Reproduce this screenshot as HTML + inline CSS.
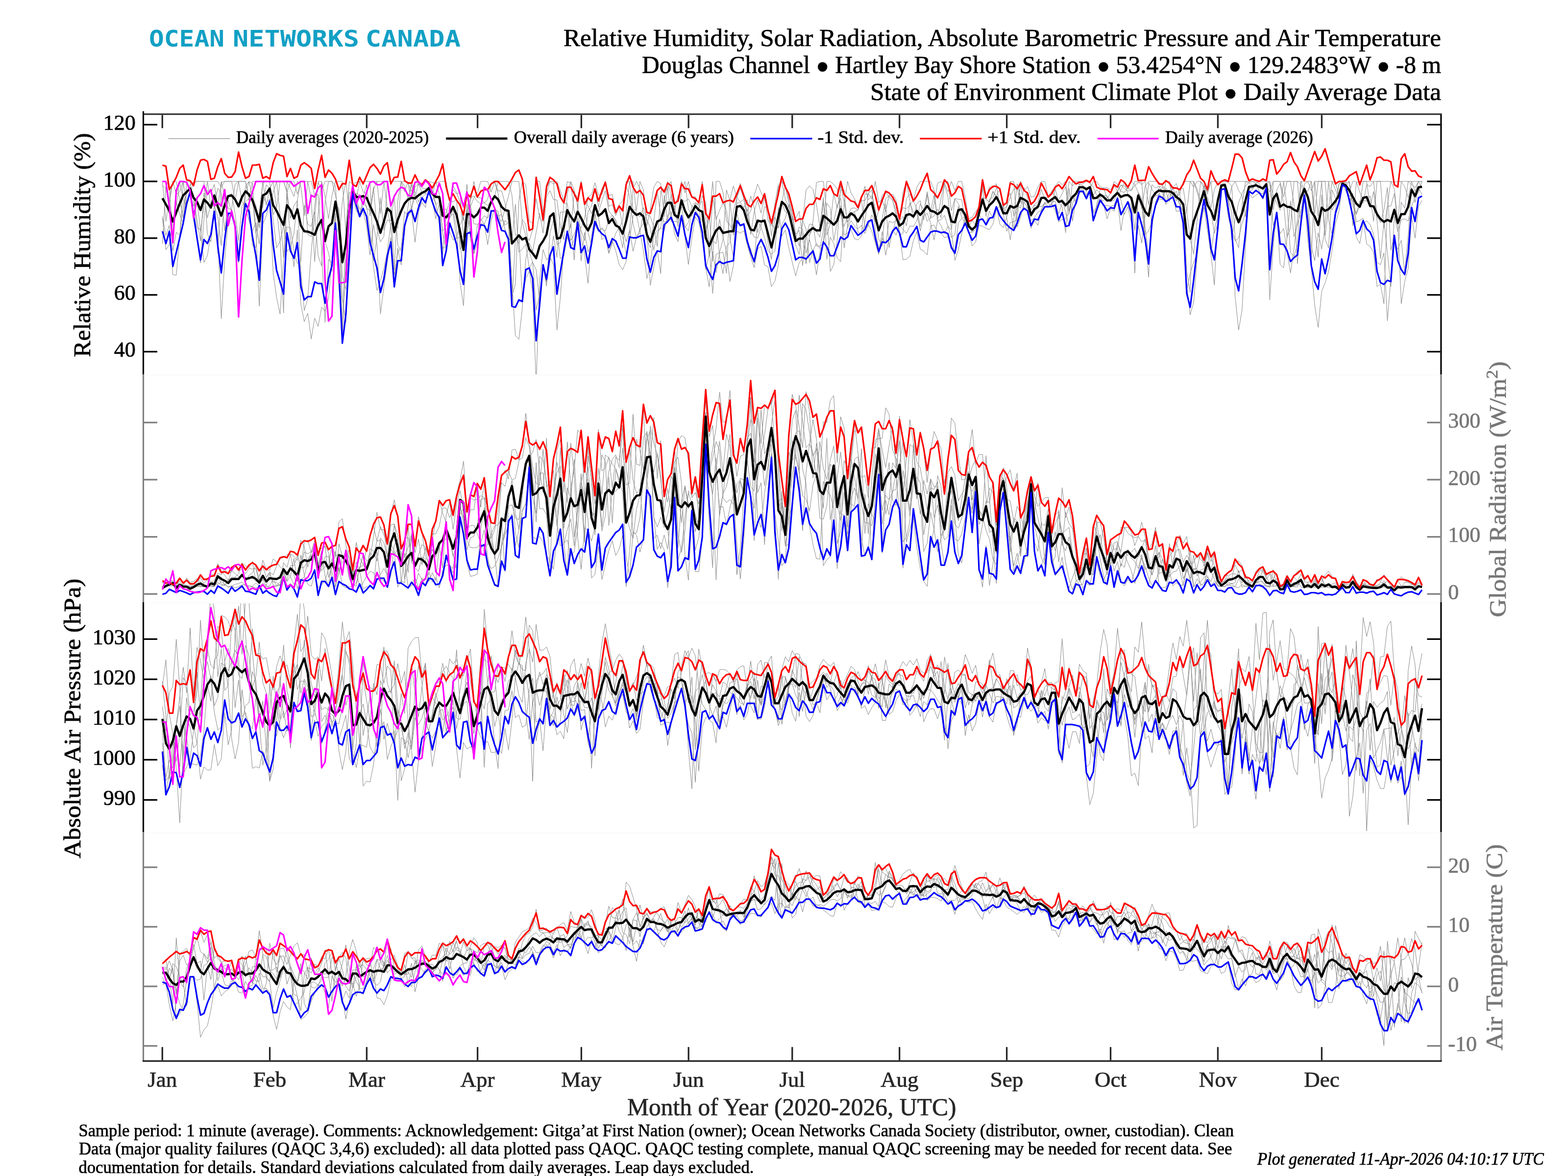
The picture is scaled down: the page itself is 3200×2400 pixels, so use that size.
<!DOCTYPE html><html><head><meta charset="utf-8"><title>Climate Plot</title><style>html,body{margin:0;padding:0;background:#fff;overflow:hidden}svg{display:block}text{font-family:"Liberation Serif", "DejaVu Serif", serif;}</style></head><body>
<svg xmlns="http://www.w3.org/2000/svg" width="3200" height="2400" viewBox="0 0 3200 2400">
<rect width="3200" height="2400" fill="#fff"/>
<defs>
<clipPath id="cp0"><rect x="292.5" y="233.0" width="2648.4" height="531.3"/></clipPath>
<clipPath id="cp1"><rect x="292.5" y="764.3" width="2648.4" height="464.60000000000014"/></clipPath>
<clipPath id="cp2"><rect x="292.5" y="1228.9" width="2648.4" height="469.29999999999995"/></clipPath>
<clipPath id="cp3"><rect x="292.5" y="1698.2" width="2648.4" height="467.10000000000014"/></clipPath>
</defs>
<polyline points="331.5,497.3 338.6,378.4 345.6,416.1 352.7,370.2 359.7,396.8 366.8,390.8 373.9,370.2 380.9,370.2 388.0,370.2 395.1,448.5 402.1,490.7 409.2,536.8 416.2,447.3 423.3,388.3 430.4,395.4 437.4,376.1 444.5,420.5 451.6,370.2 458.6,401.1 465.7,399.2 472.7,395.2 479.8,436.4 486.9,491.2 493.9,420.3 501.0,411.3 508.1,405.3 515.1,500.9 522.2,505.1 529.2,432.7 536.3,423.5 543.4,376.9 550.4,385.3 557.5,447.9 564.5,506.0 571.6,491.6 578.7,638.8 585.7,370.2 592.8,385.0 599.9,400.9 606.9,370.2 614.0,379.2 621.0,439.8 628.1,370.2 635.2,370.2 642.2,398.6 649.3,396.8 656.4,509.8 663.4,658.2 670.5,529.2 677.5,536.6 684.6,414.0 691.7,425.9 698.7,563.9 705.8,590.7 712.8,499.6 719.9,384.8 727.0,406.4 734.0,370.2 741.1,391.5 748.2,396.0 755.2,370.2 762.3,370.2 769.3,370.2 776.4,436.2 783.5,370.2 790.5,370.2 797.6,416.5 804.7,551.0 811.7,409.3 818.8,370.2 825.8,391.1 832.9,370.2 840.0,430.2 847.0,381.2 854.1,375.6 861.1,383.4 868.2,385.5 875.3,383.2 882.3,397.6 889.4,370.2 896.5,396.3 903.5,477.0 910.6,509.2 917.6,472.7 924.7,490.0 931.8,484.9 938.8,459.7 945.9,442.6 953.0,485.6 960.0,412.6 967.1,370.2 974.1,403.4 981.2,403.8 988.3,414.3 995.3,406.4 1002.4,374.9 1009.5,372.0 1016.5,394.2 1023.6,440.6 1030.6,459.6 1037.7,453.9 1044.8,622.7 1051.8,487.8 1058.9,496.6 1065.9,447.8 1073.0,458.4 1080.1,513.7 1087.1,535.6 1094.2,550.2 1101.3,615.4 1108.3,542.3 1115.4,584.1 1122.4,476.1 1129.5,448.7 1136.6,498.8 1143.6,494.8 1150.7,414.5 1157.8,415.6 1164.8,466.1 1171.9,394.5 1178.9,402.7 1186.0,370.2 1193.1,419.3 1200.1,474.9 1207.2,501.8 1214.2,436.9 1221.3,472.5 1228.4,464.3 1235.4,476.2 1242.5,515.1 1249.6,496.8 1256.6,476.5 1263.7,463.4 1270.7,482.6 1277.8,517.0 1284.9,489.5 1291.9,440.4 1299.0,435.8 1306.1,442.4 1313.1,423.7 1320.2,448.7 1327.2,465.1 1334.3,510.6 1341.4,475.9 1348.4,464.4 1355.5,411.0 1362.6,370.2 1369.6,396.8 1376.7,440.9 1383.7,449.0 1390.8,421.2 1397.9,464.1 1404.9,453.7 1412.0,421.0 1419.0,413.0 1426.1,417.8 1433.2,410.6 1440.2,474.6 1447.3,447.7 1454.4,370.2 1461.4,448.2 1468.5,429.2 1475.5,414.3 1482.6,428.5 1489.7,486.7 1496.7,524.7 1503.8,402.8 1510.9,412.1 1517.9,406.6 1525.0,435.2 1532.0,469.8 1539.1,483.7 1546.2,485.7 1553.2,464.3 1560.3,485.0 1567.4,512.1 1574.4,518.5 1581.5,512.9 1588.5,422.9 1595.6,482.0 1602.7,469.4 1609.7,505.3 1616.8,535.0 1623.8,562.9 1630.9,536.3 1638.0,526.9 1645.0,481.5 1652.1,457.3 1659.2,458.4 1666.2,502.1 1673.3,502.2 1680.3,497.1 1687.4,454.0 1694.5,457.0 1701.5,452.6 1708.6,419.0 1715.7,404.4 1722.7,479.6 1729.8,475.4 1736.8,468.1 1743.9,487.2 1751.0,489.6 1758.0,482.3 1765.1,454.0 1772.1,395.1 1779.2,406.3 1786.3,370.2 1793.3,413.2 1800.4,406.5 1807.5,431.6 1814.5,398.3 1821.6,396.2 1828.6,407.3 1835.7,442.8 1842.8,423.8 1849.8,426.1 1856.9,418.4 1864.0,409.2 1871.0,382.4 1878.1,370.2 1885.1,370.2 1892.2,370.2 1899.3,370.2 1906.3,388.0 1913.4,448.7 1920.5,404.2 1927.5,373.0 1934.6,391.2 1941.6,370.2 1948.7,388.5 1955.8,370.2 1962.8,370.2 1969.9,403.0 1976.9,446.7 1984.0,443.2 1991.1,431.7 1998.1,423.4 2005.2,403.2 2012.3,405.3 2019.3,381.3 2026.4,383.4 2033.4,374.8 2040.5,424.3 2047.6,438.5 2054.6,422.3 2061.7,370.2 2068.8,370.2 2075.8,463.6 2082.9,444.2 2089.9,411.6 2097.0,424.1 2104.1,450.9 2111.1,444.0 2118.2,432.6 2125.2,428.9 2132.3,415.4 2139.4,421.8 2146.4,415.5 2153.5,430.4 2160.6,453.0 2167.6,447.6 2174.7,445.7 2181.7,435.1 2188.8,402.0 2195.9,411.6 2202.9,390.3 2210.0,390.7 2217.1,400.7 2224.1,386.1 2231.2,435.5 2238.2,428.4 2245.3,410.2 2252.4,417.1 2259.4,446.7 2266.5,425.4 2273.6,431.0 2280.6,408.8 2287.7,470.6 2294.7,425.7 2301.8,410.5 2308.9,421.8 2315.9,557.4 2323.0,392.7 2330.0,404.4 2337.1,479.2 2344.2,470.8 2351.2,451.9 2358.3,420.5 2365.4,405.7 2372.4,407.5 2379.5,370.2 2386.5,370.2 2393.6,401.0 2400.7,389.8 2407.7,418.9 2414.8,416.2 2421.9,553.2 2428.9,596.6 2436.0,370.2 2443.0,385.7 2450.1,409.8 2457.2,378.6 2464.2,391.3 2471.3,370.2 2478.3,370.2 2485.4,370.2 2492.5,370.2 2499.5,370.2 2506.6,372.2 2513.7,379.3 2520.7,487.3 2527.8,505.8 2534.8,420.0 2541.9,370.2 2549.0,373.5 2556.0,378.2 2563.1,379.1 2570.2,384.0 2577.2,382.3 2584.3,378.2 2591.3,391.5 2598.4,370.2 2605.5,370.2 2612.5,370.2 2619.6,370.2 2626.7,370.2 2633.7,370.2 2640.8,370.7 2647.8,370.2 2654.9,453.3 2662.0,401.2 2669.0,399.7 2676.1,502.5 2683.1,531.8 2690.2,475.1 2697.3,508.3 2704.3,461.5 2711.4,370.2 2718.5,370.2 2725.5,371.7 2732.6,400.8 2739.6,373.4 2746.7,371.7 2753.8,416.8 2760.8,394.4 2767.9,483.6 2775.0,497.1 2782.0,456.8 2789.1,450.5 2796.1,458.2 2803.2,477.6 2810.3,535.8 2817.3,540.1 2824.4,516.2 2831.4,655.0 2838.5,566.8 2845.6,441.0 2852.6,472.5 2859.7,448.2 2866.8,446.7 2873.8,450.9 2880.9,420.7 2887.9,402.8 2895.0,392.0 2902.1,370.2" fill="none" stroke="#898989" stroke-width="1.0" stroke-linejoin="round" clip-path="url(#cp0)"/>
<polyline points="331.5,370.2 338.6,452.0 345.6,404.0 352.7,370.2 359.7,370.2 366.8,408.3 373.9,444.9 380.9,374.0 388.0,385.0 395.1,407.0 402.1,465.3 409.2,467.9 416.2,535.9 423.3,521.5 430.4,475.8 437.4,420.2 444.5,443.3 451.6,501.7 458.6,386.7 465.7,425.8 472.7,427.5 479.8,457.1 486.9,536.2 493.9,462.1 501.0,379.7 508.1,370.5 515.1,401.4 522.2,418.8 529.2,465.0 536.3,370.4 543.4,370.2 550.4,370.2 557.5,437.6 564.5,425.2 571.6,370.2 578.7,370.2 585.7,393.1 592.8,492.3 599.9,544.4 606.9,469.2 614.0,621.1 621.0,656.3 628.1,639.5 635.2,691.8 642.2,649.1 649.3,666.1 656.4,626.7 663.4,635.2 670.5,609.3 677.5,528.2 684.6,484.1 691.7,458.7 698.7,609.3 705.8,658.3 712.8,531.3 719.9,400.5 727.0,430.0 734.0,439.8 741.1,415.9 748.2,420.9 755.2,468.5 762.3,545.7 769.3,592.9 776.4,572.5 783.5,547.9 790.5,513.4 797.6,455.9 804.7,453.1 811.7,466.2 818.8,370.9 825.8,370.2 832.9,375.0 840.0,390.3 847.0,370.2 854.1,377.2 861.1,376.0 868.2,370.2 875.3,370.2 882.3,372.6 889.4,374.3 896.5,370.2 903.5,370.2 910.6,370.2 917.6,411.6 924.7,411.8 931.8,407.6 938.8,509.1 945.9,495.2 953.0,429.4 960.0,418.7 967.1,456.7 974.1,457.9 981.2,450.5 988.3,440.2 995.3,444.8 1002.4,432.7 1009.5,428.5 1016.5,430.6 1023.6,467.5 1030.6,449.9 1037.7,455.5 1044.8,574.0 1051.8,684.9 1058.9,692.5 1065.9,629.4 1073.0,528.4 1080.1,495.7 1087.1,512.9 1094.2,474.3 1101.3,435.2 1108.3,475.8 1115.4,401.4 1122.4,389.0 1129.5,407.1 1136.6,408.2 1143.6,460.7 1150.7,489.5 1157.8,395.5 1164.8,370.2 1171.9,388.1 1178.9,421.0 1186.0,370.2 1193.1,411.3 1200.1,420.2 1207.2,436.2 1214.2,415.9 1221.3,443.5 1228.4,489.0 1235.4,482.2 1242.5,517.7 1249.6,492.0 1256.6,511.8 1263.7,540.0 1270.7,550.5 1277.8,533.9 1284.9,468.9 1291.9,512.6 1299.0,484.2 1306.1,474.3 1313.1,511.1 1320.2,568.5 1327.2,539.7 1334.3,480.4 1341.4,470.7 1348.4,464.8 1355.5,470.9 1362.6,439.2 1369.6,432.3 1376.7,477.1 1383.7,493.2 1390.8,438.2 1397.9,461.9 1404.9,471.3 1412.0,431.2 1419.0,415.3 1426.1,418.4 1433.2,477.4 1440.2,549.8 1447.3,520.0 1454.4,405.3 1461.4,443.0 1468.5,524.8 1475.5,558.7 1482.6,502.6 1489.7,495.5 1496.7,431.8 1503.8,403.4 1510.9,374.3 1517.9,406.8 1525.0,431.5 1532.0,400.1 1539.1,423.5 1546.2,474.7 1553.2,453.8 1560.3,447.8 1567.4,495.6 1574.4,529.6 1581.5,442.4 1588.5,465.8 1595.6,414.0 1602.7,432.3 1609.7,437.4 1616.8,473.0 1623.8,499.7 1630.9,519.2 1638.0,451.7 1645.0,388.0 1652.1,379.2 1659.2,386.7 1666.2,417.7 1673.3,462.7 1680.3,403.1 1687.4,529.5 1694.5,484.0 1701.5,496.8 1708.6,526.3 1715.7,534.3 1722.7,414.6 1729.8,370.2 1736.8,393.8 1743.9,405.8 1751.0,423.2 1758.0,409.2 1765.1,409.8 1772.1,394.7 1779.2,388.1 1786.3,438.5 1793.3,463.9 1800.4,446.9 1807.5,405.5 1814.5,399.5 1821.6,407.4 1828.6,439.1 1835.7,480.8 1842.8,476.0 1849.8,405.4 1856.9,396.1 1864.0,410.3 1871.0,426.0 1878.1,462.1 1885.1,432.9 1892.2,391.3 1899.3,431.1 1906.3,398.2 1913.4,450.0 1920.5,448.3 1927.5,439.3 1934.6,462.3 1941.6,484.7 1948.7,478.6 1955.8,420.7 1962.8,444.1 1969.9,442.8 1976.9,461.2 1984.0,474.5 1991.1,460.3 1998.1,430.4 2005.2,378.5 2012.3,407.0 2019.3,412.5 2026.4,389.8 2033.4,403.9 2040.5,420.9 2047.6,423.8 2054.6,409.3 2061.7,393.6 2068.8,440.8 2075.8,375.0 2082.9,400.6 2089.9,426.5 2097.0,430.2 2104.1,465.7 2111.1,449.5 2118.2,459.9 2125.2,427.9 2132.3,412.5 2139.4,416.0 2146.4,418.3 2153.5,385.2 2160.6,412.2 2167.6,406.5 2174.7,433.6 2181.7,461.2 2188.8,416.0 2195.9,396.5 2202.9,375.7 2210.0,378.1 2217.1,391.3 2224.1,379.8 2231.2,432.0 2238.2,422.4 2245.3,399.8 2252.4,420.4 2259.4,419.0 2266.5,421.7 2273.6,418.6 2280.6,402.4 2287.7,387.2 2294.7,371.9 2301.8,396.6 2308.9,410.3 2315.9,469.9 2323.0,402.0 2330.0,425.8 2337.1,379.4 2344.2,370.2 2351.2,370.2 2358.3,370.2 2365.4,372.1 2372.4,378.0 2379.5,370.2 2386.5,374.0 2393.6,401.5 2400.7,431.5 2407.7,430.2 2414.8,437.7 2421.9,433.2 2428.9,370.2 2436.0,382.0 2443.0,370.2 2450.1,370.2 2457.2,384.8 2464.2,440.9 2471.3,518.8 2478.3,467.4 2485.4,441.7 2492.5,380.1 2499.5,377.7 2506.6,406.3 2513.7,432.3 2520.7,605.1 2527.8,673.4 2534.8,632.8 2541.9,501.4 2549.0,395.0 2556.0,403.9 2563.1,398.0 2570.2,393.6 2577.2,396.0 2584.3,374.6 2591.3,370.2 2598.4,399.0 2605.5,414.1 2612.5,429.4 2619.6,370.2 2626.7,422.0 2633.7,515.6 2640.8,523.2 2647.8,499.8 2654.9,370.2 2662.0,388.5 2669.0,390.2 2676.1,370.2 2683.1,436.3 2690.2,370.2 2697.3,370.2 2704.3,370.2 2711.4,449.0 2718.5,478.4 2725.5,426.9 2732.6,375.9 2739.6,372.2 2746.7,376.1 2753.8,392.2 2760.8,370.2 2767.9,370.2 2775.0,391.9 2782.0,408.7 2789.1,410.5 2796.1,399.6 2803.2,451.5 2810.3,370.2 2817.3,370.2 2824.4,465.3 2831.4,421.0 2838.5,420.6 2845.6,394.7 2852.6,459.1 2859.7,370.2 2866.8,381.2 2873.8,403.4 2880.9,370.2 2887.9,390.6 2895.0,370.2 2902.1,370.7" fill="none" stroke="#898989" stroke-width="1.0" stroke-linejoin="round" clip-path="url(#cp0)"/>
<polyline points="331.5,378.2 338.6,385.3 345.6,422.5 352.7,512.1 359.7,474.1 366.8,479.9 373.9,419.9 380.9,387.4 388.0,390.2 395.1,404.4 402.1,448.8 409.2,491.7 416.2,394.0 423.3,444.6 430.4,416.9 437.4,399.9 444.5,518.0 451.6,372.1 458.6,370.2 465.7,370.2 472.7,370.2 479.8,370.2 486.9,370.2 493.9,370.2 501.0,370.2 508.1,401.2 515.1,406.5 522.2,476.0 529.2,431.7 536.3,373.5 543.4,370.2 550.4,370.2 557.5,370.2 564.5,426.3 571.6,492.5 578.7,460.3 585.7,513.2 592.8,504.5 599.9,476.2 606.9,407.0 614.0,370.2 621.0,370.2 628.1,478.2 635.2,483.1 642.2,419.1 649.3,371.9 656.4,388.2 663.4,370.2 670.5,370.2 677.5,370.2 684.6,378.8 691.7,490.1 698.7,410.9 705.8,370.2 712.8,430.9 719.9,399.2 727.0,393.9 734.0,398.7 741.1,403.4 748.2,424.8 755.2,430.2 762.3,381.7 769.3,466.4 776.4,493.9 783.5,482.2 790.5,370.2 797.6,370.2 804.7,370.2 811.7,370.2 818.8,370.2 825.8,380.1 832.9,406.2 840.0,371.3 847.0,391.9 854.1,412.4 861.1,394.2 868.2,391.1 875.3,387.8 882.3,409.5 889.4,446.7 896.5,414.4 903.5,519.3 910.6,433.0 917.6,412.2 924.7,379.7 931.8,392.1 938.8,412.9 945.9,450.1 953.0,376.1 960.0,488.0 967.1,516.7 974.1,459.6 981.2,457.1 988.3,456.5 995.3,499.4 1002.4,451.5 1009.5,422.4 1016.5,443.7 1023.6,451.9 1030.6,426.4 1037.7,400.3 1044.8,370.2 1051.8,370.2 1058.9,370.2 1065.9,453.6 1073.0,481.2 1080.1,490.9 1087.1,468.4 1094.2,370.2 1101.3,370.2 1108.3,432.4 1115.4,396.0 1122.4,370.2 1129.5,370.2 1136.6,471.2 1143.6,527.9 1150.7,522.9 1157.8,483.6 1164.8,505.9 1171.9,489.1 1178.9,449.9 1186.0,470.2 1193.1,491.0 1200.1,432.2 1207.2,420.2 1214.2,386.5 1221.3,422.7 1228.4,384.9 1235.4,370.2 1242.5,421.2 1249.6,417.5 1256.6,440.0 1263.7,421.9 1270.7,462.4 1277.8,494.0 1284.9,470.4 1291.9,384.7 1299.0,370.2 1306.1,384.5 1313.1,438.5 1320.2,489.2 1327.2,505.6 1334.3,450.5 1341.4,391.0 1348.4,439.7 1355.5,453.2 1362.6,452.2 1369.6,395.9 1376.7,428.4 1383.7,398.9 1390.8,407.9 1397.9,411.1 1404.9,406.0 1412.0,420.6 1419.0,428.5 1426.1,439.7 1433.2,450.2 1440.2,475.3 1447.3,435.5 1454.4,533.7 1461.4,370.2 1468.5,370.2 1475.5,392.4 1482.6,451.5 1489.7,458.3 1496.7,473.4 1503.8,436.4 1510.9,461.8 1517.9,459.0 1525.0,496.1 1532.0,508.3 1539.1,536.9 1546.2,450.7 1553.2,463.7 1560.3,421.7 1567.4,428.6 1574.4,482.0 1581.5,414.8 1588.5,377.0 1595.6,370.2 1602.7,406.2 1609.7,422.9 1616.8,443.7 1623.8,480.4 1630.9,502.1 1638.0,449.2 1645.0,467.9 1652.1,536.1 1659.2,510.9 1666.2,497.0 1673.3,507.4 1680.3,469.7 1687.4,370.2 1694.5,370.2 1701.5,376.2 1708.6,385.7 1715.7,437.2 1722.7,462.2 1729.8,441.7 1736.8,425.4 1743.9,424.2 1751.0,429.0 1758.0,406.6 1765.1,380.1 1772.1,408.1 1779.2,398.8 1786.3,426.1 1793.3,488.1 1800.4,501.8 1807.5,415.0 1814.5,505.5 1821.6,468.8 1828.6,480.1 1835.7,460.6 1842.8,467.8 1849.8,476.2 1856.9,461.0 1864.0,462.0 1871.0,451.0 1878.1,415.8 1885.1,428.3 1892.2,451.5 1899.3,444.5 1906.3,440.9 1913.4,426.6 1920.5,444.2 1927.5,370.5 1934.6,370.2 1941.6,430.0 1948.7,405.0 1955.8,406.5 1962.8,407.3 1969.9,451.5 1976.9,474.2 1984.0,473.7 1991.1,468.7 1998.1,437.2 2005.2,450.3 2012.3,455.9 2019.3,430.6 2026.4,446.3 2033.4,421.9 2040.5,457.6 2047.6,464.4 2054.6,442.2 2061.7,421.5 2068.8,468.9 2075.8,430.2 2082.9,370.2 2089.9,426.5 2097.0,423.7 2104.1,442.6 2111.1,418.9 2118.2,420.9 2125.2,421.9 2132.3,413.9 2139.4,423.3 2146.4,414.9 2153.5,405.5 2160.6,413.5 2167.6,422.3 2174.7,474.9 2181.7,384.4 2188.8,451.2 2195.9,405.7 2202.9,386.4 2210.0,386.5 2217.1,397.2 2224.1,386.4 2231.2,370.2 2238.2,370.2 2245.3,381.4 2252.4,383.7 2259.4,382.8 2266.5,387.4 2273.6,376.6 2280.6,391.1 2287.7,377.6 2294.7,379.8 2301.8,385.8 2308.9,370.2 2315.9,376.8 2323.0,392.9 2330.0,418.5 2337.1,490.2 2344.2,565.5 2351.2,406.7 2358.3,400.3 2365.4,396.4 2372.4,380.2 2379.5,413.0 2386.5,392.1 2393.6,391.4 2400.7,410.2 2407.7,384.3 2414.8,384.5 2421.9,431.3 2428.9,487.4 2436.0,518.4 2443.0,450.2 2450.1,370.2 2457.2,377.2 2464.2,396.1 2471.3,370.2 2478.3,438.0 2485.4,404.5 2492.5,379.6 2499.5,382.1 2506.6,443.1 2513.7,468.3 2520.7,491.5 2527.8,485.8 2534.8,456.4 2541.9,434.5 2549.0,384.9 2556.0,384.0 2563.1,373.7 2570.2,370.2 2577.2,370.2 2584.3,370.2 2591.3,370.2 2598.4,427.8 2605.5,388.0 2612.5,374.4 2619.6,416.0 2626.7,485.8 2633.7,410.0 2640.8,482.9 2647.8,457.6 2654.9,432.1 2662.0,390.6 2669.0,430.9 2676.1,527.6 2683.1,370.2 2690.2,440.8 2697.3,370.2 2704.3,481.0 2711.4,425.1 2718.5,370.2 2725.5,387.1 2732.6,404.9 2739.6,377.8 2746.7,390.1 2753.8,405.9 2760.8,409.2 2767.9,437.6 2775.0,419.2 2782.0,370.2 2789.1,370.2 2796.1,423.5 2803.2,390.8 2810.3,450.4 2817.3,527.8 2824.4,451.5 2831.4,514.7 2838.5,584.8 2845.6,494.9 2852.6,508.5 2859.7,490.1 2866.8,556.8 2873.8,479.8 2880.9,382.4 2887.9,413.4 2895.0,383.7 2902.1,397.4" fill="none" stroke="#898989" stroke-width="1.0" stroke-linejoin="round" clip-path="url(#cp0)"/>
<polyline points="331.5,441.4 338.6,480.7 345.6,459.7 352.7,560.6 359.7,561.7 366.8,482.9 373.9,370.2 380.9,415.8 388.0,394.2 395.1,370.2 402.1,370.2 409.2,370.2 416.2,370.2 423.3,370.2 430.4,422.6 437.4,417.4 444.5,383.9 451.6,394.8 458.6,471.0 465.7,408.1 472.7,433.5 479.8,452.2 486.9,520.5 493.9,454.8 501.0,399.5 508.1,370.2 515.1,374.6 522.2,469.3 529.2,625.0 536.3,457.6 543.4,440.7 550.4,411.3 557.5,393.5 564.5,370.2 571.6,439.9 578.7,525.4 585.7,393.0 592.8,370.2 599.9,370.2 606.9,396.2 614.0,370.2 621.0,370.2 628.1,370.2 635.2,406.7 642.2,533.7 649.3,436.6 656.4,370.2 663.4,493.2 670.5,516.1 677.5,554.3 684.6,435.9 691.7,589.7 698.7,671.7 705.8,471.7 712.8,393.2 719.9,390.1 727.0,399.9 734.0,439.2 741.1,401.5 748.2,377.1 755.2,440.5 762.3,386.5 769.3,370.2 776.4,370.2 783.5,370.2 790.5,425.0 797.6,463.9 804.7,580.1 811.7,506.5 818.8,540.8 825.8,467.5 832.9,420.8 840.0,376.4 847.0,403.6 854.1,420.4 861.1,403.3 868.2,396.4 875.3,395.6 882.3,409.6 889.4,392.6 896.5,409.4 903.5,471.7 910.6,460.2 917.6,442.0 924.7,436.3 931.8,487.2 938.8,483.1 945.9,565.6 953.0,435.6 960.0,404.0 967.1,400.1 974.1,411.1 981.2,416.2 988.3,413.3 995.3,419.6 1002.4,410.3 1009.5,400.9 1016.5,370.2 1023.6,370.2 1030.6,370.2 1037.7,370.2 1044.8,398.2 1051.8,479.9 1058.9,478.6 1065.9,606.8 1073.0,569.2 1080.1,553.3 1087.1,595.4 1094.2,782.8 1101.3,572.3 1108.3,508.9 1115.4,530.5 1122.4,523.8 1129.5,540.0 1136.6,673.7 1143.6,607.0 1150.7,503.2 1157.8,478.2 1164.8,457.5 1171.9,530.7 1178.9,416.0 1186.0,485.3 1193.1,520.2 1200.1,578.2 1207.2,481.7 1214.2,440.9 1221.3,432.5 1228.4,410.0 1235.4,388.9 1242.5,430.7 1249.6,439.9 1256.6,451.2 1263.7,467.0 1270.7,450.0 1277.8,370.2 1284.9,370.2 1291.9,429.0 1299.0,427.4 1306.1,370.2 1313.1,387.5 1320.2,460.9 1327.2,427.4 1334.3,381.7 1341.4,370.2 1348.4,374.3 1355.5,441.8 1362.6,380.4 1369.6,452.3 1376.7,452.0 1383.7,453.1 1390.8,440.6 1397.9,484.7 1404.9,539.7 1412.0,485.4 1419.0,442.4 1426.1,453.3 1433.2,489.4 1440.2,545.3 1447.3,585.5 1454.4,513.2 1461.4,556.6 1468.5,516.8 1475.5,514.5 1482.6,557.7 1489.7,407.2 1496.7,379.6 1503.8,402.9 1510.9,384.7 1517.9,405.0 1525.0,441.6 1532.0,431.0 1539.1,399.8 1546.2,375.8 1553.2,392.6 1560.3,406.7 1567.4,431.4 1574.4,456.0 1581.5,467.4 1588.5,464.1 1595.6,412.7 1602.7,377.1 1609.7,405.7 1616.8,434.9 1623.8,486.2 1630.9,463.2 1638.0,467.7 1645.0,516.3 1652.1,489.2 1659.2,518.4 1666.2,560.7 1673.3,513.5 1680.3,494.4 1687.4,414.6 1694.5,424.4 1701.5,491.1 1708.6,453.5 1715.7,419.8 1722.7,506.1 1729.8,461.0 1736.8,437.7 1743.9,431.5 1751.0,473.7 1758.0,477.2 1765.1,396.4 1772.1,396.0 1779.2,378.6 1786.3,469.9 1793.3,507.7 1800.4,486.1 1807.5,496.2 1814.5,451.3 1821.6,454.8 1828.6,450.6 1835.7,450.4 1842.8,441.6 1849.8,461.1 1856.9,414.2 1864.0,432.7 1871.0,434.4 1878.1,471.6 1885.1,441.0 1892.2,435.1 1899.3,455.2 1906.3,490.0 1913.4,449.6 1920.5,460.6 1927.5,476.4 1934.6,461.5 1941.6,470.2 1948.7,531.4 1955.8,509.7 1962.8,476.8 1969.9,438.8 1976.9,453.7 1984.0,468.7 1991.1,458.5 1998.1,424.1 2005.2,370.2 2012.3,406.4 2019.3,412.8 2026.4,392.1 2033.4,398.9 2040.5,386.2 2047.6,421.5 2054.6,444.5 2061.7,489.5 2068.8,446.4 2075.8,420.3 2082.9,424.7 2089.9,383.1 2097.0,403.3 2104.1,442.4 2111.1,431.9 2118.2,425.6 2125.2,404.9 2132.3,402.7 2139.4,409.2 2146.4,412.4 2153.5,411.1 2160.6,436.4 2167.6,414.0 2174.7,423.0 2181.7,370.2 2188.8,378.9 2195.9,373.4 2202.9,376.4 2210.0,370.2 2217.1,370.2 2224.1,372.8 2231.2,398.9 2238.2,387.2 2245.3,395.0 2252.4,398.9 2259.4,399.8 2266.5,411.7 2273.6,398.6 2280.6,389.0 2287.7,377.1 2294.7,384.6 2301.8,389.5 2308.9,389.0 2315.9,378.2 2323.0,372.8 2330.0,370.7 2337.1,466.1 2344.2,520.4 2351.2,463.0 2358.3,412.7 2365.4,395.1 2372.4,405.2 2379.5,383.5 2386.5,394.2 2393.6,402.1 2400.7,403.5 2407.7,395.9 2414.8,471.5 2421.9,581.2 2428.9,642.5 2436.0,617.4 2443.0,527.1 2450.1,456.3 2457.2,400.8 2464.2,402.6 2471.3,423.8 2478.3,386.5 2485.4,372.6 2492.5,377.2 2499.5,370.2 2506.6,370.2 2513.7,370.2 2520.7,370.2 2527.8,370.2 2534.8,370.2 2541.9,370.2 2549.0,370.2 2556.0,370.2 2563.1,374.6 2570.2,382.5 2577.2,384.8 2584.3,374.4 2591.3,370.2 2598.4,460.6 2605.5,435.7 2612.5,477.4 2619.6,466.0 2626.7,514.6 2633.7,557.1 2640.8,507.7 2647.8,446.5 2654.9,370.2 2662.0,370.2 2669.0,370.2 2676.1,370.2 2683.1,464.4 2690.2,524.6 2697.3,397.7 2704.3,488.2 2711.4,505.9 2718.5,387.2 2725.5,404.6 2732.6,405.3 2739.6,378.2 2746.7,380.1 2753.8,370.2 2760.8,460.7 2767.9,372.8 2775.0,370.2 2782.0,370.2 2789.1,370.2 2796.1,370.2 2803.2,370.2 2810.3,441.8 2817.3,454.0 2824.4,428.0 2831.4,382.8 2838.5,510.9 2845.6,479.8 2852.6,527.2 2859.7,412.5 2866.8,424.9 2873.8,370.2 2880.9,376.8 2887.9,382.8 2895.0,370.2 2902.1,384.5" fill="none" stroke="#898989" stroke-width="1.0" stroke-linejoin="round" clip-path="url(#cp0)"/>
<polyline points="331.5,446.0 338.6,509.8 345.6,499.1 352.7,449.0 359.7,420.7 366.8,370.2 373.9,407.9 380.9,421.7 388.0,396.2 395.1,420.4 402.1,406.7 409.2,471.5 416.2,420.9 423.3,370.2 430.4,370.2 437.4,370.2 444.5,370.2 451.6,382.2 458.6,370.2 465.7,370.2 472.7,370.2 479.8,409.1 486.9,370.2 493.9,410.3 501.0,425.2 508.1,450.0 515.1,471.9 522.2,454.0 529.2,498.0 536.3,398.1 543.4,414.4 550.4,405.7 557.5,557.3 564.5,607.4 571.6,641.1 578.7,530.2 585.7,463.0 592.8,464.9 599.9,513.3 606.9,537.7 614.0,533.1 621.0,418.7 628.1,457.6 635.2,462.2 642.2,432.9 649.3,522.3 656.4,543.0 663.4,412.5 670.5,370.2 677.5,370.2 684.6,398.6 691.7,434.2 698.7,685.1 705.8,529.5 712.8,460.6 719.9,391.5 727.0,409.8 734.0,426.0 741.1,431.8 748.2,461.5 755.2,520.4 762.3,458.5 769.3,497.2 776.4,641.0 783.5,584.4 790.5,534.1 797.6,484.7 804.7,561.0 811.7,515.9 818.8,504.8 825.8,431.5 832.9,441.4 840.0,430.9 847.0,494.2 854.1,431.8 861.1,413.1 868.2,423.2 875.3,383.3 882.3,386.7 889.4,416.2 896.5,456.7 903.5,507.3 910.6,502.1 917.6,427.4 924.7,386.7 931.8,395.9 938.8,391.9 945.9,484.6 953.0,416.2 960.0,476.7 967.1,518.4 974.1,495.6 981.2,446.0 988.3,457.5 995.3,441.4 1002.4,410.7 1009.5,422.0 1016.5,441.2 1023.6,437.4 1030.6,469.0 1037.7,487.4 1044.8,489.2 1051.8,417.0 1058.9,514.9 1065.9,508.4 1073.0,498.5 1080.1,547.5 1087.1,534.0 1094.2,632.6 1101.3,601.1 1108.3,540.1 1115.4,576.2 1122.4,534.6 1129.5,481.0 1136.6,525.7 1143.6,432.6 1150.7,433.1 1157.8,428.5 1164.8,490.9 1171.9,478.0 1178.9,456.3 1186.0,465.2 1193.1,445.7 1200.1,402.0 1207.2,397.3 1214.2,373.0 1221.3,398.1 1228.4,396.9 1235.4,375.7 1242.5,398.7 1249.6,396.9 1256.6,433.5 1263.7,417.8 1270.7,410.2 1277.8,379.5 1284.9,399.8 1291.9,456.2 1299.0,486.0 1306.1,467.1 1313.1,455.9 1320.2,436.6 1327.2,442.0 1334.3,463.8 1341.4,503.2 1348.4,390.0 1355.5,385.9 1362.6,387.2 1369.6,370.2 1376.7,414.7 1383.7,405.1 1390.8,370.2 1397.9,393.6 1404.9,370.2 1412.0,402.9 1419.0,401.1 1426.1,415.5 1433.2,370.2 1440.2,454.2 1447.3,523.4 1454.4,491.6 1461.4,497.3 1468.5,447.1 1475.5,483.7 1482.6,514.4 1489.7,574.5 1496.7,542.7 1503.8,471.5 1510.9,476.1 1517.9,470.9 1525.0,500.0 1532.0,524.3 1539.1,546.2 1546.2,507.5 1553.2,503.0 1560.3,540.9 1567.4,544.4 1574.4,585.1 1581.5,573.4 1588.5,540.6 1595.6,458.6 1602.7,445.3 1609.7,417.1 1616.8,449.1 1623.8,445.0 1630.9,431.1 1638.0,484.5 1645.0,538.6 1652.1,479.9 1659.2,452.6 1666.2,372.5 1673.3,370.2 1680.3,370.2 1687.4,432.8 1694.5,554.1 1701.5,540.3 1708.6,492.3 1715.7,378.5 1722.7,411.6 1729.8,453.3 1736.8,436.8 1743.9,431.7 1751.0,429.0 1758.0,406.9 1765.1,465.2 1772.1,458.8 1779.2,471.5 1786.3,495.7 1793.3,519.2 1800.4,472.3 1807.5,521.0 1814.5,485.3 1821.6,475.7 1828.6,445.8 1835.7,455.0 1842.8,392.7 1849.8,370.2 1856.9,409.3 1864.0,446.4 1871.0,415.6 1878.1,409.5 1885.1,448.4 1892.2,396.2 1899.3,445.9 1906.3,415.6 1913.4,374.0 1920.5,370.2 1927.5,377.8 1934.6,401.1 1941.6,468.6 1948.7,406.0 1955.8,415.3 1962.8,435.0 1969.9,442.7 1976.9,473.5 1984.0,502.0 1991.1,493.8 1998.1,459.6 2005.2,461.6 2012.3,465.8 2019.3,468.6 2026.4,457.3 2033.4,428.4 2040.5,419.6 2047.6,437.2 2054.6,472.2 2061.7,454.4 2068.8,452.4 2075.8,448.6 2082.9,370.2 2089.9,388.9 2097.0,380.6 2104.1,402.2 2111.1,400.6 2118.2,381.1 2125.2,370.2 2132.3,370.2 2139.4,401.7 2146.4,390.1 2153.5,400.1 2160.6,409.1 2167.6,394.9 2174.7,380.6 2181.7,437.0 2188.8,370.2 2195.9,370.2 2202.9,370.2 2210.0,374.8 2217.1,370.2 2224.1,373.1 2231.2,381.6 2238.2,398.9 2245.3,409.0 2252.4,408.6 2259.4,403.0 2266.5,411.6 2273.6,408.7 2280.6,394.6 2287.7,408.5 2294.7,437.6 2301.8,421.5 2308.9,455.0 2315.9,518.2 2323.0,460.2 2330.0,496.1 2337.1,437.9 2344.2,372.7 2351.2,386.3 2358.3,399.0 2365.4,383.1 2372.4,377.2 2379.5,391.2 2386.5,411.4 2393.6,382.5 2400.7,374.6 2407.7,395.9 2414.8,370.2 2421.9,370.2 2428.9,370.2 2436.0,370.2 2443.0,392.2 2450.1,415.6 2457.2,377.6 2464.2,410.8 2471.3,431.2 2478.3,475.8 2485.4,456.9 2492.5,384.4 2499.5,386.2 2506.6,406.5 2513.7,488.6 2520.7,447.8 2527.8,413.2 2534.8,395.2 2541.9,379.1 2549.0,372.6 2556.0,370.2 2563.1,370.2 2570.2,375.2 2577.2,387.7 2584.3,377.0 2591.3,545.2 2598.4,370.2 2605.5,370.2 2612.5,371.0 2619.6,401.9 2626.7,370.2 2633.7,370.2 2640.8,416.8 2647.8,538.0 2654.9,453.7 2662.0,375.4 2669.0,370.2 2676.1,388.8 2683.1,370.2 2690.2,370.2 2697.3,370.2 2704.3,370.2 2711.4,370.2 2718.5,428.6 2725.5,415.3 2732.6,374.8 2739.6,370.2 2746.7,373.3 2753.8,370.2 2760.8,421.4 2767.9,435.6 2775.0,410.2 2782.0,414.8 2789.1,376.5 2796.1,380.7 2803.2,370.2 2810.3,370.2 2817.3,370.2 2824.4,370.2 2831.4,370.2 2838.5,370.2 2845.6,385.3 2852.6,450.9 2859.7,619.9 2866.8,574.3 2873.8,547.5 2880.9,440.6 2887.9,485.9 2895.0,420.7 2902.1,409.0" fill="none" stroke="#898989" stroke-width="1.0" stroke-linejoin="round" clip-path="url(#cp0)"/>
<polyline points="331.5,370.2 338.6,370.2 345.6,380.5 352.7,480.3 359.7,411.6 366.8,438.1 373.9,455.2 380.9,394.6 388.0,376.7 395.1,375.8 402.1,370.2 409.2,370.2 416.2,370.2 423.3,477.1 430.4,493.7 437.4,435.1 444.5,479.4 451.6,650.6 458.6,529.3 465.7,450.4 472.7,426.9 479.8,376.2 486.9,370.2 493.9,370.2 501.0,370.2 508.1,409.6 515.1,370.2 522.2,370.2 529.2,370.2 536.3,370.2 543.4,419.2 550.4,385.3 557.5,370.2 564.5,370.2 571.6,370.2 578.7,370.2 585.7,390.5 592.8,445.2 599.9,419.7 606.9,409.1 614.0,551.9 621.0,633.8 628.1,609.3 635.2,512.8 642.2,442.6 649.3,370.2 656.4,370.2 663.4,401.2 670.5,446.3 677.5,399.3 684.6,370.2 691.7,370.2 698.7,370.2 705.8,472.4 712.8,370.2 719.9,376.0 727.0,372.0 734.0,370.2 741.1,370.2 748.2,370.2 755.2,370.2 762.3,531.8 769.3,484.4 776.4,403.5 783.5,469.5 790.5,448.8 797.6,451.0 804.7,401.5 811.7,500.3 818.8,512.2 825.8,464.1 832.9,432.7 840.0,423.0 847.0,402.8 854.1,374.6 861.1,392.0 868.2,395.0 875.3,382.0 882.3,395.9 889.4,418.2 896.5,411.1 903.5,427.6 910.6,426.9 917.6,446.1 924.7,427.5 931.8,464.3 938.8,575.3 945.9,624.0 953.0,479.1 960.0,421.9 967.1,404.0 974.1,394.3 981.2,370.2 988.3,370.2 995.3,370.3 1002.4,391.8 1009.5,370.2 1016.5,389.5 1023.6,389.5 1030.6,414.5 1037.7,453.1 1044.8,604.4 1051.8,579.9 1058.9,409.7 1065.9,370.2 1073.0,376.4 1080.1,450.9 1087.1,455.6 1094.2,405.5 1101.3,444.8 1108.3,452.5 1115.4,383.7 1122.4,370.2 1129.5,375.6 1136.6,370.2 1143.6,388.9 1150.7,408.8 1157.8,370.5 1164.8,373.6 1171.9,431.6 1178.9,446.1 1186.0,532.4 1193.1,474.5 1200.1,514.4 1207.2,494.9 1214.2,458.8 1221.3,472.7 1228.4,467.0 1235.4,471.8 1242.5,448.5 1249.6,438.9 1256.6,449.0 1263.7,471.8 1270.7,506.2 1277.8,434.9 1284.9,370.2 1291.9,370.2 1299.0,437.8 1306.1,473.6 1313.1,435.2 1320.2,468.0 1327.2,582.3 1334.3,545.0 1341.4,510.5 1348.4,558.7 1355.5,399.2 1362.6,454.6 1369.6,438.2 1376.7,419.0 1383.7,462.6 1390.8,388.7 1397.9,370.2 1404.9,426.3 1412.0,441.0 1419.0,421.7 1426.1,427.3 1433.2,399.3 1440.2,412.7 1447.3,500.0 1454.4,599.3 1461.4,519.2 1468.5,515.4 1475.5,488.4 1482.6,387.4 1489.7,409.8 1496.7,479.8 1503.8,414.9 1510.9,413.1 1517.9,423.7 1525.0,407.6 1532.0,478.6 1539.1,431.9 1546.2,407.6 1553.2,434.6 1560.3,400.0 1567.4,449.9 1574.4,460.8 1581.5,441.1 1588.5,381.6 1595.6,370.2 1602.7,381.7 1609.7,413.6 1616.8,436.2 1623.8,477.8 1630.9,470.1 1638.0,542.0 1645.0,479.7 1652.1,480.2 1659.2,464.9 1666.2,472.0 1673.3,484.2 1680.3,410.8 1687.4,479.8 1694.5,456.4 1701.5,395.1 1708.6,425.2 1715.7,387.8 1722.7,387.9 1729.8,465.3 1736.8,450.2 1743.9,461.5 1751.0,467.5 1758.0,459.9 1765.1,476.5 1772.1,459.3 1779.2,438.7 1786.3,452.8 1793.3,429.9 1800.4,398.4 1807.5,392.6 1814.5,402.1 1821.6,409.1 1828.6,429.1 1835.7,472.6 1842.8,530.1 1849.8,528.9 1856.9,523.0 1864.0,491.3 1871.0,472.5 1878.1,508.4 1885.1,512.3 1892.2,520.1 1899.3,461.0 1906.3,459.3 1913.4,473.0 1920.5,475.6 1927.5,485.0 1934.6,482.7 1941.6,502.0 1948.7,512.5 1955.8,455.0 1962.8,445.6 1969.9,453.2 1976.9,462.7 1984.0,449.9 1991.1,459.1 1998.1,437.3 2005.2,383.5 2012.3,441.6 2019.3,406.3 2026.4,403.1 2033.4,384.0 2040.5,383.5 2047.6,426.7 2054.6,421.5 2061.7,401.9 2068.8,386.0 2075.8,384.2 2082.9,413.1 2089.9,405.5 2097.0,410.1 2104.1,428.2 2111.1,417.1 2118.2,412.0 2125.2,386.1 2132.3,408.4 2139.4,399.9 2146.4,390.7 2153.5,379.7 2160.6,370.2 2167.6,376.8 2174.7,370.2 2181.7,430.7 2188.8,398.4 2195.9,416.1 2202.9,393.0 2210.0,392.9 2217.1,402.0 2224.1,393.9 2231.2,451.0 2238.2,417.3 2245.3,386.6 2252.4,383.2 2259.4,404.6 2266.5,394.3 2273.6,370.2 2280.6,376.1 2287.7,391.1 2294.7,392.5 2301.8,384.1 2308.9,388.0 2315.9,370.2 2323.0,371.4 2330.0,376.4 2337.1,370.2 2344.2,417.5 2351.2,376.7 2358.3,383.9 2365.4,379.5 2372.4,393.9 2379.5,417.6 2386.5,402.5 2393.6,383.5 2400.7,402.3 2407.7,416.7 2414.8,432.6 2421.9,593.2 2428.9,558.2 2436.0,534.9 2443.0,518.2 2450.1,461.8 2457.2,423.0 2464.2,470.4 2471.3,518.0 2478.3,581.7 2485.4,433.8 2492.5,387.4 2499.5,384.3 2506.6,411.5 2513.7,381.0 2520.7,370.2 2527.8,388.6 2534.8,399.1 2541.9,442.5 2549.0,392.1 2556.0,386.8 2563.1,373.6 2570.2,391.1 2577.2,407.0 2584.3,387.6 2591.3,611.9 2598.4,502.4 2605.5,433.0 2612.5,539.6 2619.6,546.7 2626.7,483.5 2633.7,465.2 2640.8,370.2 2647.8,370.2 2654.9,377.7 2662.0,395.3 2669.0,490.0 2676.1,545.5 2683.1,623.1 2690.2,668.1 2697.3,594.5 2704.3,577.3 2711.4,553.9 2718.5,510.8 2725.5,456.5 2732.6,430.2 2739.6,376.5 2746.7,380.7 2753.8,400.3 2760.8,399.2 2767.9,453.1 2775.0,450.0 2782.0,445.5 2789.1,498.0 2796.1,502.8 2803.2,515.3 2810.3,584.7 2817.3,580.2 2824.4,620.1 2831.4,418.4 2838.5,370.2 2845.6,372.3 2852.6,370.2 2859.7,370.2 2866.8,370.2 2873.8,370.2 2880.9,370.2 2887.9,370.2 2895.0,370.2 2902.1,370.2" fill="none" stroke="#898989" stroke-width="1.0" stroke-linejoin="round" clip-path="url(#cp0)"/>
<polyline points="331.5,404.7 338.6,417.0 345.6,430.3 352.7,452.0 359.7,433.7 366.8,415.3 373.9,398.7 380.9,392.0 388.0,384.7 395.1,403.7 402.1,412.0 409.2,428.7 416.2,407.0 423.3,413.7 430.4,423.7 437.4,398.7 444.5,422.0 451.6,440.3 458.6,418.7 465.7,400.3 472.7,398.7 479.8,407.0 486.9,421.3 493.9,402.0 501.0,390.3 508.1,397.0 515.1,408.7 522.2,428.7 529.2,452.0 536.3,398.7 543.4,395.3 550.4,384.7 557.5,418.7 564.5,430.3 571.6,445.3 578.7,459.3 585.7,418.7 592.8,428.7 599.9,446.0 606.9,427.0 614.0,460.3 621.0,472.0 628.1,472.7 635.2,475.3 642.2,479.3 649.3,460.3 656.4,448.7 663.4,492.0 670.5,462.0 677.5,455.3 684.6,411.3 691.7,455.3 698.7,535.3 705.8,498.7 712.8,428.7 719.9,390.3 727.0,402.0 734.0,402.0 741.1,400.3 748.2,403.7 755.2,420.3 762.3,435.3 769.3,452.0 776.4,475.3 783.5,452.0 790.5,425.3 797.6,432.0 804.7,473.7 811.7,448.7 818.8,430.3 825.8,415.3 832.9,407.0 840.0,403.7 847.0,404.7 854.1,398.7 861.1,393.7 868.2,390.3 875.3,383.7 882.3,395.3 889.4,402.0 896.5,402.0 903.5,440.3 910.6,443.7 917.6,435.3 924.7,422.0 931.8,438.7 938.8,472.0 945.9,510.3 953.0,437.0 960.0,437.0 967.1,443.7 974.1,437.0 981.2,423.7 988.3,423.7 995.3,430.3 1002.4,412.0 1009.5,400.3 1016.5,407.0 1023.6,422.0 1030.6,428.7 1037.7,430.3 1044.8,497.0 1051.8,488.7 1058.9,480.3 1065.9,488.7 1073.0,485.3 1080.1,508.7 1087.1,517.0 1094.2,527.0 1101.3,502.0 1108.3,492.0 1115.4,478.7 1122.4,442.0 1129.5,435.3 1136.6,487.0 1143.6,485.3 1150.7,462.0 1157.8,428.7 1164.8,442.0 1171.9,452.0 1178.9,432.0 1186.0,445.3 1193.1,460.3 1200.1,470.3 1207.2,455.3 1214.2,418.7 1221.3,440.3 1228.4,435.3 1235.4,427.0 1242.5,455.3 1249.6,447.0 1256.6,460.3 1263.7,463.7 1270.7,477.0 1277.8,452.0 1284.9,422.0 1291.9,432.0 1299.0,438.7 1306.1,435.3 1313.1,442.0 1320.2,478.7 1327.2,493.7 1334.3,472.0 1341.4,452.0 1348.4,448.7 1355.5,427.0 1362.6,413.7 1369.6,413.7 1376.7,438.7 1383.7,443.7 1390.8,408.7 1397.9,430.3 1404.9,443.7 1412.0,433.7 1419.0,420.3 1426.1,428.7 1433.2,432.0 1440.2,485.3 1447.3,502.0 1454.4,485.3 1461.4,470.3 1468.5,463.7 1475.5,475.3 1482.6,473.7 1489.7,472.0 1496.7,472.0 1503.8,422.0 1510.9,420.3 1517.9,428.7 1525.0,452.0 1532.0,468.7 1539.1,470.3 1546.2,450.3 1553.2,452.0 1560.3,450.3 1567.4,477.0 1574.4,505.3 1581.5,475.3 1588.5,442.0 1595.6,412.0 1602.7,418.7 1609.7,433.7 1616.8,462.0 1623.8,492.0 1630.9,487.0 1638.0,487.0 1645.0,478.7 1652.1,470.3 1659.2,465.3 1666.2,470.3 1673.3,470.3 1680.3,440.3 1687.4,445.3 1694.5,452.0 1701.5,458.7 1708.6,450.3 1715.7,427.0 1722.7,443.7 1729.8,443.7 1736.8,435.3 1743.9,440.3 1751.0,452.0 1758.0,440.3 1765.1,430.3 1772.1,418.7 1779.2,413.7 1786.3,442.0 1793.3,470.3 1800.4,452.0 1807.5,443.7 1814.5,440.3 1821.6,435.3 1828.6,442.0 1835.7,460.3 1842.8,455.3 1849.8,438.7 1856.9,437.0 1864.0,442.0 1871.0,430.3 1878.1,438.7 1885.1,430.3 1892.2,420.3 1899.3,430.3 1906.3,432.0 1913.4,437.0 1920.5,432.0 1927.5,420.3 1934.6,425.3 1941.6,452.0 1948.7,453.7 1955.8,428.7 1962.8,427.0 1969.9,438.7 1976.9,462.0 1984.0,468.7 1991.1,462.0 1998.1,435.3 2005.2,407.0 2012.3,430.3 2019.3,418.7 2026.4,412.0 2033.4,402.0 2040.5,415.3 2047.6,435.3 2054.6,435.3 2061.7,420.3 2068.8,423.7 2075.8,420.3 2082.9,403.7 2089.9,407.0 2097.0,412.0 2104.1,438.7 2111.1,427.0 2118.2,422.0 2125.2,403.7 2132.3,403.7 2139.4,412.0 2146.4,407.0 2153.5,402.0 2160.6,412.0 2167.6,410.3 2174.7,418.7 2181.7,412.0 2188.8,402.0 2195.9,395.3 2202.9,382.0 2210.0,382.0 2217.1,386.0 2224.1,382.0 2231.2,404.7 2238.2,403.7 2245.3,397.0 2252.4,402.0 2259.4,409.3 2266.5,408.7 2273.6,400.3 2280.6,393.7 2287.7,402.0 2294.7,398.7 2301.8,398.0 2308.9,403.7 2315.9,433.7 2323.0,398.7 2330.0,415.3 2337.1,432.0 2344.2,440.3 2351.2,403.7 2358.3,393.7 2365.4,388.7 2372.4,390.3 2379.5,390.3 2386.5,390.3 2393.6,393.7 2400.7,402.0 2407.7,407.0 2414.8,417.0 2421.9,478.7 2428.9,487.0 2436.0,452.0 2443.0,432.0 2450.1,412.0 2457.2,390.3 2464.2,418.7 2471.3,430.3 2478.3,448.7 2485.4,408.7 2492.5,378.7 2499.5,377.0 2506.6,400.3 2513.7,412.0 2520.7,435.3 2527.8,453.7 2534.8,435.3 2541.9,408.7 2549.0,381.3 2556.0,380.3 2563.1,378.0 2570.2,381.3 2577.2,384.7 2584.3,376.0 2591.3,438.0 2598.4,405.3 2605.5,395.3 2612.5,422.0 2619.6,417.0 2626.7,422.0 2633.7,422.7 2640.8,428.0 2647.8,431.3 2654.9,403.7 2662.0,385.3 2669.0,402.0 2676.1,432.0 2683.1,442.0 2690.2,459.3 2697.3,423.7 2704.3,430.3 2711.4,427.0 2718.5,418.7 2725.5,410.3 2732.6,398.7 2739.6,374.7 2746.7,378.7 2753.8,388.7 2760.8,402.0 2767.9,415.3 2775.0,422.0 2782.0,403.7 2789.1,402.0 2796.1,420.3 2803.2,421.3 2810.3,437.0 2817.3,447.0 2824.4,452.7 2831.4,448.7 2838.5,452.0 2845.6,428.0 2852.6,455.3 2859.7,437.0 2866.8,437.0 2873.8,422.0 2880.9,387.0 2887.9,400.3 2895.0,382.0 2902.1,381.3" fill="none" stroke="#000000" stroke-width="4.5" stroke-linejoin="round" clip-path="url(#cp0)"/>
<polyline points="331.5,472.0 338.6,497.0 345.6,472.0 352.7,543.7 359.7,515.3 366.8,485.3 373.9,455.3 380.9,415.3 388.0,392.0 395.1,438.7 402.1,485.3 409.2,530.3 416.2,488.7 423.3,497.0 430.4,478.7 437.4,431.3 444.5,502.0 451.6,557.0 458.6,488.7 465.7,435.3 472.7,435.3 479.8,462.0 486.9,532.0 493.9,462.0 501.0,415.3 508.1,432.0 515.1,482.0 522.2,522.0 529.2,572.0 536.3,435.3 543.4,428.7 550.4,410.3 557.5,498.7 564.5,552.0 571.6,575.3 578.7,600.3 585.7,475.3 592.8,512.0 599.9,527.0 606.9,495.3 614.0,583.7 621.0,612.0 628.1,605.3 635.2,605.3 642.2,575.3 649.3,578.7 656.4,578.7 663.4,618.7 670.5,568.7 677.5,542.0 684.6,455.3 691.7,555.3 698.7,700.3 705.8,642.0 712.8,522.0 719.9,395.3 727.0,418.7 734.0,442.0 741.1,425.3 748.2,442.0 755.2,495.3 762.3,522.0 769.3,547.0 776.4,597.0 783.5,568.7 790.5,522.0 797.6,493.7 804.7,585.3 811.7,532.0 818.8,532.0 825.8,460.3 832.9,435.3 840.0,428.7 847.0,452.0 854.1,423.7 861.1,403.7 868.2,413.7 875.3,390.3 882.3,412.0 889.4,432.0 896.5,443.7 903.5,542.0 910.6,512.0 917.6,455.3 924.7,475.3 931.8,498.7 938.8,552.0 945.9,580.3 953.0,477.0 960.0,473.7 967.1,508.7 974.1,482.0 981.2,458.7 988.3,460.3 995.3,473.7 1002.4,430.3 1009.5,430.3 1016.5,448.7 1023.6,470.3 1030.6,472.0 1037.7,488.7 1044.8,625.3 1051.8,627.0 1058.9,612.0 1065.9,615.3 1073.0,550.3 1080.1,547.0 1087.1,568.7 1094.2,695.3 1101.3,622.0 1108.3,540.3 1115.4,570.3 1122.4,520.3 1129.5,503.7 1136.6,600.3 1143.6,555.3 1150.7,512.0 1157.8,472.0 1164.8,505.3 1171.9,508.7 1178.9,453.7 1186.0,515.3 1193.1,502.0 1200.1,537.0 1207.2,497.0 1214.2,452.0 1221.3,468.7 1228.4,477.0 1235.4,482.0 1242.5,505.3 1249.6,487.0 1256.6,492.0 1263.7,508.7 1270.7,527.0 1277.8,527.0 1284.9,483.7 1291.9,485.3 1299.0,485.3 1306.1,482.0 1313.1,480.3 1320.2,528.7 1327.2,555.3 1334.3,525.3 1341.4,512.0 1348.4,513.7 1355.5,458.7 1362.6,452.0 1369.6,443.7 1376.7,462.0 1383.7,482.0 1390.8,440.3 1397.9,478.7 1404.9,505.3 1412.0,458.7 1419.0,433.7 1426.1,443.7 1433.2,473.7 1440.2,542.0 1447.3,557.0 1454.4,570.3 1461.4,540.3 1468.5,533.7 1475.5,538.0 1482.6,535.3 1489.7,533.7 1496.7,532.0 1503.8,450.3 1510.9,460.3 1517.9,457.0 1525.0,492.0 1532.0,515.3 1539.1,533.7 1546.2,502.0 1553.2,488.7 1560.3,503.7 1567.4,525.3 1574.4,553.7 1581.5,542.0 1588.5,518.7 1595.6,467.0 1602.7,455.3 1609.7,468.7 1616.8,498.7 1623.8,530.3 1630.9,525.3 1638.0,525.3 1645.0,528.7 1652.1,520.3 1659.2,512.0 1666.2,537.0 1673.3,528.7 1680.3,493.7 1687.4,503.7 1694.5,522.0 1701.5,522.0 1708.6,503.7 1715.7,483.7 1722.7,488.7 1729.8,483.7 1736.8,460.3 1743.9,470.3 1751.0,480.3 1758.0,475.3 1765.1,468.7 1772.1,452.0 1779.2,448.7 1786.3,485.3 1793.3,513.7 1800.4,493.7 1807.5,495.3 1814.5,488.7 1821.6,472.0 1828.6,463.7 1835.7,475.3 1842.8,503.7 1849.8,503.7 1856.9,483.7 1864.0,473.7 1871.0,462.0 1878.1,490.3 1885.1,493.7 1892.2,483.7 1899.3,473.7 1906.3,471.3 1913.4,472.0 1920.5,474.7 1927.5,473.7 1934.6,477.0 1941.6,505.3 1948.7,517.0 1955.8,478.7 1962.8,470.3 1969.9,455.3 1976.9,473.7 1984.0,490.3 1991.1,482.0 1998.1,448.7 2005.2,447.0 2012.3,458.7 2019.3,445.3 2026.4,443.7 2033.4,422.0 2040.5,440.3 2047.6,450.3 2054.6,458.7 2061.7,465.3 2068.8,470.3 2075.8,455.3 2082.9,433.7 2089.9,425.3 2097.0,430.3 2104.1,460.3 2111.1,447.0 2118.2,448.7 2125.2,433.7 2132.3,422.0 2139.4,422.0 2146.4,421.3 2153.5,418.7 2160.6,448.7 2167.6,433.7 2174.7,462.0 2181.7,460.3 2188.8,428.7 2195.9,415.3 2202.9,390.3 2210.0,390.3 2217.1,405.3 2224.1,388.7 2231.2,450.3 2238.2,428.7 2245.3,408.7 2252.4,418.7 2259.4,430.3 2266.5,423.7 2273.6,425.3 2280.6,404.7 2287.7,438.0 2294.7,425.3 2301.8,412.0 2308.9,435.3 2315.9,532.0 2323.0,433.7 2330.0,458.7 2337.1,488.7 2344.2,538.7 2351.2,448.7 2358.3,418.7 2365.4,400.3 2372.4,403.7 2379.5,411.3 2386.5,407.0 2393.6,402.0 2400.7,422.0 2407.7,422.0 2414.8,455.3 2421.9,598.7 2428.9,627.0 2436.0,572.0 2443.0,508.7 2450.1,448.7 2457.2,407.0 2464.2,448.7 2471.3,507.0 2478.3,530.3 2485.4,465.3 2492.5,387.0 2499.5,385.3 2506.6,428.7 2513.7,468.7 2520.7,567.0 2527.8,593.7 2534.8,538.7 2541.9,475.3 2549.0,390.3 2556.0,395.3 2563.1,388.7 2570.2,393.7 2577.2,403.7 2584.3,383.7 2591.3,550.3 2598.4,475.3 2605.5,433.7 2612.5,498.0 2619.6,498.7 2626.7,512.0 2633.7,533.7 2640.8,526.0 2647.8,520.3 2654.9,455.3 2662.0,398.0 2669.0,455.3 2676.1,542.0 2683.1,575.3 2690.2,590.3 2697.3,528.7 2704.3,558.7 2711.4,525.3 2718.5,485.3 2725.5,435.3 2732.6,412.0 2739.6,377.0 2746.7,382.0 2753.8,408.7 2760.8,442.0 2767.9,477.0 2775.0,470.3 2782.0,450.3 2789.1,467.0 2796.1,473.7 2803.2,490.3 2810.3,553.7 2817.3,577.0 2824.4,580.3 2831.4,572.0 2838.5,574.7 2845.6,480.3 2852.6,532.0 2859.7,550.3 2866.8,560.3 2873.8,517.0 2880.9,423.7 2887.9,452.0 2895.0,403.7 2902.1,400.3" fill="none" stroke="#0000ff" stroke-width="3.2" stroke-linejoin="round" clip-path="url(#cp0)"/>
<polyline points="331.5,337.0 338.6,339.3 345.6,387.0 352.7,375.3 359.7,362.0 366.8,343.7 373.9,337.0 380.9,367.0 388.0,368.7 395.1,378.7 402.1,347.0 409.2,327.0 416.2,325.3 423.3,329.3 430.4,366.0 437.4,363.7 444.5,340.3 451.6,323.7 458.6,353.7 465.7,362.0 472.7,361.3 479.8,350.3 486.9,310.3 493.9,340.3 501.0,363.7 508.1,360.3 515.1,337.0 522.2,337.0 529.2,335.3 536.3,363.7 543.4,360.3 550.4,365.3 557.5,332.0 564.5,313.7 571.6,317.0 578.7,318.7 585.7,360.3 592.8,343.7 599.9,363.7 606.9,360.3 614.0,337.0 621.0,332.0 628.1,337.0 635.2,343.7 642.2,384.7 649.3,347.0 656.4,317.0 663.4,362.0 670.5,347.0 677.5,353.7 684.6,365.3 691.7,387.0 698.7,374.7 705.8,375.3 712.8,327.0 719.9,377.0 727.0,380.3 734.0,362.0 741.1,375.3 748.2,358.7 755.2,342.0 762.3,335.3 769.3,343.7 776.4,355.3 783.5,338.7 790.5,332.0 797.6,375.3 804.7,362.0 811.7,361.3 818.8,329.3 825.8,368.7 832.9,373.7 840.0,373.7 847.0,357.0 854.1,372.0 861.1,377.0 868.2,367.0 875.3,373.7 882.3,383.7 889.4,370.3 896.5,357.0 903.5,334.7 910.6,382.0 917.6,408.7 924.7,395.3 931.8,408.7 938.8,418.7 945.9,438.7 953.0,395.3 960.0,402.0 967.1,380.3 974.1,402.0 981.2,390.3 988.3,387.0 995.3,387.0 1002.4,375.3 1009.5,370.3 1016.5,370.3 1023.6,378.7 1030.6,387.0 1037.7,377.0 1044.8,365.3 1051.8,352.0 1058.9,347.0 1065.9,365.3 1073.0,418.7 1080.1,470.3 1087.1,467.0 1094.2,362.0 1101.3,402.0 1108.3,448.7 1115.4,380.3 1122.4,362.0 1129.5,367.0 1136.6,375.3 1143.6,402.0 1150.7,413.7 1157.8,382.0 1164.8,382.0 1171.9,395.3 1178.9,410.3 1186.0,373.7 1193.1,417.0 1200.1,403.7 1207.2,410.3 1214.2,385.3 1221.3,410.3 1228.4,390.3 1235.4,372.0 1242.5,405.3 1249.6,407.0 1256.6,433.7 1263.7,420.3 1270.7,430.3 1277.8,377.0 1284.9,358.7 1291.9,382.0 1299.0,393.7 1306.1,388.7 1313.1,398.7 1320.2,433.7 1327.2,435.3 1334.3,413.7 1341.4,388.7 1348.4,382.0 1355.5,392.0 1362.6,373.7 1369.6,378.7 1376.7,415.3 1383.7,410.3 1390.8,375.3 1397.9,385.3 1404.9,385.3 1412.0,402.0 1419.0,405.3 1426.1,413.7 1433.2,377.0 1440.2,435.3 1447.3,447.0 1454.4,400.3 1461.4,400.3 1468.5,395.3 1475.5,413.7 1482.6,410.3 1489.7,408.7 1496.7,412.0 1503.8,395.3 1510.9,378.7 1517.9,398.7 1525.0,417.0 1532.0,422.0 1539.1,410.3 1546.2,402.0 1553.2,415.3 1560.3,395.3 1567.4,430.3 1574.4,455.3 1581.5,425.3 1588.5,395.3 1595.6,360.3 1602.7,382.0 1609.7,395.3 1616.8,422.0 1623.8,452.0 1630.9,447.0 1638.0,447.0 1645.0,425.3 1652.1,417.0 1659.2,417.0 1666.2,403.7 1673.3,407.0 1680.3,385.3 1687.4,388.7 1694.5,378.7 1701.5,395.3 1708.6,400.3 1715.7,370.3 1722.7,397.0 1729.8,403.7 1736.8,410.3 1743.9,412.0 1751.0,423.7 1758.0,402.0 1765.1,388.7 1772.1,388.7 1779.2,378.7 1786.3,398.7 1793.3,428.7 1800.4,408.7 1807.5,390.3 1814.5,393.7 1821.6,402.0 1828.6,415.3 1835.7,447.0 1842.8,408.7 1849.8,370.3 1856.9,388.7 1864.0,410.3 1871.0,400.3 1878.1,387.0 1885.1,368.7 1892.2,353.7 1899.3,387.0 1906.3,393.7 1913.4,403.7 1920.5,388.7 1927.5,367.0 1934.6,375.3 1941.6,400.3 1948.7,393.7 1955.8,380.3 1962.8,385.3 1969.9,418.7 1976.9,452.0 1984.0,448.7 1991.1,442.0 1998.1,422.0 2005.2,367.0 2012.3,403.7 2019.3,387.0 2026.4,380.3 2033.4,380.3 2040.5,385.3 2047.6,418.7 2054.6,413.7 2061.7,373.7 2068.8,377.0 2075.8,385.3 2082.9,373.7 2089.9,388.7 2097.0,393.7 2104.1,417.0 2111.1,410.3 2118.2,397.0 2125.2,373.7 2132.3,387.0 2139.4,402.0 2146.4,395.3 2153.5,382.0 2160.6,377.0 2167.6,385.3 2174.7,373.7 2181.7,360.3 2188.8,368.7 2195.9,375.3 2202.9,372.0 2210.0,371.3 2217.1,368.0 2224.1,372.0 2231.2,360.3 2238.2,382.0 2245.3,385.3 2252.4,386.3 2259.4,387.0 2266.5,393.7 2273.6,377.0 2280.6,382.0 2287.7,367.0 2294.7,372.0 2301.8,382.0 2308.9,368.7 2315.9,337.0 2323.0,368.7 2330.0,368.0 2337.1,368.0 2344.2,340.3 2351.2,353.7 2358.3,365.3 2365.4,375.3 2372.4,376.0 2379.5,368.7 2386.5,373.7 2393.6,383.7 2400.7,383.7 2407.7,387.0 2414.8,375.3 2421.9,357.0 2428.9,347.0 2436.0,327.0 2443.0,345.3 2450.1,363.7 2457.2,370.3 2464.2,387.0 2471.3,348.7 2478.3,365.3 2485.4,377.0 2492.5,370.3 2499.5,367.0 2506.6,370.3 2513.7,343.7 2520.7,314.7 2527.8,314.7 2534.8,322.0 2541.9,350.3 2549.0,368.7 2556.0,365.3 2563.1,368.0 2570.2,370.3 2577.2,365.3 2584.3,368.7 2591.3,327.0 2598.4,326.0 2605.5,355.3 2612.5,347.0 2619.6,335.3 2626.7,330.3 2633.7,311.3 2640.8,330.3 2647.8,340.3 2654.9,358.7 2662.0,368.7 2669.0,348.7 2676.1,328.7 2683.1,309.3 2690.2,328.7 2697.3,318.7 2704.3,303.7 2711.4,328.7 2718.5,352.0 2725.5,375.3 2732.6,370.3 2739.6,370.3 2746.7,368.7 2753.8,358.7 2760.8,354.7 2767.9,350.3 2775.0,377.0 2782.0,357.0 2789.1,337.0 2796.1,367.0 2803.2,348.7 2810.3,322.0 2817.3,320.3 2824.4,327.0 2831.4,327.0 2838.5,330.3 2845.6,377.0 2852.6,381.3 2859.7,323.7 2866.8,313.7 2873.8,340.3 2880.9,349.3 2887.9,348.7 2895.0,359.3 2902.1,362.0" fill="none" stroke="#ff0000" stroke-width="3.2" stroke-linejoin="round" clip-path="url(#cp0)"/>
<polyline points="331.5,370.3 338.6,370.3 345.6,422.0 352.7,495.3 359.7,388.7 366.8,370.3 373.9,370.3 380.9,372.0 388.0,388.7 395.1,445.3 402.1,403.7 409.2,395.3 416.2,378.7 423.3,397.0 430.4,387.0 437.4,420.3 444.5,413.7 451.6,420.3 458.6,387.0 465.7,460.3 472.7,430.3 479.8,462.0 486.9,647.0 493.9,532.0 501.0,442.0 508.1,415.3 515.1,392.0 522.2,370.3 529.2,370.3 536.3,370.3 543.4,370.3 550.4,370.3 557.5,370.3 564.5,370.3 571.6,370.3 578.7,370.3 585.7,370.3 592.8,370.3 599.9,380.3 606.9,375.3 614.0,370.3 621.0,370.3 628.1,435.3 635.2,398.7 642.2,402.0 649.3,383.7 656.4,377.0 663.4,572.0 670.5,655.3 677.5,645.3 684.6,470.3 691.7,577.0 698.7,577.0 705.8,575.3 712.8,422.0 719.9,378.7 727.0,415.3 734.0,398.7 741.1,417.0 748.2,392.0 755.2,372.0 762.3,370.3 769.3,377.0 776.4,377.0 783.5,370.3 790.5,370.3 797.6,420.3 804.7,400.3 811.7,388.7 818.8,382.0 825.8,385.3 832.9,398.7 840.0,400.3 847.0,372.0 854.1,370.3 861.1,380.3 868.2,368.7 875.3,375.3 882.3,395.3 889.4,397.0 896.5,373.7 903.5,395.3 910.6,498.7 917.6,428.7 924.7,373.7 931.8,373.7 938.8,395.3 945.9,422.0 953.0,392.0 960.0,435.3 967.1,565.3 974.1,515.3 981.2,422.0 988.3,382.0 995.3,388.7 1002.4,407.0 1009.5,425.3 1016.5,475.3 1023.6,515.3 1030.6,493.7" fill="none" stroke="#ff00ff" stroke-width="3.2" stroke-linejoin="round" clip-path="url(#cp0)"/>
<polyline points="331.5,1196.6 338.6,1194.6 345.6,1195.9 352.7,1195.3 359.7,1195.1 366.8,1192.8 373.9,1193.1 380.9,1196.4 388.0,1195.5 395.1,1195.4 402.1,1195.4 409.2,1197.3 416.2,1197.4 423.3,1199.0 430.4,1192.2 437.4,1196.6 444.5,1173.0 451.6,1192.5 458.6,1194.8 465.7,1182.7 472.7,1183.4 479.8,1178.7 486.9,1181.1 493.9,1173.0 501.0,1188.7 508.1,1173.9 515.1,1169.4 522.2,1154.0 529.2,1184.9 536.3,1142.9 543.4,1162.5 550.4,1164.2 557.5,1140.5 564.5,1146.9 571.6,1156.7 578.7,1164.5 585.7,1185.2 592.8,1154.1 599.9,1154.6 606.9,1133.4 614.0,1158.8 621.0,1157.6 628.1,1144.2 635.2,1128.1 642.2,1109.9 649.3,1124.9 656.4,1118.8 663.4,1114.2 670.5,1178.9 677.5,1151.0 684.6,1125.3 691.7,1166.1 698.7,1135.7 705.8,1132.4 712.8,1150.2 719.9,1187.1 727.0,1164.2 734.0,1198.4 741.1,1189.1 748.2,1175.3 755.2,1166.1 762.3,1168.7 769.3,1185.1 776.4,1171.9 783.5,1160.3 790.5,1172.8 797.6,1120.1 804.7,1132.8 811.7,1119.8 818.8,1125.6 825.8,1181.8 832.9,1151.0 840.0,1093.3 847.0,1195.6 854.1,1169.6 861.1,1183.2 868.2,1179.6 875.3,1169.8 882.3,1102.1 889.4,1061.4 896.5,1021.0 903.5,1046.8 910.6,1067.6 917.6,1152.5 924.7,1169.2 931.8,1151.8 938.8,1023.5 945.9,1020.9 953.0,1081.7 960.0,1039.8 967.1,1040.7 974.1,990.8 981.2,1035.2 988.3,984.7 995.3,1087.5 1002.4,1103.4 1009.5,1130.7 1016.5,1195.2 1023.6,1105.8 1030.6,1081.9 1037.7,1018.6 1044.8,992.0 1051.8,1088.4 1058.9,1116.8 1065.9,1041.1 1073.0,1028.9 1080.1,948.5 1087.1,1101.2 1094.2,943.9 1101.3,1038.0 1108.3,1038.1 1115.4,1050.3 1122.4,1156.0 1129.5,1005.6 1136.6,943.6 1143.6,979.3 1150.7,1078.0 1157.8,995.7 1164.8,1016.4 1171.9,937.7 1178.9,1045.6 1186.0,984.8 1193.1,1012.6 1200.1,1062.0 1207.2,1179.8 1214.2,1172.0 1221.3,1115.4 1228.4,1183.0 1235.4,1151.7 1242.5,1123.7 1249.6,1103.3 1256.6,1133.6 1263.7,1120.0 1270.7,1092.4 1277.8,1197.1 1284.9,1125.1 1291.9,1032.6 1299.0,896.5 1306.1,919.8 1313.1,959.5 1320.2,880.2 1327.2,928.8 1334.3,1056.3 1341.4,1075.6 1348.4,1055.4 1355.5,1076.6 1362.6,1048.9 1369.6,1012.5 1376.7,915.2 1383.7,992.9 1390.8,1066.2 1397.9,993.4 1404.9,1038.1 1412.0,1022.8 1419.0,1050.4 1426.1,1074.9 1433.2,949.3 1440.2,841.8 1447.3,962.9 1454.4,934.1 1461.4,900.9 1468.5,919.3 1475.5,1015.3 1482.6,1025.9 1489.7,1019.2 1496.7,1029.5 1503.8,987.4 1510.9,980.4 1517.9,1013.9 1525.0,906.5 1532.0,856.3 1539.1,870.3 1546.2,1005.8 1553.2,985.0 1560.3,1111.5 1567.4,997.0 1574.4,926.3 1581.5,1047.5 1588.5,1103.7 1595.6,1154.7 1602.7,1144.5 1609.7,1036.7 1616.8,968.9 1623.8,931.2 1630.9,806.3 1638.0,860.6 1645.0,913.7 1652.1,905.7 1659.2,926.1 1666.2,975.1 1673.3,900.9 1680.3,955.9 1687.4,978.4 1694.5,938.9 1701.5,909.8 1708.6,992.9 1715.7,1048.3 1722.7,1051.3 1729.8,1090.6 1736.8,1016.7 1743.9,995.6 1751.0,1018.0 1758.0,1129.2 1765.1,1008.8 1772.1,1089.5 1779.2,976.1 1786.3,897.5 1793.3,895.2 1800.4,894.4 1807.5,832.2 1814.5,845.2 1821.6,918.3 1828.6,934.9 1835.7,967.9 1842.8,985.0 1849.8,1106.5 1856.9,1078.9 1864.0,1056.4 1871.0,1116.0 1878.1,1160.2 1885.1,1186.0 1892.2,1196.6 1899.3,1113.8 1906.3,1079.9 1913.4,970.5 1920.5,992.6 1927.5,1074.5 1934.6,1021.4 1941.6,1001.4 1948.7,1033.2 1955.8,1062.6 1962.8,1018.5 1969.9,974.3 1976.9,962.4 1984.0,1020.6 1991.1,985.7 1998.1,1110.0 2005.2,1069.3 2012.3,1035.3 2019.3,996.2 2026.4,1004.9 2033.4,1072.2 2040.5,1012.7 2047.6,1003.5 2054.6,1045.3 2061.7,1111.8 2068.8,1155.0 2075.8,1128.9 2082.9,1166.7 2089.9,1148.4 2097.0,1114.0 2104.1,1000.6 2111.1,1131.1 2118.2,1166.6 2125.2,1152.8 2132.3,1135.3 2139.4,1071.9 2146.4,1126.3 2153.5,1174.8 2160.6,1166.0 2167.6,1136.9 2174.7,1183.8 2181.7,1199.4 2188.8,1178.7 2195.9,1160.3 2202.9,1179.4 2210.0,1200.8 2217.1,1190.4 2224.1,1195.2 2231.2,1160.1 2238.2,1091.8 2245.3,1141.2 2252.4,1176.7 2259.4,1194.9 2266.5,1146.9 2273.6,1199.8 2280.6,1176.1 2287.7,1150.0 2294.7,1158.2 2301.8,1121.1 2308.9,1139.3 2315.9,1145.5 2323.0,1160.1 2330.0,1131.7 2337.1,1174.8 2344.2,1195.4 2351.2,1159.6 2358.3,1136.2 2365.4,1128.0 2372.4,1140.6 2379.5,1187.9 2386.5,1166.1 2393.6,1195.8 2400.7,1189.1 2407.7,1195.1 2414.8,1193.9 2421.9,1161.0 2428.9,1180.6 2436.0,1132.6 2443.0,1175.6 2450.1,1163.2 2457.2,1160.7 2464.2,1128.9 2471.3,1166.3 2478.3,1182.1 2485.4,1195.7 2492.5,1196.7 2499.5,1197.0 2506.6,1189.3 2513.7,1191.3 2520.7,1188.8 2527.8,1164.2 2534.8,1190.2 2541.9,1172.8 2549.0,1189.6 2556.0,1188.3 2563.1,1165.9 2570.2,1158.7 2577.2,1168.4 2584.3,1175.5 2591.3,1168.2 2598.4,1180.6 2605.5,1170.0 2612.5,1194.8 2619.6,1197.2 2626.7,1183.1 2633.7,1196.6 2640.8,1189.3 2647.8,1194.4 2654.9,1186.6 2662.0,1193.0 2669.0,1198.0 2676.1,1195.6 2683.1,1190.8 2690.2,1192.4 2697.3,1179.5 2704.3,1194.9 2711.4,1194.8 2718.5,1196.9 2725.5,1192.7 2732.6,1196.4 2739.6,1191.7 2746.7,1188.9 2753.8,1188.6 2760.8,1190.0 2767.9,1196.4 2775.0,1197.7 2782.0,1199.1 2789.1,1199.7 2796.1,1197.4 2803.2,1196.9 2810.3,1198.5 2817.3,1195.4 2824.4,1196.6 2831.4,1198.1 2838.5,1196.0 2845.6,1197.7 2852.6,1185.1 2859.7,1195.6 2866.8,1195.5 2873.8,1195.8 2880.9,1196.9 2887.9,1196.8 2895.0,1187.6 2902.1,1193.4" fill="none" stroke="#898989" stroke-width="1.0" stroke-linejoin="round" clip-path="url(#cp1)"/>
<polyline points="331.5,1195.1 338.6,1196.9 345.6,1194.9 352.7,1189.3 359.7,1197.0 366.8,1181.2 373.9,1188.9 380.9,1195.4 388.0,1195.6 395.1,1195.7 402.1,1187.6 409.2,1178.6 416.2,1191.0 423.3,1181.9 430.4,1172.2 437.4,1172.1 444.5,1150.2 451.6,1165.1 458.6,1173.7 465.7,1184.2 472.7,1178.0 479.8,1178.1 486.9,1171.0 493.9,1148.4 501.0,1154.6 508.1,1158.6 515.1,1146.0 522.2,1187.1 529.2,1174.3 536.3,1155.5 543.4,1177.8 550.4,1167.3 557.5,1173.3 564.5,1154.7 571.6,1140.8 578.7,1137.4 585.7,1132.2 592.8,1130.8 599.9,1173.2 606.9,1201.6 614.0,1156.2 621.0,1107.6 628.1,1101.8 635.2,1128.5 642.2,1118.4 649.3,1151.2 656.4,1164.8 663.4,1155.2 670.5,1153.4 677.5,1112.7 684.6,1135.0 691.7,1129.8 698.7,1140.0 705.8,1143.8 712.8,1181.9 719.9,1192.2 727.0,1196.7 734.0,1157.1 741.1,1154.3 748.2,1118.6 755.2,1093.4 762.3,1074.1 769.3,1104.5 776.4,1102.1 783.5,1132.8 790.5,1181.7 797.6,1108.8 804.7,1125.4 811.7,1198.1 818.8,1185.0 825.8,1189.9 832.9,1072.5 840.0,1149.0 847.0,1150.8 854.1,1133.5 861.1,1111.7 868.2,1115.7 875.3,1136.9 882.3,1089.8 889.4,1089.4 896.5,1074.2 903.5,1036.8 910.6,1036.8 917.6,1056.2 924.7,1041.6 931.8,1008.2 938.8,980.5 945.9,941.2 953.0,1043.3 960.0,1015.9 967.1,1020.4 974.1,1018.8 981.2,1011.5 988.3,1015.4 995.3,1034.7 1002.4,1080.9 1009.5,1140.6 1016.5,1071.6 1023.6,1056.3 1030.6,1167.2 1037.7,1033.2 1044.8,1030.3 1051.8,1056.9 1058.9,1060.6 1065.9,998.9 1073.0,947.9 1080.1,940.3 1087.1,1096.1 1094.2,1100.1 1101.3,1095.0 1108.3,1106.4 1115.4,1133.8 1122.4,1143.7 1129.5,1161.7 1136.6,1093.8 1143.6,914.2 1150.7,1004.8 1157.8,901.8 1164.8,990.3 1171.9,1095.6 1178.9,1040.5 1186.0,1015.7 1193.1,1107.1 1200.1,911.7 1207.2,983.3 1214.2,1028.9 1221.3,955.7 1228.4,1008.7 1235.4,928.6 1242.5,935.1 1249.6,947.0 1256.6,955.8 1263.7,978.7 1270.7,971.4 1277.8,1066.6 1284.9,911.0 1291.9,979.2 1299.0,1007.1 1306.1,997.4 1313.1,1077.5 1320.2,978.5 1327.2,1042.8 1334.3,1098.7 1341.4,1092.3 1348.4,1120.3 1355.5,1091.6 1362.6,1120.9 1369.6,1040.5 1376.7,942.0 1383.7,932.9 1390.8,985.3 1397.9,1133.7 1404.9,1184.1 1412.0,1048.7 1419.0,1166.4 1426.1,1166.8 1433.2,1099.6 1440.2,863.4 1447.3,972.0 1454.4,1008.9 1461.4,934.1 1468.5,1052.3 1475.5,1007.7 1482.6,992.5 1489.7,959.7 1496.7,965.9 1503.8,1006.4 1510.9,976.0 1517.9,980.0 1525.0,894.3 1532.0,883.8 1539.1,943.3 1546.2,832.5 1553.2,905.1 1560.3,827.1 1567.4,832.0 1574.4,823.5 1581.5,804.8 1588.5,967.7 1595.6,1083.9 1602.7,1021.5 1609.7,963.5 1616.8,857.5 1623.8,837.3 1630.9,966.8 1638.0,823.7 1645.0,836.7 1652.1,883.7 1659.2,931.0 1666.2,915.5 1673.3,985.2 1680.3,1037.3 1687.4,894.1 1694.5,1061.0 1701.5,1022.5 1708.6,974.7 1715.7,922.4 1722.7,990.6 1729.8,1105.8 1736.8,1041.5 1743.9,937.2 1751.0,931.9 1758.0,1029.3 1765.1,1066.3 1772.1,1067.5 1779.2,1072.6 1786.3,1041.2 1793.3,920.4 1800.4,1070.0 1807.5,1021.0 1814.5,1051.0 1821.6,1001.8 1828.6,999.0 1835.7,849.2 1842.8,1105.9 1849.8,1096.1 1856.9,1063.5 1864.0,905.9 1871.0,990.3 1878.1,1019.6 1885.1,1125.5 1892.2,1108.5 1899.3,1045.5 1906.3,1080.3 1913.4,1126.4 1920.5,1098.7 1927.5,1081.9 1934.6,963.8 1941.6,952.4 1948.7,969.3 1955.8,1022.1 1962.8,1007.9 1969.9,998.1 1976.9,934.1 1984.0,1039.8 1991.1,991.0 1998.1,1160.7 2005.2,1198.2 2012.3,1113.2 2019.3,1194.9 2026.4,1151.0 2033.4,1089.6 2040.5,994.3 2047.6,975.5 2054.6,1019.2 2061.7,1022.4 2068.8,1063.4 2075.8,1065.6 2082.9,1135.3 2089.9,1061.7 2097.0,1025.9 2104.1,972.9 2111.1,1052.3 2118.2,985.7 2125.2,1069.3 2132.3,1072.5 2139.4,1038.2 2146.4,1123.2 2153.5,1084.6 2160.6,1146.9 2167.6,1096.7 2174.7,1147.6 2181.7,1181.5 2188.8,1203.2 2195.9,1185.4 2202.9,1181.8 2210.0,1151.5 2217.1,1099.4 2224.1,1152.4 2231.2,1080.1 2238.2,1147.8 2245.3,1175.1 2252.4,1182.3 2259.4,1169.2 2266.5,1127.0 2273.6,1135.6 2280.6,1116.1 2287.7,1075.7 2294.7,1077.1 2301.8,1075.9 2308.9,1085.8 2315.9,1113.4 2323.0,1093.9 2330.0,1065.7 2337.1,1095.8 2344.2,1160.2 2351.2,1173.5 2358.3,1149.5 2365.4,1136.4 2372.4,1109.2 2379.5,1172.6 2386.5,1176.6 2393.6,1167.1 2400.7,1165.4 2407.7,1155.2 2414.8,1160.4 2421.9,1165.7 2428.9,1123.3 2436.0,1197.7 2443.0,1181.4 2450.1,1191.2 2457.2,1195.7 2464.2,1160.0 2471.3,1166.0 2478.3,1131.8 2485.4,1175.5 2492.5,1189.4 2499.5,1184.3 2506.6,1177.9 2513.7,1182.1 2520.7,1149.2 2527.8,1144.7 2534.8,1154.1 2541.9,1179.2 2549.0,1185.2 2556.0,1186.1 2563.1,1186.5 2570.2,1191.6 2577.2,1194.9 2584.3,1196.2 2591.3,1198.8 2598.4,1180.1 2605.5,1195.0 2612.5,1196.6 2619.6,1195.5 2626.7,1184.3 2633.7,1195.2 2640.8,1196.5 2647.8,1185.2 2654.9,1198.0 2662.0,1199.8 2669.0,1188.9 2676.1,1196.1 2683.1,1185.3 2690.2,1194.5 2697.3,1187.0 2704.3,1173.1 2711.4,1165.5 2718.5,1176.4 2725.5,1182.7 2732.6,1196.3 2739.6,1189.0 2746.7,1194.9 2753.8,1199.0 2760.8,1193.2 2767.9,1196.4 2775.0,1198.0 2782.0,1196.3 2789.1,1196.0 2796.1,1196.5 2803.2,1197.4 2810.3,1195.1 2817.3,1193.1 2824.4,1195.0 2831.4,1196.9 2838.5,1197.2 2845.6,1195.4 2852.6,1185.1 2859.7,1176.8 2866.8,1184.3 2873.8,1188.9 2880.9,1190.9 2887.9,1197.0 2895.0,1194.7 2902.1,1195.9" fill="none" stroke="#898989" stroke-width="1.0" stroke-linejoin="round" clip-path="url(#cp1)"/>
<polyline points="331.5,1199.7 338.6,1196.7 345.6,1187.4 352.7,1194.3 359.7,1197.0 366.8,1196.4 373.9,1196.7 380.9,1195.8 388.0,1197.8 395.1,1195.8 402.1,1192.2 409.2,1195.0 416.2,1193.1 423.3,1196.8 430.4,1197.0 437.4,1197.6 444.5,1181.9 451.6,1177.2 458.6,1194.7 465.7,1185.4 472.7,1164.9 479.8,1170.3 486.9,1176.9 493.9,1175.9 501.0,1183.6 508.1,1180.1 515.1,1180.8 522.2,1182.8 529.2,1182.5 536.3,1182.5 543.4,1195.3 550.4,1170.6 557.5,1187.9 564.5,1188.1 571.6,1195.7 578.7,1148.2 585.7,1157.9 592.8,1130.5 599.9,1135.5 606.9,1143.9 614.0,1102.3 621.0,1115.7 628.1,1157.6 635.2,1133.8 642.2,1138.5 649.3,1177.0 656.4,1159.9 663.4,1136.2 670.5,1135.1 677.5,1182.2 684.6,1199.1 691.7,1158.6 698.7,1194.6 705.8,1199.5 712.8,1197.8 719.9,1196.9 727.0,1190.0 734.0,1161.6 741.1,1130.4 748.2,1144.8 755.2,1140.4 762.3,1095.9 769.3,1045.2 776.4,1080.7 783.5,1081.2 790.5,1137.1 797.6,1071.3 804.7,1069.2 811.7,1131.8 818.8,1137.8 825.8,1136.0 832.9,1117.1 840.0,1088.9 847.0,1127.9 854.1,1100.6 861.1,1152.6 868.2,1117.7 875.3,1159.6 882.3,1140.8 889.4,1119.2 896.5,1109.9 903.5,1102.6 910.6,1071.3 917.6,1102.3 924.7,1132.4 931.8,1161.2 938.8,1049.5 945.9,1037.9 953.0,1080.6 960.0,1072.4 967.1,1072.1 974.1,1089.6 981.2,1108.1 988.3,1125.4 995.3,1145.9 1002.4,1160.4 1009.5,1155.7 1016.5,1138.8 1023.6,1115.9 1030.6,1085.7 1037.7,1018.7 1044.8,980.7 1051.8,1047.3 1058.9,1080.1 1065.9,1011.4 1073.0,939.3 1080.1,932.4 1087.1,923.1 1094.2,896.9 1101.3,960.7 1108.3,1004.6 1115.4,894.1 1122.4,1088.3 1129.5,1012.8 1136.6,1066.5 1143.6,1113.8 1150.7,1110.5 1157.8,1080.5 1164.8,1059.0 1171.9,1113.8 1178.9,1040.0 1186.0,966.7 1193.1,1105.2 1200.1,930.2 1207.2,975.8 1214.2,1091.3 1221.3,983.1 1228.4,1075.4 1235.4,1011.2 1242.5,962.7 1249.6,937.5 1256.6,928.0 1263.7,954.6 1270.7,867.6 1277.8,1047.3 1284.9,1078.8 1291.9,1099.0 1299.0,1039.1 1306.1,1009.7 1313.1,891.9 1320.2,882.8 1327.2,937.2 1334.3,851.9 1341.4,977.1 1348.4,899.4 1355.5,996.0 1362.6,1024.6 1369.6,972.0 1376.7,984.7 1383.7,902.3 1390.8,888.8 1397.9,893.4 1404.9,941.2 1412.0,1015.8 1419.0,1005.0 1426.1,1029.0 1433.2,957.1 1440.2,845.9 1447.3,954.7 1454.4,916.0 1461.4,873.9 1468.5,800.0 1475.5,860.7 1482.6,862.1 1489.7,796.5 1496.7,906.4 1503.8,972.2 1510.9,931.2 1517.9,927.6 1525.0,861.3 1532.0,810.4 1539.1,914.0 1546.2,1057.1 1553.2,1076.7 1560.3,1005.7 1567.4,965.8 1574.4,865.8 1581.5,815.0 1588.5,940.3 1595.6,1035.9 1602.7,1086.8 1609.7,923.3 1616.8,939.4 1623.8,928.2 1630.9,964.9 1638.0,1082.7 1645.0,964.9 1652.1,904.8 1659.2,856.2 1666.2,896.1 1673.3,959.9 1680.3,1154.5 1687.4,1142.1 1694.5,1136.2 1701.5,966.6 1708.6,1109.6 1715.7,1083.7 1722.7,940.3 1729.8,954.0 1736.8,935.9 1743.9,973.7 1751.0,1017.9 1758.0,916.1 1765.1,1088.6 1772.1,1027.9 1779.2,1049.6 1786.3,1064.3 1793.3,967.2 1800.4,1041.9 1807.5,1010.8 1814.5,1020.1 1821.6,1004.3 1828.6,963.4 1835.7,1049.4 1842.8,959.9 1849.8,1006.8 1856.9,907.1 1864.0,912.8 1871.0,999.6 1878.1,1049.4 1885.1,980.5 1892.2,1008.0 1899.3,977.1 1906.3,993.8 1913.4,992.7 1920.5,1093.4 1927.5,1079.9 1934.6,1006.1 1941.6,993.1 1948.7,1054.9 1955.8,1132.0 1962.8,1148.9 1969.9,1061.8 1976.9,978.4 1984.0,952.8 1991.1,938.3 1998.1,1041.5 2005.2,1057.4 2012.3,929.9 2019.3,1015.8 2026.4,1106.6 2033.4,1191.1 2040.5,1049.7 2047.6,997.7 2054.6,973.1 2061.7,958.6 2068.8,998.8 2075.8,965.6 2082.9,1079.2 2089.9,1096.5 2097.0,1136.8 2104.1,1000.0 2111.1,1106.1 2118.2,1125.0 2125.2,1065.6 2132.3,1149.2 2139.4,1080.2 2146.4,1150.1 2153.5,1135.9 2160.6,1040.6 2167.6,1112.8 2174.7,1045.4 2181.7,1068.9 2188.8,1079.0 2195.9,1132.8 2202.9,1187.0 2210.0,1177.1 2217.1,1118.5 2224.1,1171.2 2231.2,1069.7 2238.2,1087.6 2245.3,1116.2 2252.4,1074.1 2259.4,1154.4 2266.5,1103.3 2273.6,1122.0 2280.6,1118.5 2287.7,1155.7 2294.7,1131.4 2301.8,1148.4 2308.9,1165.3 2315.9,1190.6 2323.0,1167.1 2330.0,1138.8 2337.1,1162.8 2344.2,1153.8 2351.2,1147.7 2358.3,1113.7 2365.4,1196.6 2372.4,1199.6 2379.5,1198.0 2386.5,1173.9 2393.6,1148.8 2400.7,1111.6 2407.7,1092.1 2414.8,1108.8 2421.9,1094.9 2428.9,1150.4 2436.0,1148.3 2443.0,1131.0 2450.1,1141.6 2457.2,1148.2 2464.2,1126.8 2471.3,1146.3 2478.3,1129.9 2485.4,1164.6 2492.5,1186.9 2499.5,1172.8 2506.6,1175.7 2513.7,1171.1 2520.7,1171.3 2527.8,1176.2 2534.8,1198.2 2541.9,1196.5 2549.0,1197.1 2556.0,1197.3 2563.1,1185.5 2570.2,1165.9 2577.2,1160.7 2584.3,1182.1 2591.3,1171.3 2598.4,1196.8 2605.5,1195.7 2612.5,1198.7 2619.6,1198.2 2626.7,1177.6 2633.7,1197.5 2640.8,1197.5 2647.8,1197.9 2654.9,1184.8 2662.0,1198.3 2669.0,1192.1 2676.1,1196.6 2683.1,1181.2 2690.2,1197.8 2697.3,1199.0 2704.3,1198.3 2711.4,1195.0 2718.5,1197.5 2725.5,1197.0 2732.6,1197.1 2739.6,1195.3 2746.7,1197.7 2753.8,1196.3 2760.8,1171.6 2767.9,1186.9 2775.0,1196.0 2782.0,1192.6 2789.1,1194.9 2796.1,1196.3 2803.2,1196.5 2810.3,1198.5 2817.3,1200.4 2824.4,1198.1 2831.4,1198.2 2838.5,1196.3 2845.6,1196.6 2852.6,1198.7 2859.7,1198.3 2866.8,1188.5 2873.8,1187.7 2880.9,1191.7 2887.9,1196.7 2895.0,1190.7 2902.1,1194.8" fill="none" stroke="#898989" stroke-width="1.0" stroke-linejoin="round" clip-path="url(#cp1)"/>
<polyline points="331.5,1189.2 338.6,1191.7 345.6,1195.3 352.7,1188.2 359.7,1190.4 366.8,1192.3 373.9,1194.8 380.9,1179.6 388.0,1188.8 395.1,1186.3 402.1,1180.6 409.2,1188.0 416.2,1195.9 423.3,1196.9 430.4,1195.5 437.4,1196.6 444.5,1188.2 451.6,1194.8 458.6,1193.6 465.7,1197.2 472.7,1195.9 479.8,1192.5 486.9,1191.0 493.9,1187.5 501.0,1195.7 508.1,1195.4 515.1,1196.5 522.2,1189.8 529.2,1195.9 536.3,1190.3 543.4,1195.2 550.4,1199.1 557.5,1198.2 564.5,1195.1 571.6,1193.5 578.7,1168.4 585.7,1186.9 592.8,1176.2 599.9,1140.0 606.9,1186.9 614.0,1132.9 621.0,1174.7 628.1,1192.4 635.2,1196.4 642.2,1172.4 649.3,1199.9 656.4,1193.7 663.4,1184.2 670.5,1161.4 677.5,1147.7 684.6,1135.4 691.7,1065.2 698.7,1058.4 705.8,1111.5 712.8,1140.3 719.9,1165.1 727.0,1168.6 734.0,1158.5 741.1,1131.0 748.2,1159.5 755.2,1127.9 762.3,1136.4 769.3,1103.6 776.4,1074.8 783.5,1091.8 790.5,1112.8 797.6,1047.7 804.7,1020.0 811.7,1056.0 818.8,1147.1 825.8,1145.3 832.9,1197.1 840.0,1195.9 847.0,1178.0 854.1,1199.9 861.1,1179.6 868.2,1196.1 875.3,1167.7 882.3,1187.6 889.4,1178.6 896.5,1199.8 903.5,1163.9 910.6,1153.6 917.6,1153.2 924.7,1160.5 931.8,1110.6 938.8,1030.1 945.9,1067.8 953.0,1121.8 960.0,1097.9 967.1,1094.3 974.1,1072.1 981.2,1019.1 988.3,1016.9 995.3,1113.0 1002.4,1089.8 1009.5,1073.3 1016.5,1070.8 1023.6,984.5 1030.6,992.9 1037.7,961.1 1044.8,979.8 1051.8,976.1 1058.9,941.9 1065.9,910.2 1073.0,843.5 1080.1,902.2 1087.1,953.2 1094.2,986.4 1101.3,989.9 1108.3,916.7 1115.4,993.5 1122.4,984.3 1129.5,959.8 1136.6,1073.3 1143.6,1004.4 1150.7,1107.8 1157.8,1174.4 1164.8,995.3 1171.9,958.2 1178.9,877.8 1186.0,885.2 1193.1,1013.9 1200.1,952.2 1207.2,1043.5 1214.2,1056.0 1221.3,876.3 1228.4,961.2 1235.4,954.7 1242.5,932.2 1249.6,996.2 1256.6,932.4 1263.7,939.5 1270.7,871.3 1277.8,956.3 1284.9,1000.6 1291.9,1088.8 1299.0,1087.7 1306.1,1056.0 1313.1,972.3 1320.2,897.6 1327.2,878.0 1334.3,1054.9 1341.4,1121.2 1348.4,1107.0 1355.5,1122.6 1362.6,1199.5 1369.6,1131.7 1376.7,986.3 1383.7,1117.6 1390.8,1023.7 1397.9,991.2 1404.9,1029.1 1412.0,1025.9 1419.0,1122.7 1426.1,1096.9 1433.2,1032.1 1440.2,924.9 1447.3,1062.3 1454.4,1158.8 1461.4,958.3 1468.5,900.2 1475.5,962.8 1482.6,886.2 1489.7,912.6 1496.7,1018.6 1503.8,1173.0 1510.9,1118.0 1517.9,1014.5 1525.0,899.8 1532.0,818.4 1539.1,1103.3 1546.2,963.7 1553.2,836.4 1560.3,926.2 1567.4,910.6 1574.4,907.6 1581.5,1057.3 1588.5,1182.8 1595.6,1002.3 1602.7,1114.5 1609.7,1058.4 1616.8,1030.3 1623.8,883.9 1630.9,878.8 1638.0,957.2 1645.0,986.9 1652.1,1072.9 1659.2,1111.4 1666.2,1140.2 1673.3,1141.1 1680.3,982.2 1687.4,1001.6 1694.5,1010.2 1701.5,1036.9 1708.6,1160.7 1715.7,1012.8 1722.7,968.9 1729.8,1044.4 1736.8,932.5 1743.9,860.5 1751.0,925.0 1758.0,974.7 1765.1,970.3 1772.1,1015.4 1779.2,914.0 1786.3,913.9 1793.3,875.1 1800.4,918.0 1807.5,954.3 1814.5,908.9 1821.6,869.6 1828.6,954.8 1835.7,977.1 1842.8,1159.3 1849.8,1003.2 1856.9,1052.7 1864.0,990.6 1871.0,973.7 1878.1,985.2 1885.1,1091.6 1892.2,1046.5 1899.3,978.4 1906.3,1056.8 1913.4,1030.0 1920.5,1071.5 1927.5,1102.1 1934.6,1094.7 1941.6,1018.5 1948.7,1069.2 1955.8,1078.4 1962.8,1056.5 1969.9,1040.6 1976.9,988.5 1984.0,1002.8 1991.1,986.5 1998.1,1070.3 2005.2,1055.2 2012.3,1022.6 2019.3,1026.4 2026.4,983.1 2033.4,1105.1 2040.5,1002.7 2047.6,954.3 2054.6,995.2 2061.7,1104.2 2068.8,1058.0 2075.8,1062.8 2082.9,1131.0 2089.9,1070.5 2097.0,1046.8 2104.1,981.8 2111.1,1011.1 2118.2,1033.5 2125.2,1025.1 2132.3,1015.8 2139.4,1015.0 2146.4,1088.8 2153.5,1069.9 2160.6,1050.6 2167.6,1087.5 2174.7,1082.5 2181.7,1076.0 2188.8,1127.8 2195.9,1183.0 2202.9,1193.2 2210.0,1192.5 2217.1,1156.1 2224.1,1173.5 2231.2,1146.7 2238.2,1062.3 2245.3,1120.9 2252.4,1148.6 2259.4,1131.8 2266.5,1109.8 2273.6,1144.2 2280.6,1108.0 2287.7,1126.2 2294.7,1076.0 2301.8,1088.1 2308.9,1093.9 2315.9,1097.4 2323.0,1094.9 2330.0,1105.5 2337.1,1101.5 2344.2,1137.9 2351.2,1173.9 2358.3,1146.9 2365.4,1126.6 2372.4,1169.4 2379.5,1186.7 2386.5,1135.4 2393.6,1125.1 2400.7,1106.7 2407.7,1132.4 2414.8,1181.0 2421.9,1165.7 2428.9,1155.0 2436.0,1198.3 2443.0,1191.3 2450.1,1188.0 2457.2,1177.8 2464.2,1175.2 2471.3,1195.1 2478.3,1186.8 2485.4,1195.0 2492.5,1196.4 2499.5,1188.3 2506.6,1195.4 2513.7,1190.0 2520.7,1197.8 2527.8,1199.4 2534.8,1193.2 2541.9,1196.3 2549.0,1195.6 2556.0,1197.6 2563.1,1193.7 2570.2,1180.6 2577.2,1190.3 2584.3,1195.3 2591.3,1197.3 2598.4,1162.6 2605.5,1196.2 2612.5,1196.9 2619.6,1196.4 2626.7,1179.9 2633.7,1195.0 2640.8,1195.8 2647.8,1193.5 2654.9,1184.7 2662.0,1195.8 2669.0,1199.5 2676.1,1198.4 2683.1,1199.1 2690.2,1197.6 2697.3,1195.7 2704.3,1192.2 2711.4,1193.2 2718.5,1195.3 2725.5,1195.6 2732.6,1197.0 2739.6,1196.1 2746.7,1197.7 2753.8,1195.7 2760.8,1189.7 2767.9,1198.0 2775.0,1197.0 2782.0,1185.3 2789.1,1194.9 2796.1,1191.3 2803.2,1192.8 2810.3,1195.2 2817.3,1188.4 2824.4,1190.9 2831.4,1185.8 2838.5,1195.6 2845.6,1199.4 2852.6,1198.7 2859.7,1196.1 2866.8,1196.6 2873.8,1196.3 2880.9,1197.4 2887.9,1198.9 2895.0,1199.1 2902.1,1196.2" fill="none" stroke="#898989" stroke-width="1.0" stroke-linejoin="round" clip-path="url(#cp1)"/>
<polyline points="331.5,1198.1 338.6,1196.0 345.6,1189.8 352.7,1186.0 359.7,1194.8 366.8,1186.0 373.9,1195.4 380.9,1195.3 388.0,1198.3 395.1,1197.4 402.1,1195.0 409.2,1173.9 416.2,1180.1 423.3,1185.3 430.4,1186.8 437.4,1190.1 444.5,1192.9 451.6,1187.1 458.6,1192.2 465.7,1198.9 472.7,1195.5 479.8,1199.6 486.9,1197.2 493.9,1193.7 501.0,1193.3 508.1,1198.4 515.1,1197.2 522.2,1200.0 529.2,1197.2 536.3,1194.8 543.4,1197.4 550.4,1195.7 557.5,1181.7 564.5,1195.8 571.6,1187.4 578.7,1180.1 585.7,1196.2 592.8,1191.1 599.9,1197.1 606.9,1179.7 614.0,1182.6 621.0,1177.7 628.1,1143.9 635.2,1132.5 642.2,1127.7 649.3,1158.8 656.4,1129.4 663.4,1175.5 670.5,1196.9 677.5,1139.6 684.6,1184.3 691.7,1110.1 698.7,1135.2 705.8,1127.5 712.8,1139.4 719.9,1173.9 727.0,1146.9 734.0,1165.0 741.1,1201.8 748.2,1197.5 755.2,1196.6 762.3,1198.7 769.3,1126.6 776.4,1182.6 783.5,1185.5 790.5,1196.0 797.6,1174.0 804.7,1112.4 811.7,1100.6 818.8,1144.7 825.8,1097.9 832.9,1096.6 840.0,1145.9 847.0,1116.2 854.1,1054.6 861.1,1086.3 868.2,1135.8 875.3,1148.9 882.3,1121.0 889.4,1136.4 896.5,1115.7 903.5,1100.3 910.6,1100.1 917.6,1101.0 924.7,1135.9 931.8,1109.1 938.8,1035.2 945.9,1056.3 953.0,1103.1 960.0,1117.5 967.1,1118.0 974.1,1117.1 981.2,1107.9 988.3,1081.2 995.3,1136.0 1002.4,1176.7 1009.5,1195.6 1016.5,1196.2 1023.6,1114.7 1030.6,1092.4 1037.7,1070.8 1044.8,1048.9 1051.8,1114.4 1058.9,1082.0 1065.9,1043.8 1073.0,1027.0 1080.1,944.5 1087.1,1016.2 1094.2,1047.4 1101.3,931.1 1108.3,939.0 1115.4,981.9 1122.4,1091.7 1129.5,1065.8 1136.6,918.8 1143.6,896.8 1150.7,970.9 1157.8,1025.8 1164.8,904.2 1171.9,969.2 1178.9,1096.3 1186.0,1161.6 1193.1,1076.9 1200.1,1082.7 1207.2,1104.4 1214.2,1073.5 1221.3,1004.2 1228.4,1083.8 1235.4,1052.1 1242.5,973.6 1249.6,1067.5 1256.6,957.4 1263.7,984.3 1270.7,1003.1 1277.8,1136.1 1284.9,1178.5 1291.9,1085.1 1299.0,1092.5 1306.1,1126.9 1313.1,1098.6 1320.2,980.6 1327.2,933.7 1334.3,963.9 1341.4,925.3 1348.4,968.7 1355.5,1067.8 1362.6,1074.7 1369.6,1158.1 1376.7,1018.2 1383.7,1142.4 1390.8,1118.8 1397.9,1054.7 1404.9,1005.7 1412.0,1026.1 1419.0,1085.2 1426.1,1057.6 1433.2,920.5 1440.2,809.8 1447.3,891.6 1454.4,868.4 1461.4,959.1 1468.5,1035.7 1475.5,1033.9 1482.6,1072.4 1489.7,1035.9 1496.7,1008.9 1503.8,1109.2 1510.9,1181.7 1517.9,1101.9 1525.0,978.6 1532.0,1017.9 1539.1,1037.1 1546.2,978.3 1553.2,924.6 1560.3,991.3 1567.4,950.7 1574.4,896.3 1581.5,930.3 1588.5,1031.9 1595.6,1026.0 1602.7,1114.2 1609.7,1110.3 1616.8,899.1 1623.8,931.6 1630.9,963.1 1638.0,1011.9 1645.0,1018.4 1652.1,1043.2 1659.2,989.5 1666.2,968.6 1673.3,1057.9 1680.3,1059.3 1687.4,1031.9 1694.5,947.0 1701.5,956.7 1708.6,1027.7 1715.7,1062.2 1722.7,1005.1 1729.8,1075.9 1736.8,945.2 1743.9,879.2 1751.0,879.2 1758.0,882.0 1765.1,930.9 1772.1,998.2 1779.2,1143.2 1786.3,996.9 1793.3,874.2 1800.4,946.8 1807.5,1049.3 1814.5,1021.0 1821.6,944.6 1828.6,955.8 1835.7,899.6 1842.8,1018.7 1849.8,930.8 1856.9,856.5 1864.0,902.6 1871.0,942.4 1878.1,954.8 1885.1,996.8 1892.2,1040.2 1899.3,995.6 1906.3,998.8 1913.4,982.7 1920.5,1107.4 1927.5,1154.7 1934.6,1126.9 1941.6,1031.7 1948.7,1100.1 1955.8,1103.9 1962.8,1089.1 1969.9,1056.4 1976.9,1020.0 1984.0,1047.4 1991.1,990.6 1998.1,1039.9 2005.2,1052.0 2012.3,1082.7 2019.3,1099.9 2026.4,1141.2 2033.4,1152.5 2040.5,1012.9 2047.6,980.6 2054.6,1093.4 2061.7,1095.7 2068.8,1165.8 2075.8,1143.6 2082.9,1119.2 2089.9,1050.1 2097.0,1021.6 2104.1,995.6 2111.1,1073.2 2118.2,1101.6 2125.2,1139.0 2132.3,1152.2 2139.4,1047.9 2146.4,1097.8 2153.5,1051.2 2160.6,1044.0 2167.6,1110.8 2174.7,1124.2 2181.7,1095.3 2188.8,1131.9 2195.9,1149.0 2202.9,1183.4 2210.0,1158.1 2217.1,1156.5 2224.1,1170.4 2231.2,1173.1 2238.2,1066.7 2245.3,1065.8 2252.4,1097.4 2259.4,1145.9 2266.5,1154.5 2273.6,1107.7 2280.6,1105.4 2287.7,1134.1 2294.7,1128.2 2301.8,1133.7 2308.9,1126.9 2315.9,1118.9 2323.0,1137.1 2330.0,1119.2 2337.1,1100.1 2344.2,1121.3 2351.2,1108.7 2358.3,1076.2 2365.4,1171.4 2372.4,1166.4 2379.5,1185.3 2386.5,1109.0 2393.6,1157.5 2400.7,1144.3 2407.7,1162.9 2414.8,1195.6 2421.9,1149.5 2428.9,1185.3 2436.0,1160.7 2443.0,1161.3 2450.1,1195.5 2457.2,1189.0 2464.2,1177.6 2471.3,1187.1 2478.3,1165.8 2485.4,1196.4 2492.5,1195.9 2499.5,1197.4 2506.6,1192.9 2513.7,1195.3 2520.7,1197.8 2527.8,1181.4 2534.8,1179.2 2541.9,1193.4 2549.0,1194.8 2556.0,1196.1 2563.1,1184.7 2570.2,1181.6 2577.2,1163.5 2584.3,1176.9 2591.3,1191.0 2598.4,1182.8 2605.5,1187.3 2612.5,1196.9 2619.6,1190.5 2626.7,1184.0 2633.7,1184.9 2640.8,1177.5 2647.8,1186.2 2654.9,1171.7 2662.0,1185.2 2669.0,1175.6 2676.1,1192.7 2683.1,1197.0 2690.2,1191.5 2697.3,1180.1 2704.3,1196.5 2711.4,1193.4 2718.5,1192.4 2725.5,1189.3 2732.6,1196.3 2739.6,1188.9 2746.7,1192.7 2753.8,1192.0 2760.8,1189.3 2767.9,1195.8 2775.0,1196.2 2782.0,1195.0 2789.1,1187.0 2796.1,1193.1 2803.2,1195.3 2810.3,1181.6 2817.3,1186.9 2824.4,1172.9 2831.4,1183.9 2838.5,1190.9 2845.6,1197.0 2852.6,1194.9 2859.7,1199.3 2866.8,1196.8 2873.8,1198.9 2880.9,1197.1 2887.9,1197.2 2895.0,1199.0 2902.1,1196.7" fill="none" stroke="#898989" stroke-width="1.0" stroke-linejoin="round" clip-path="url(#cp1)"/>
<polyline points="331.5,1189.4 338.6,1183.3 345.6,1186.7 352.7,1185.0 359.7,1198.5 366.8,1197.6 373.9,1197.7 380.9,1198.3 388.0,1198.3 395.1,1196.8 402.1,1197.5 409.2,1196.7 416.2,1196.2 423.3,1195.5 430.4,1190.6 437.4,1183.0 444.5,1169.8 451.6,1172.8 458.6,1160.8 465.7,1171.5 472.7,1166.1 479.8,1156.0 486.9,1165.2 493.9,1161.5 501.0,1171.1 508.1,1160.4 515.1,1161.2 522.2,1160.5 529.2,1190.1 536.3,1183.9 543.4,1180.5 550.4,1167.1 557.5,1194.1 564.5,1197.2 571.6,1193.0 578.7,1171.4 585.7,1167.0 592.8,1177.3 599.9,1192.3 606.9,1183.9 614.0,1157.2 621.0,1126.5 628.1,1130.2 635.2,1125.7 642.2,1103.1 649.3,1152.4 656.4,1123.4 663.4,1114.8 670.5,1127.7 677.5,1166.6 684.6,1195.4 691.7,1170.1 698.7,1146.1 705.8,1140.9 712.8,1121.0 719.9,1168.3 727.0,1107.4 734.0,1138.3 741.1,1152.2 748.2,1165.8 755.2,1119.9 762.3,1124.4 769.3,1145.0 776.4,1097.9 783.5,1108.4 790.5,1135.8 797.6,1118.2 804.7,1070.2 811.7,1093.3 818.8,1189.8 825.8,1129.1 832.9,1168.6 840.0,1093.2 847.0,1158.8 854.1,1166.2 861.1,1136.6 868.2,1140.7 875.3,1187.1 882.3,1168.8 889.4,1185.0 896.5,1113.9 903.5,1159.5 910.6,1050.7 917.6,1024.9 924.7,1080.4 931.8,1029.1 938.8,1001.2 945.9,1035.9 953.0,1149.5 960.0,1176.4 967.1,1174.5 974.1,1171.6 981.2,1078.2 988.3,1036.4 995.3,1062.8 1002.4,1098.8 1009.5,1081.5 1016.5,1041.6 1023.6,972.8 1030.6,959.9 1037.7,977.7 1044.8,918.3 1051.8,916.8 1058.9,938.6 1065.9,934.6 1073.0,893.4 1080.1,912.1 1087.1,970.1 1094.2,1065.4 1101.3,965.3 1108.3,965.2 1115.4,1046.6 1122.4,1096.1 1129.5,1004.3 1136.6,964.0 1143.6,951.4 1150.7,1108.1 1157.8,1101.8 1164.8,1134.8 1171.9,1125.5 1178.9,1079.9 1186.0,986.1 1193.1,954.2 1200.1,981.1 1207.2,1053.1 1214.2,1048.2 1221.3,985.4 1228.4,928.0 1235.4,941.7 1242.5,1072.7 1249.6,998.4 1256.6,1002.9 1263.7,992.9 1270.7,914.3 1277.8,989.5 1284.9,986.1 1291.9,845.3 1299.0,947.2 1306.1,950.1 1313.1,830.2 1320.2,980.2 1327.2,869.4 1334.3,904.2 1341.4,928.4 1348.4,979.2 1355.5,1045.4 1362.6,997.0 1369.6,1045.2 1376.7,953.5 1383.7,1091.9 1390.8,1127.3 1397.9,1083.6 1404.9,1001.7 1412.0,1010.6 1419.0,980.3 1426.1,1054.7 1433.2,901.5 1440.2,814.3 1447.3,936.5 1454.4,1013.8 1461.4,1183.7 1468.5,1042.6 1475.5,1009.7 1482.6,951.0 1489.7,886.1 1496.7,970.7 1503.8,1051.9 1510.9,982.6 1517.9,1002.1 1525.0,939.5 1532.0,993.2 1539.1,1002.0 1546.2,852.7 1553.2,928.2 1560.3,888.1 1567.4,833.9 1574.4,820.4 1581.5,915.2 1588.5,1023.5 1595.6,1017.1 1602.7,1068.6 1609.7,887.9 1616.8,804.8 1623.8,827.7 1630.9,870.1 1638.0,913.8 1645.0,799.3 1652.1,839.6 1659.2,975.7 1666.2,904.6 1673.3,965.0 1680.3,860.9 1687.4,861.9 1694.5,816.7 1701.5,807.4 1708.6,944.3 1715.7,850.6 1722.7,873.9 1729.8,1029.2 1736.8,1028.2 1743.9,1033.8 1751.0,958.1 1758.0,1098.7 1765.1,1135.0 1772.1,1121.5 1779.2,1044.5 1786.3,926.3 1793.3,957.9 1800.4,1128.8 1807.5,992.4 1814.5,943.8 1821.6,1021.3 1828.6,1032.1 1835.7,946.9 1842.8,901.2 1849.8,986.6 1856.9,1041.2 1864.0,971.7 1871.0,1018.0 1878.1,880.8 1885.1,919.5 1892.2,984.4 1899.3,919.5 1906.3,880.3 1913.4,897.6 1920.5,916.5 1927.5,986.9 1934.6,947.3 1941.6,853.0 1948.7,863.3 1955.8,931.0 1962.8,979.1 1969.9,978.7 1976.9,926.6 1984.0,876.6 1991.1,947.8 1998.1,927.6 2005.2,927.3 2012.3,1016.3 2019.3,1086.4 2026.4,1083.2 2033.4,1129.6 2040.5,967.7 2047.6,978.4 2054.6,1034.0 2061.7,1127.3 2068.8,1069.0 2075.8,1033.5 2082.9,1048.6 2089.9,1082.7 2097.0,1034.9 2104.1,979.1 2111.1,1026.1 2118.2,1057.5 2125.2,1088.3 2132.3,1105.2 2139.4,1066.9 2146.4,1103.8 2153.5,1123.6 2160.6,1091.9 2167.6,995.2 2174.7,1056.5 2181.7,1034.9 2188.8,1073.8 2195.9,1109.5 2202.9,1165.3 2210.0,1131.8 2217.1,1129.1 2224.1,1165.8 2231.2,1150.3 2238.2,1113.9 2245.3,1090.8 2252.4,1140.9 2259.4,1173.0 2266.5,1128.5 2273.6,1165.5 2280.6,1146.0 2287.7,1188.4 2294.7,1195.8 2301.8,1182.8 2308.9,1188.9 2315.9,1164.2 2323.0,1126.9 2330.0,1139.2 2337.1,1155.0 2344.2,1179.3 2351.2,1195.2 2358.3,1187.6 2365.4,1165.3 2372.4,1140.3 2379.5,1159.6 2386.5,1159.0 2393.6,1152.4 2400.7,1122.9 2407.7,1121.1 2414.8,1147.6 2421.9,1133.2 2428.9,1145.3 2436.0,1162.6 2443.0,1159.3 2450.1,1128.2 2457.2,1155.6 2464.2,1121.4 2471.3,1138.1 2478.3,1153.6 2485.4,1173.6 2492.5,1190.3 2499.5,1185.3 2506.6,1166.4 2513.7,1162.1 2520.7,1153.1 2527.8,1168.4 2534.8,1162.5 2541.9,1184.5 2549.0,1188.6 2556.0,1195.4 2563.1,1188.6 2570.2,1187.0 2577.2,1186.9 2584.3,1196.2 2591.3,1195.5 2598.4,1196.4 2605.5,1180.3 2612.5,1196.7 2619.6,1198.2 2626.7,1195.0 2633.7,1192.4 2640.8,1176.4 2647.8,1166.1 2654.9,1163.5 2662.0,1187.6 2669.0,1188.3 2676.1,1186.1 2683.1,1176.7 2690.2,1198.2 2697.3,1195.6 2704.3,1197.5 2711.4,1199.1 2718.5,1199.5 2725.5,1200.2 2732.6,1197.5 2739.6,1194.3 2746.7,1197.2 2753.8,1195.2 2760.8,1188.0 2767.9,1192.6 2775.0,1197.1 2782.0,1190.6 2789.1,1195.2 2796.1,1196.6 2803.2,1196.0 2810.3,1197.6 2817.3,1197.5 2824.4,1185.1 2831.4,1197.2 2838.5,1196.0 2845.6,1197.3 2852.6,1196.6 2859.7,1195.4 2866.8,1199.3 2873.8,1196.3 2880.9,1192.9 2887.9,1191.9 2895.0,1180.8 2902.1,1195.5" fill="none" stroke="#898989" stroke-width="1.0" stroke-linejoin="round" clip-path="url(#cp1)"/>
<polyline points="331.5,1200.0 338.6,1196.0 345.6,1192.7 352.7,1190.0 359.7,1200.0 366.8,1193.3 373.9,1197.3 380.9,1197.3 388.0,1201.7 395.1,1198.3 402.1,1193.3 409.2,1190.7 416.2,1195.0 423.3,1197.3 430.4,1190.7 437.4,1192.7 444.5,1176.0 451.6,1181.7 458.6,1185.0 465.7,1190.0 472.7,1181.7 479.8,1181.7 486.9,1181.7 493.9,1173.3 501.0,1181.7 508.1,1180.0 515.1,1177.3 522.2,1181.7 529.2,1189.3 536.3,1175.0 543.4,1186.7 550.4,1180.0 557.5,1181.0 564.5,1181.7 571.6,1178.3 578.7,1161.7 585.7,1171.7 592.8,1160.0 599.9,1166.7 606.9,1175.0 614.0,1148.3 621.0,1143.3 628.1,1145.0 635.2,1141.7 642.2,1128.3 649.3,1163.3 656.4,1148.3 663.4,1146.7 670.5,1160.0 677.5,1150.0 684.6,1165.0 691.7,1133.3 698.7,1135.0 705.8,1145.0 712.8,1156.7 719.9,1181.7 727.0,1163.3 734.0,1165.0 741.1,1163.3 748.2,1161.7 755.2,1141.7 762.3,1135.0 769.3,1118.3 776.4,1118.3 783.5,1126.7 790.5,1156.7 797.6,1106.7 804.7,1088.3 811.7,1118.3 818.8,1155.0 825.8,1146.7 832.9,1135.0 840.0,1128.3 847.0,1155.0 854.1,1140.0 861.1,1141.7 868.2,1148.3 875.3,1161.7 882.3,1135.0 889.4,1128.3 896.5,1108.3 903.5,1101.7 910.6,1080.0 917.6,1098.3 924.7,1120.0 931.8,1095.0 938.8,1020.0 945.9,1026.7 953.0,1096.7 960.0,1086.7 967.1,1086.7 974.1,1076.7 981.2,1060.0 988.3,1043.3 995.3,1096.7 1002.4,1118.3 1009.5,1130.0 1016.5,1120.0 1023.6,1058.3 1030.6,1063.3 1037.7,1013.3 1044.8,991.7 1051.8,1033.3 1058.9,1036.7 1065.9,990.0 1073.0,946.7 1080.1,930.0 1087.1,1010.0 1094.2,1006.7 1101.3,996.7 1108.3,995.0 1115.4,1016.7 1122.4,1093.3 1129.5,1035.0 1136.6,1010.0 1143.6,976.7 1150.7,1063.3 1157.8,1046.7 1164.8,1016.7 1171.9,1033.3 1178.9,1030.0 1186.0,1000.0 1193.1,1045.0 1200.1,986.7 1207.2,1056.7 1214.2,1078.3 1221.3,986.7 1228.4,1040.0 1235.4,1006.7 1242.5,1000.0 1249.6,1008.3 1256.6,985.0 1263.7,995.0 1270.7,953.3 1277.8,1066.7 1284.9,1046.7 1291.9,1021.7 1299.0,1011.7 1306.1,1010.0 1313.1,971.7 1320.2,933.3 1327.2,931.7 1334.3,988.3 1341.4,1020.0 1348.4,1021.7 1355.5,1066.7 1362.6,1080.0 1369.6,1060.0 1376.7,966.7 1383.7,1030.0 1390.8,1035.0 1397.9,1025.0 1404.9,1033.3 1412.0,1025.0 1419.0,1068.3 1426.1,1080.0 1433.2,976.7 1440.2,850.0 1447.3,963.3 1454.4,983.3 1461.4,968.3 1468.5,958.3 1475.5,981.7 1482.6,965.0 1489.7,935.0 1496.7,983.3 1503.8,1050.0 1510.9,1028.3 1517.9,1006.7 1525.0,913.3 1532.0,896.7 1539.1,978.3 1546.2,948.3 1553.2,942.7 1560.3,958.3 1567.4,915.0 1574.4,873.3 1581.5,928.3 1588.5,1041.7 1595.6,1053.3 1602.7,1091.7 1609.7,996.7 1616.8,916.7 1623.8,890.0 1630.9,908.3 1638.0,941.7 1645.0,920.0 1652.1,941.7 1659.2,965.0 1666.2,966.7 1673.3,1001.7 1680.3,1008.3 1687.4,985.0 1694.5,985.0 1701.5,950.0 1708.6,1035.0 1715.7,996.7 1722.7,971.7 1729.8,1050.0 1736.8,983.3 1743.9,946.7 1751.0,955.0 1758.0,1005.0 1765.1,1033.3 1772.1,1053.3 1779.2,1033.3 1786.3,973.3 1793.3,915.0 1800.4,1000.0 1807.5,976.7 1814.5,965.0 1821.6,960.0 1828.6,973.3 1835.7,948.3 1842.8,1021.7 1849.8,1021.7 1856.9,1000.0 1864.0,956.7 1871.0,1006.7 1878.1,1008.3 1885.1,1050.0 1892.2,1065.0 1899.3,1005.0 1906.3,1015.0 1913.4,1000.0 1920.5,1046.7 1927.5,1080.0 1934.6,1026.7 1941.6,975.0 1948.7,1015.0 1955.8,1055.0 1962.8,1050.0 1969.9,1018.3 1976.9,968.3 1984.0,990.0 1991.1,973.3 1998.1,1058.3 2005.2,1061.7 2012.3,1033.3 2019.3,1070.0 2026.4,1078.3 2033.4,1123.3 2040.5,1006.7 2047.6,981.7 2054.6,1026.7 2061.7,1070.0 2068.8,1085.0 2075.8,1066.7 2082.9,1113.3 2089.9,1085.0 2097.0,1063.3 2104.1,988.3 2111.1,1066.7 2118.2,1078.3 2125.2,1090.0 2132.3,1105.0 2139.4,1053.3 2146.4,1115.0 2153.5,1106.7 2160.6,1090.0 2167.6,1090.0 2174.7,1106.7 2181.7,1111.7 2188.8,1136.7 2195.9,1153.3 2202.9,1181.7 2210.0,1171.7 2217.1,1141.7 2224.1,1171.7 2231.2,1130.0 2238.2,1095.0 2245.3,1118.3 2252.4,1136.7 2259.4,1161.7 2266.5,1128.3 2273.6,1148.3 2280.6,1128.3 2287.7,1138.3 2294.7,1128.3 2301.8,1125.0 2308.9,1133.3 2315.9,1138.3 2323.0,1130.0 2330.0,1116.7 2337.1,1131.7 2344.2,1158.3 2351.2,1160.0 2358.3,1135.0 2365.4,1155.0 2372.4,1156.7 2379.5,1183.3 2386.5,1153.3 2393.6,1158.3 2400.7,1140.0 2407.7,1143.3 2414.8,1165.0 2421.9,1145.0 2428.9,1156.7 2436.0,1170.0 2443.0,1166.7 2450.1,1168.3 2457.2,1171.7 2464.2,1148.3 2471.3,1166.7 2478.3,1158.3 2485.4,1185.0 2492.5,1195.0 2499.5,1190.0 2506.6,1183.3 2513.7,1182.3 2520.7,1179.5 2527.8,1174.8 2534.8,1181.3 2541.9,1188.8 2549.0,1193.5 2556.0,1197.3 2563.1,1184.1 2570.2,1177.6 2577.2,1177.6 2584.3,1188.8 2591.3,1190.7 2598.4,1185.1 2605.5,1188.8 2612.5,1202.9 2619.6,1202.0 2626.7,1184.1 2633.7,1196.3 2640.8,1191.7 2647.8,1188.8 2654.9,1183.2 2662.0,1198.2 2669.0,1194.5 2676.1,1198.2 2683.1,1191.7 2690.2,1200.1 2697.3,1192.6 2704.3,1196.3 2711.4,1192.6 2718.5,1198.2 2725.5,1197.3 2732.6,1202.9 2739.6,1193.5 2746.7,1199.2 2753.8,1198.2 2760.8,1187.0 2767.9,1198.2 2775.0,1203.8 2782.0,1196.3 2789.1,1198.2 2796.1,1199.2 2803.2,1200.1 2810.3,1200.1 2817.3,1198.2 2824.4,1192.6 2831.4,1199.2 2838.5,1199.2 2845.6,1204.8 2852.6,1198.2 2859.7,1199.2 2866.8,1198.2 2873.8,1198.2 2880.9,1198.2 2887.9,1202.9 2895.0,1196.3 2902.1,1198.2" fill="none" stroke="#000000" stroke-width="4.5" stroke-linejoin="round" clip-path="url(#cp1)"/>
<polyline points="331.5,1212.7 338.6,1210.7 345.6,1202.7 352.7,1206.0 359.7,1209.3 366.8,1205.0 373.9,1207.3 380.9,1210.0 388.0,1213.3 395.1,1209.3 402.1,1208.3 409.2,1207.3 416.2,1206.7 423.3,1212.7 430.4,1205.0 437.4,1210.7 444.5,1196.0 451.6,1200.0 458.6,1205.0 465.7,1210.7 472.7,1198.3 479.8,1206.7 486.9,1201.7 493.9,1196.0 501.0,1206.7 508.1,1207.3 515.1,1210.0 522.2,1212.7 529.2,1195.0 536.3,1210.7 543.4,1205.0 550.4,1210.7 557.5,1215.0 564.5,1217.3 571.6,1201.7 578.7,1178.3 585.7,1204.0 592.8,1193.3 599.9,1201.7 606.9,1218.3 614.0,1183.3 621.0,1185.0 628.1,1185.0 635.2,1180.0 642.2,1163.3 649.3,1215.0 656.4,1186.7 663.4,1186.7 670.5,1196.7 677.5,1178.3 684.6,1213.3 691.7,1186.7 698.7,1191.7 705.8,1195.0 712.8,1201.7 719.9,1203.3 727.0,1208.3 734.0,1191.7 741.1,1210.0 748.2,1203.3 755.2,1195.0 762.3,1201.7 769.3,1181.7 776.4,1180.0 783.5,1180.0 790.5,1198.3 797.6,1165.0 804.7,1146.7 811.7,1190.0 818.8,1190.0 825.8,1195.0 832.9,1200.0 840.0,1188.3 847.0,1196.7 854.1,1215.0 861.1,1188.3 868.2,1195.0 875.3,1180.0 882.3,1181.7 889.4,1193.3 896.5,1191.7 903.5,1175.0 910.6,1133.3 917.6,1156.7 924.7,1183.3 931.8,1181.7 938.8,1055.0 945.9,1090.0 953.0,1143.3 960.0,1163.3 967.1,1161.7 974.1,1161.7 981.2,1115.0 988.3,1111.7 995.3,1153.3 1002.4,1173.3 1009.5,1193.3 1016.5,1196.7 1023.6,1145.0 1030.6,1163.3 1037.7,1063.3 1044.8,1053.3 1051.8,1133.3 1058.9,1138.3 1065.9,1058.3 1073.0,1055.0 1080.1,953.3 1087.1,1108.3 1094.2,1110.0 1101.3,1076.7 1108.3,1088.3 1115.4,1135.0 1122.4,1175.0 1129.5,1125.0 1136.6,1110.0 1143.6,1080.0 1150.7,1143.3 1157.8,1173.3 1164.8,1120.0 1171.9,1150.0 1178.9,1131.7 1186.0,1120.0 1193.1,1126.7 1200.1,1080.0 1207.2,1158.3 1214.2,1146.7 1221.3,1090.0 1228.4,1163.3 1235.4,1118.3 1242.5,1106.7 1249.6,1096.7 1256.6,1086.7 1263.7,1081.7 1270.7,1070.0 1277.8,1188.3 1284.9,1176.7 1291.9,1153.3 1299.0,1116.7 1306.1,1110.0 1313.1,1101.7 1320.2,1000.0 1327.2,1013.3 1334.3,1121.7 1341.4,1135.0 1348.4,1138.3 1355.5,1128.3 1362.6,1186.7 1369.6,1156.7 1376.7,1015.0 1383.7,1165.0 1390.8,1156.7 1397.9,1138.3 1404.9,1141.7 1412.0,1041.7 1419.0,1161.7 1426.1,1143.3 1433.2,1096.7 1440.2,906.7 1447.3,1030.0 1454.4,1120.0 1461.4,1116.7 1468.5,1095.0 1475.5,1066.7 1482.6,1070.0 1489.7,1055.0 1496.7,1050.0 1503.8,1153.3 1510.9,1156.7 1517.9,1073.3 1525.0,975.0 1532.0,1013.3 1539.1,1091.7 1546.2,1066.7 1553.2,1050.0 1560.3,1093.3 1567.4,1018.3 1574.4,933.3 1581.5,1086.7 1588.5,1163.3 1595.6,1131.7 1602.7,1148.3 1609.7,1118.3 1616.8,1030.0 1623.8,953.3 1630.9,1000.0 1638.0,1070.0 1645.0,1036.7 1652.1,1068.3 1659.2,1080.0 1666.2,1088.3 1673.3,1118.3 1680.3,1141.7 1687.4,1120.0 1694.5,1133.3 1701.5,1061.7 1708.6,1146.7 1715.7,1115.0 1722.7,1053.3 1729.8,1123.3 1736.8,1045.0 1743.9,1038.3 1751.0,1030.0 1758.0,1135.0 1765.1,1133.3 1772.1,1116.7 1779.2,1141.7 1786.3,1053.3 1793.3,968.3 1800.4,1125.0 1807.5,1081.7 1814.5,1070.0 1821.6,1035.0 1828.6,1020.0 1835.7,1040.0 1842.8,1151.7 1849.8,1111.7 1856.9,1123.3 1864.0,1038.3 1871.0,1086.7 1878.1,1135.0 1885.1,1183.3 1892.2,1171.7 1899.3,1095.0 1906.3,1116.7 1913.4,1101.7 1920.5,1153.3 1927.5,1153.3 1934.6,1126.7 1941.6,1063.3 1948.7,1126.7 1955.8,1150.0 1962.8,1133.3 1969.9,1075.0 1976.9,1015.0 1984.0,1086.7 1991.1,1003.3 1998.1,1163.3 2005.2,1181.7 2012.3,1118.3 2019.3,1170.0 2026.4,1171.7 2033.4,1181.7 2040.5,1043.3 2047.6,1005.0 2054.6,1080.0 2061.7,1161.7 2068.8,1171.7 2075.8,1155.0 2082.9,1170.0 2089.9,1135.0 2097.0,1133.3 2104.1,1005.0 2111.1,1125.0 2118.2,1165.0 2125.2,1153.3 2132.3,1175.0 2139.4,1086.7 2146.4,1146.7 2153.5,1171.7 2160.6,1163.3 2167.6,1155.0 2174.7,1180.0 2181.7,1206.7 2188.8,1211.7 2195.9,1191.7 2202.9,1195.0 2210.0,1213.3 2217.1,1185.0 2224.1,1191.7 2231.2,1191.7 2238.2,1136.7 2245.3,1165.0 2252.4,1188.3 2259.4,1191.7 2266.5,1155.0 2273.6,1198.3 2280.6,1165.0 2287.7,1188.3 2294.7,1190.0 2301.8,1176.7 2308.9,1188.3 2315.9,1185.0 2323.0,1173.3 2330.0,1155.0 2337.1,1176.7 2344.2,1195.0 2351.2,1200.0 2358.3,1185.0 2365.4,1195.0 2372.4,1205.0 2379.5,1206.7 2386.5,1188.3 2393.6,1190.0 2400.7,1183.3 2407.7,1193.3 2414.8,1210.0 2421.9,1181.7 2428.9,1186.7 2436.0,1210.0 2443.0,1193.3 2450.1,1205.0 2457.2,1196.7 2464.2,1183.3 2471.3,1196.7 2478.3,1191.7 2485.4,1205.0 2492.5,1205.0 2499.5,1208.3 2506.6,1200.0 2513.7,1199.2 2520.7,1209.5 2527.8,1212.3 2534.8,1212.3 2541.9,1209.5 2549.0,1198.2 2556.0,1207.6 2563.1,1195.4 2570.2,1194.5 2577.2,1197.3 2584.3,1203.8 2591.3,1215.1 2598.4,1205.7 2605.5,1204.8 2612.5,1209.5 2619.6,1211.4 2626.7,1192.6 2633.7,1206.7 2640.8,1208.5 2647.8,1206.7 2654.9,1203.8 2662.0,1213.2 2669.0,1212.3 2676.1,1209.5 2683.1,1209.5 2690.2,1211.4 2697.3,1209.5 2704.3,1214.2 2711.4,1213.2 2718.5,1214.2 2725.5,1212.3 2732.6,1205.7 2739.6,1199.2 2746.7,1209.5 2753.8,1209.5 2760.8,1197.3 2767.9,1210.4 2775.0,1208.5 2782.0,1208.5 2789.1,1210.4 2796.1,1207.6 2803.2,1206.7 2810.3,1214.2 2817.3,1212.3 2824.4,1209.5 2831.4,1213.2 2838.5,1202.9 2845.6,1212.3 2852.6,1214.2 2859.7,1216.0 2866.8,1211.4 2873.8,1208.5 2880.9,1207.6 2887.9,1210.4 2895.0,1213.2 2902.1,1203.8" fill="none" stroke="#0000ff" stroke-width="3.2" stroke-linejoin="round" clip-path="url(#cp1)"/>
<polyline points="331.5,1185.0 338.6,1190.0 345.6,1188.3 352.7,1193.3 359.7,1190.0 366.8,1180.0 373.9,1190.0 380.9,1184.0 388.0,1191.7 395.1,1191.7 402.1,1185.0 409.2,1173.3 416.2,1182.7 423.3,1181.7 430.4,1176.0 437.4,1175.0 444.5,1155.0 451.6,1168.3 458.6,1166.7 465.7,1170.7 472.7,1158.3 479.8,1153.3 486.9,1163.3 493.9,1151.7 501.0,1163.3 508.1,1153.3 515.1,1148.3 522.2,1153.3 529.2,1165.0 536.3,1155.0 543.4,1162.7 550.4,1156.7 557.5,1153.3 564.5,1151.7 571.6,1138.3 578.7,1136.0 585.7,1138.3 592.8,1125.0 599.9,1126.7 606.9,1132.7 614.0,1110.0 621.0,1103.3 628.1,1105.0 635.2,1101.7 642.2,1096.7 649.3,1133.3 656.4,1108.3 663.4,1106.7 670.5,1121.7 677.5,1115.0 684.6,1113.3 691.7,1078.3 698.7,1075.0 705.8,1100.0 712.8,1116.7 719.9,1163.3 727.0,1118.3 734.0,1128.3 741.1,1113.3 748.2,1125.0 755.2,1093.3 762.3,1070.0 769.3,1056.7 776.4,1055.0 783.5,1071.7 790.5,1110.0 797.6,1048.3 804.7,1031.7 811.7,1053.3 818.8,1120.0 825.8,1103.3 832.9,1070.0 840.0,1070.0 847.0,1115.0 854.1,1063.3 861.1,1086.7 868.2,1103.3 875.3,1133.3 882.3,1080.0 889.4,1063.3 896.5,1021.7 903.5,1031.7 910.6,1021.7 917.6,1020.0 924.7,1051.7 931.8,1013.3 938.8,988.3 945.9,970.0 953.0,1045.0 960.0,1010.0 967.1,1013.3 974.1,986.7 981.2,998.3 988.3,975.0 995.3,1038.3 1002.4,1066.7 1009.5,1068.3 1016.5,1013.3 1023.6,970.0 1030.6,963.3 1037.7,958.3 1044.8,931.7 1051.8,936.7 1058.9,933.3 1065.9,910.0 1073.0,860.0 1080.1,903.3 1087.1,908.3 1094.2,902.7 1101.3,916.7 1108.3,901.7 1115.4,920.0 1122.4,1013.3 1129.5,936.7 1136.6,906.7 1143.6,871.7 1150.7,981.7 1157.8,921.7 1164.8,915.0 1171.9,918.3 1178.9,923.3 1186.0,878.3 1193.1,963.3 1200.1,891.7 1207.2,953.3 1214.2,1011.7 1221.3,883.3 1228.4,915.0 1235.4,891.7 1242.5,895.0 1249.6,921.7 1256.6,880.0 1263.7,910.0 1270.7,838.3 1277.8,943.3 1284.9,913.3 1291.9,893.3 1299.0,908.3 1306.1,911.7 1313.1,825.0 1320.2,863.3 1327.2,848.3 1334.3,861.7 1341.4,903.3 1348.4,906.7 1355.5,1013.3 1362.6,978.3 1369.6,966.7 1376.7,916.7 1383.7,895.0 1390.8,916.7 1397.9,913.3 1404.9,925.0 1412.0,1006.7 1419.0,973.3 1426.1,1015.0 1433.2,896.7 1440.2,795.0 1447.3,880.0 1454.4,846.7 1461.4,821.7 1468.5,823.3 1475.5,896.7 1482.6,853.3 1489.7,816.7 1496.7,928.3 1503.8,945.0 1510.9,895.0 1517.9,921.7 1525.0,866.7 1532.0,776.7 1539.1,863.3 1546.2,831.7 1553.2,833.3 1560.3,826.7 1567.4,833.3 1574.4,815.0 1581.5,796.7 1588.5,925.0 1595.6,980.0 1602.7,1033.3 1609.7,890.0 1616.8,815.0 1623.8,825.0 1630.9,821.7 1638.0,813.3 1645.0,805.0 1652.1,818.3 1659.2,851.7 1666.2,845.0 1673.3,891.7 1680.3,875.0 1687.4,851.7 1694.5,838.3 1701.5,838.3 1708.6,923.3 1715.7,871.7 1722.7,891.7 1729.8,976.7 1736.8,910.0 1743.9,858.3 1751.0,883.3 1758.0,871.7 1765.1,928.3 1772.1,990.0 1779.2,930.0 1786.3,865.0 1793.3,860.0 1800.4,875.0 1807.5,875.0 1814.5,858.3 1821.6,876.7 1828.6,925.0 1835.7,856.7 1842.8,896.7 1849.8,931.7 1856.9,873.3 1864.0,875.0 1871.0,928.3 1878.1,883.3 1885.1,915.0 1892.2,960.0 1899.3,916.7 1906.3,913.3 1913.4,900.0 1920.5,950.0 1927.5,1008.3 1934.6,936.7 1941.6,888.3 1948.7,896.7 1955.8,960.0 1962.8,968.3 1969.9,970.0 1976.9,921.7 1984.0,913.3 1991.1,940.0 1998.1,953.3 2005.2,943.3 2012.3,950.0 2019.3,973.3 2026.4,985.0 2033.4,1065.0 2040.5,971.7 2047.6,958.3 2054.6,968.3 2061.7,986.7 2068.8,1001.7 2075.8,981.7 2082.9,1056.7 2089.9,1041.7 2097.0,1001.7 2104.1,973.3 2111.1,1001.7 2118.2,990.0 2125.2,1025.0 2132.3,1033.3 2139.4,1021.7 2146.4,1086.7 2153.5,1048.3 2160.6,1016.7 2167.6,1023.3 2174.7,1035.0 2181.7,1020.0 2188.8,1053.3 2195.9,1113.3 2202.9,1170.0 2210.0,1130.0 2217.1,1098.3 2224.1,1153.3 2231.2,1075.0 2238.2,1051.7 2245.3,1063.3 2252.4,1073.3 2259.4,1131.7 2266.5,1101.7 2273.6,1096.7 2280.6,1091.7 2287.7,1088.3 2294.7,1063.3 2301.8,1071.7 2308.9,1081.7 2315.9,1091.7 2323.0,1090.0 2330.0,1080.0 2337.1,1080.0 2344.2,1121.7 2351.2,1120.0 2358.3,1085.0 2365.4,1115.0 2372.4,1110.0 2379.5,1163.3 2386.5,1118.3 2393.6,1125.0 2400.7,1096.7 2407.7,1096.7 2414.8,1120.0 2421.9,1108.3 2428.9,1125.0 2436.0,1126.7 2443.0,1136.7 2450.1,1128.3 2457.2,1143.3 2464.2,1115.0 2471.3,1136.7 2478.3,1126.7 2485.4,1163.3 2492.5,1186.7 2499.5,1175.0 2506.6,1168.3 2513.7,1163.5 2520.7,1141.0 2527.8,1151.3 2534.8,1157.9 2541.9,1177.6 2549.0,1179.5 2556.0,1185.1 2563.1,1170.1 2570.2,1160.7 2577.2,1156.9 2584.3,1172.0 2591.3,1168.2 2598.4,1165.4 2605.5,1172.9 2612.5,1196.3 2619.6,1192.6 2626.7,1175.7 2633.7,1187.0 2640.8,1174.8 2647.8,1170.1 2654.9,1163.5 2662.0,1181.3 2669.0,1174.8 2676.1,1187.9 2683.1,1172.9 2690.2,1189.8 2697.3,1175.7 2704.3,1179.5 2711.4,1172.9 2718.5,1179.5 2725.5,1180.4 2732.6,1200.1 2739.6,1187.0 2746.7,1188.8 2753.8,1187.9 2760.8,1176.6 2767.9,1190.7 2775.0,1200.1 2782.0,1183.2 2789.1,1186.0 2796.1,1192.6 2803.2,1194.5 2810.3,1185.1 2817.3,1181.3 2824.4,1175.7 2831.4,1183.2 2838.5,1190.7 2845.6,1198.2 2852.6,1183.2 2859.7,1182.3 2866.8,1183.2 2873.8,1185.1 2880.9,1188.8 2887.9,1193.5 2895.0,1178.5 2902.1,1194.5" fill="none" stroke="#ff0000" stroke-width="3.2" stroke-linejoin="round" clip-path="url(#cp1)"/>
<polyline points="331.5,1203.3 338.6,1181.7 345.6,1191.7 352.7,1165.0 359.7,1209.3 366.8,1195.0 373.9,1201.7 380.9,1203.3 388.0,1206.7 395.1,1208.3 402.1,1209.3 409.2,1208.3 416.2,1205.0 423.3,1200.0 430.4,1165.0 437.4,1161.7 444.5,1160.0 451.6,1158.3 458.6,1161.7 465.7,1156.7 472.7,1163.3 479.8,1153.3 486.9,1151.7 493.9,1156.7 501.0,1190.0 508.1,1205.0 515.1,1200.0 522.2,1203.3 529.2,1200.0 536.3,1193.3 543.4,1201.7 550.4,1200.0 557.5,1196.7 564.5,1208.3 571.6,1209.3 578.7,1176.7 585.7,1198.3 592.8,1193.3 599.9,1200.0 606.9,1173.3 614.0,1201.7 621.0,1183.3 628.1,1178.3 635.2,1165.0 642.2,1110.0 649.3,1180.0 656.4,1133.3 663.4,1096.7 670.5,1095.0 677.5,1110.0 684.6,1186.7 691.7,1136.7 698.7,1173.3 705.8,1123.3 712.8,1168.3 719.9,1201.7 727.0,1163.3 734.0,1128.3 741.1,1130.0 748.2,1175.0 755.2,1186.7 762.3,1193.3 769.3,1168.3 776.4,1186.7 783.5,1196.7 790.5,1191.7 797.6,1130.0 804.7,1131.7 811.7,1136.7 818.8,1153.3 825.8,1111.7 832.9,1030.0 840.0,1053.3 847.0,1193.3 854.1,1203.3 861.1,1186.7 868.2,1181.7 875.3,1150.0 882.3,1096.7 889.4,1166.7 896.5,1175.0 903.5,1113.3 910.6,1065.0 917.6,1181.7 924.7,1205.0 931.8,1086.7 938.8,1021.7 945.9,1025.0 953.0,1100.0 960.0,1010.0 967.1,985.0 974.1,993.3 981.2,1130.0 988.3,1133.3 995.3,1055.0 1002.4,1036.7 1009.5,1021.7 1016.5,953.3 1023.6,941.7 1030.6,950.0" fill="none" stroke="#ff00ff" stroke-width="3.2" stroke-linejoin="round" clip-path="url(#cp1)"/>
<polyline points="331.5,1400.8 338.6,1346.0 345.6,1456.4 352.7,1498.4 359.7,1566.5 366.8,1679.3 373.9,1535.2 380.9,1468.6 388.0,1483.3 395.1,1526.4 402.1,1517.9 409.2,1433.9 416.2,1330.3 423.3,1398.5 430.4,1431.2 437.4,1347.1 444.5,1337.2 451.6,1255.7 458.6,1259.1 465.7,1266.7 472.7,1288.7 479.8,1254.0 486.9,1333.0 493.9,1167.5 501.0,1292.2 508.1,1390.3 515.1,1283.2 522.2,1335.5 529.2,1333.3 536.3,1344.9 543.4,1342.3 550.4,1380.7 557.5,1408.4 564.5,1360.1 571.6,1338.4 578.7,1362.3 585.7,1356.7 592.8,1390.3 599.9,1316.5 606.9,1253.6 614.0,1329.7 621.0,1317.1 628.1,1257.3 635.2,1336.9 642.2,1345.7 649.3,1340.7 656.4,1389.9 663.4,1322.9 670.5,1380.9 677.5,1411.0 684.6,1455.4 691.7,1405.3 698.7,1375.0 705.8,1308.2 712.8,1288.7 719.9,1355.1 727.0,1448.5 734.0,1452.8 741.1,1604.3 748.2,1594.1 755.2,1596.0 762.3,1560.6 769.3,1496.6 776.4,1446.6 783.5,1509.2 790.5,1475.8 797.6,1503.3 804.7,1491.0 811.7,1633.5 818.8,1505.5 825.8,1510.0 832.9,1546.5 840.0,1511.0 847.0,1409.5 854.1,1463.0 861.1,1401.3 868.2,1355.5 875.3,1431.9 882.3,1420.6 889.4,1395.1 896.5,1391.9 903.5,1353.4 910.6,1393.7 917.6,1344.6 924.7,1354.8 931.8,1345.9 938.8,1377.1 945.9,1379.3 953.0,1351.3 960.0,1324.5 967.1,1423.7 974.1,1465.4 981.2,1440.6 988.3,1243.5 995.3,1320.7 1002.4,1353.3 1009.5,1376.2 1016.5,1393.0 1023.6,1365.1 1030.6,1390.9 1037.7,1347.0 1044.8,1287.0 1051.8,1338.7 1058.9,1355.0 1065.9,1358.3 1073.0,1452.7 1080.1,1508.7 1087.1,1430.9 1094.2,1512.0 1101.3,1467.4 1108.3,1409.2 1115.4,1411.6 1122.4,1465.1 1129.5,1451.8 1136.6,1403.6 1143.6,1417.5 1150.7,1383.1 1157.8,1447.1 1164.8,1427.7 1171.9,1461.9 1178.9,1446.1 1186.0,1429.4 1193.1,1436.0 1200.1,1387.3 1207.2,1364.3 1214.2,1421.0 1221.3,1399.4 1228.4,1398.4 1235.4,1350.7 1242.5,1384.4 1249.6,1421.3 1256.6,1435.5 1263.7,1412.7 1270.7,1392.2 1277.8,1436.4 1284.9,1486.0 1291.9,1471.0 1299.0,1496.9 1306.1,1488.3 1313.1,1430.1 1320.2,1397.9 1327.2,1387.8 1334.3,1420.4 1341.4,1464.5 1348.4,1466.8 1355.5,1447.1 1362.6,1521.9 1369.6,1478.6 1376.7,1433.2 1383.7,1426.1 1390.8,1408.4 1397.9,1388.3 1404.9,1434.7 1412.0,1381.8 1419.0,1530.6 1426.1,1406.0 1433.2,1376.8 1440.2,1415.9 1447.3,1429.0 1454.4,1397.4 1461.4,1410.4 1468.5,1475.4 1475.5,1440.2 1482.6,1424.8 1489.7,1393.7 1496.7,1390.9 1503.8,1367.1 1510.9,1360.7 1517.9,1358.6 1525.0,1404.8 1532.0,1424.8 1539.1,1384.3 1546.2,1424.7 1553.2,1437.5 1560.3,1352.0 1567.4,1353.0 1574.4,1369.7 1581.5,1432.3 1588.5,1420.9 1595.6,1381.8 1602.7,1380.5 1609.7,1414.0 1616.8,1454.8 1623.8,1471.9 1630.9,1412.6 1638.0,1451.6 1645.0,1410.2 1652.1,1427.2 1659.2,1428.2 1666.2,1416.2 1673.3,1404.7 1680.3,1384.0 1687.4,1393.7 1694.5,1399.1 1701.5,1408.4 1708.6,1450.2 1715.7,1437.8 1722.7,1421.5 1729.8,1394.5 1736.8,1393.2 1743.9,1390.0 1751.0,1370.4 1758.0,1389.8 1765.1,1386.6 1772.1,1416.8 1779.2,1382.3 1786.3,1386.8 1793.3,1426.2 1800.4,1416.8 1807.5,1433.1 1814.5,1457.7 1821.6,1452.4 1828.6,1429.8 1835.7,1417.2 1842.8,1424.6 1849.8,1429.8 1856.9,1427.4 1864.0,1402.4 1871.0,1401.6 1878.1,1403.3 1885.1,1473.2 1892.2,1455.8 1899.3,1446.0 1906.3,1447.2 1913.4,1467.2 1920.5,1443.2 1927.5,1340.7 1934.6,1375.2 1941.6,1413.9 1948.7,1371.9 1955.8,1367.2 1962.8,1373.8 1969.9,1335.9 1976.9,1353.0 1984.0,1374.1 1991.1,1357.7 1998.1,1397.4 2005.2,1415.1 2012.3,1395.5 2019.3,1346.4 2026.4,1396.8 2033.4,1440.6 2040.5,1429.4 2047.6,1421.9 2054.6,1437.0 2061.7,1368.7 2068.8,1368.7 2075.8,1399.3 2082.9,1395.1 2089.9,1403.1 2097.0,1322.5 2104.1,1359.5 2111.1,1424.7 2118.2,1403.5 2125.2,1394.0 2132.3,1364.2 2139.4,1419.2 2146.4,1427.4 2153.5,1431.5 2160.6,1538.3 2167.6,1548.1 2174.7,1458.7 2181.7,1442.4 2188.8,1469.2 2195.9,1464.9 2202.9,1457.0 2210.0,1486.1 2217.1,1482.0 2224.1,1425.1 2231.2,1513.7 2238.2,1454.9 2245.3,1472.7 2252.4,1365.1 2259.4,1469.8 2266.5,1456.5 2273.6,1410.6 2280.6,1458.6 2287.7,1478.8 2294.7,1417.3 2301.8,1443.5 2308.9,1431.2 2315.9,1469.7 2323.0,1429.9 2330.0,1437.6 2337.1,1452.6 2344.2,1355.7 2351.2,1402.2 2358.3,1397.1 2365.4,1409.9 2372.4,1430.1 2379.5,1413.8 2386.5,1432.3 2393.6,1381.7 2400.7,1379.8 2407.7,1337.4 2414.8,1378.6 2421.9,1419.2 2428.9,1349.0 2436.0,1321.8 2443.0,1443.2 2450.1,1364.6 2457.2,1489.3 2464.2,1454.2 2471.3,1447.0 2478.3,1430.5 2485.4,1479.3 2492.5,1494.5 2499.5,1558.4 2506.6,1612.3 2513.7,1606.1 2520.7,1540.3 2527.8,1403.5 2534.8,1382.8 2541.9,1397.7 2549.0,1381.3 2556.0,1402.7 2563.1,1272.2 2570.2,1346.2 2577.2,1251.3 2584.3,1249.6 2591.3,1479.4 2598.4,1585.9 2605.5,1495.4 2612.5,1527.4 2619.6,1486.5 2626.7,1518.3 2633.7,1494.3 2640.8,1396.9 2647.8,1391.9 2654.9,1335.7 2662.0,1372.8 2669.0,1379.6 2676.1,1411.6 2683.1,1457.3 2690.2,1462.0 2697.3,1314.0 2704.3,1311.4 2711.4,1394.5 2718.5,1371.2 2725.5,1465.8 2732.6,1499.4 2739.6,1580.8 2746.7,1561.2 2753.8,1482.3 2760.8,1489.5 2767.9,1468.2 2775.0,1385.8 2782.0,1260.3 2789.1,1298.9 2796.1,1268.8 2803.2,1312.0 2810.3,1407.8 2817.3,1392.0 2824.4,1378.4 2831.4,1380.3 2838.5,1439.4 2845.6,1377.1 2852.6,1407.4 2859.7,1485.4 2866.8,1514.9 2873.8,1528.4 2880.9,1511.4 2887.9,1383.6 2895.0,1419.7 2902.1,1422.4" fill="none" stroke="#898989" stroke-width="1.0" stroke-linejoin="round" clip-path="url(#cp2)"/>
<polyline points="331.5,1442.4 338.6,1491.9 345.6,1413.6 352.7,1400.5 359.7,1304.6 366.8,1404.2 373.9,1580.7 380.9,1564.9 388.0,1550.0 395.1,1489.7 402.1,1371.6 409.2,1462.9 416.2,1377.9 423.3,1350.1 430.4,1386.2 437.4,1453.5 444.5,1489.7 451.6,1483.8 458.6,1350.2 465.7,1323.1 472.7,1351.4 479.8,1444.2 486.9,1388.0 493.9,1462.6 501.0,1454.4 508.1,1477.6 515.1,1487.5 522.2,1424.7 529.2,1470.9 536.3,1562.0 543.4,1525.0 550.4,1593.7 557.5,1536.9 564.5,1472.8 571.6,1380.4 578.7,1465.2 585.7,1447.7 592.8,1435.2 599.9,1443.8 606.9,1449.1 614.0,1445.6 621.0,1418.7 628.1,1405.4 635.2,1424.4 642.2,1452.5 649.3,1477.1 656.4,1517.7 663.4,1487.7 670.5,1455.3 677.5,1458.0 684.6,1469.5 691.7,1508.0 698.7,1485.6 705.8,1459.0 712.8,1548.2 719.9,1559.6 727.0,1519.1 734.0,1386.0 741.1,1385.8 748.2,1429.6 755.2,1471.7 762.3,1395.1 769.3,1417.9 776.4,1357.2 783.5,1394.7 790.5,1359.4 797.6,1368.2 804.7,1524.8 811.7,1447.6 818.8,1470.5 825.8,1528.0 832.9,1495.3 840.0,1525.8 847.0,1444.4 854.1,1538.1 861.1,1504.5 868.2,1464.8 875.3,1494.9 882.3,1564.4 889.4,1522.3 896.5,1450.7 903.5,1447.9 910.6,1492.1 917.6,1473.8 924.7,1427.8 931.8,1487.2 938.8,1447.6 945.9,1440.3 953.0,1362.0 960.0,1390.8 967.1,1431.2 974.1,1448.0 981.2,1411.6 988.3,1566.1 995.3,1435.8 1002.4,1427.3 1009.5,1482.8 1016.5,1454.0 1023.6,1505.3 1030.6,1450.3 1037.7,1448.7 1044.8,1409.7 1051.8,1464.3 1058.9,1459.2 1065.9,1484.3 1073.0,1480.2 1080.1,1406.6 1087.1,1384.0 1094.2,1474.0 1101.3,1468.4 1108.3,1532.4 1115.4,1435.4 1122.4,1463.2 1129.5,1481.4 1136.6,1422.1 1143.6,1452.4 1150.7,1408.5 1157.8,1387.1 1164.8,1431.6 1171.9,1431.9 1178.9,1411.4 1186.0,1450.1 1193.1,1447.8 1200.1,1510.5 1207.2,1452.8 1214.2,1424.6 1221.3,1417.4 1228.4,1431.8 1235.4,1483.8 1242.5,1461.3 1249.6,1469.9 1256.6,1448.7 1263.7,1416.0 1270.7,1397.9 1277.8,1413.0 1284.9,1438.0 1291.9,1431.7 1299.0,1459.9 1306.1,1348.7 1313.1,1332.0 1320.2,1359.6 1327.2,1357.7 1334.3,1382.8 1341.4,1412.8 1348.4,1417.0 1355.5,1449.4 1362.6,1450.1 1369.6,1397.3 1376.7,1384.0 1383.7,1404.6 1390.8,1373.6 1397.9,1339.5 1404.9,1327.9 1412.0,1450.8 1419.0,1411.5 1426.1,1402.5 1433.2,1349.2 1440.2,1375.1 1447.3,1372.7 1454.4,1378.0 1461.4,1391.1 1468.5,1367.1 1475.5,1366.1 1482.6,1367.8 1489.7,1375.6 1496.7,1383.3 1503.8,1454.2 1510.9,1438.9 1517.9,1468.9 1525.0,1457.3 1532.0,1421.4 1539.1,1403.1 1546.2,1469.3 1553.2,1400.4 1560.3,1402.0 1567.4,1351.8 1574.4,1338.9 1581.5,1422.9 1588.5,1403.2 1595.6,1366.9 1602.7,1340.4 1609.7,1350.8 1616.8,1327.7 1623.8,1340.1 1630.9,1462.4 1638.0,1398.9 1645.0,1394.4 1652.1,1414.1 1659.2,1438.4 1666.2,1434.0 1673.3,1396.7 1680.3,1377.1 1687.4,1403.3 1694.5,1393.2 1701.5,1360.8 1708.6,1373.7 1715.7,1406.5 1722.7,1390.4 1729.8,1376.8 1736.8,1359.7 1743.9,1366.2 1751.0,1390.8 1758.0,1410.7 1765.1,1397.9 1772.1,1369.4 1779.2,1383.0 1786.3,1354.7 1793.3,1384.8 1800.4,1387.4 1807.5,1428.9 1814.5,1450.3 1821.6,1398.6 1828.6,1387.2 1835.7,1364.8 1842.8,1350.0 1849.8,1359.3 1856.9,1347.7 1864.0,1357.2 1871.0,1344.6 1878.1,1368.3 1885.1,1373.4 1892.2,1372.9 1899.3,1360.3 1906.3,1381.0 1913.4,1404.2 1920.5,1349.8 1927.5,1401.4 1934.6,1426.8 1941.6,1389.1 1948.7,1419.1 1955.8,1422.3 1962.8,1374.6 1969.9,1379.3 1976.9,1438.7 1984.0,1416.4 1991.1,1431.5 1998.1,1412.5 2005.2,1426.7 2012.3,1399.7 2019.3,1354.9 2026.4,1332.4 2033.4,1374.2 2040.5,1385.0 2047.6,1399.5 2054.6,1406.2 2061.7,1439.1 2068.8,1398.2 2075.8,1424.6 2082.9,1413.3 2089.9,1410.6 2097.0,1441.1 2104.1,1451.6 2111.1,1441.8 2118.2,1459.9 2125.2,1408.6 2132.3,1420.0 2139.4,1397.9 2146.4,1403.9 2153.5,1408.4 2160.6,1479.3 2167.6,1557.3 2174.7,1497.3 2181.7,1527.1 2188.8,1493.3 2195.9,1493.2 2202.9,1517.4 2210.0,1432.6 2217.1,1565.4 2224.1,1559.2 2231.2,1480.3 2238.2,1482.4 2245.3,1540.7 2252.4,1552.7 2259.4,1424.9 2266.5,1478.7 2273.6,1422.5 2280.6,1435.0 2287.7,1397.1 2294.7,1461.9 2301.8,1503.6 2308.9,1583.4 2315.9,1577.7 2323.0,1603.1 2330.0,1494.1 2337.1,1396.9 2344.2,1453.5 2351.2,1398.0 2358.3,1403.4 2365.4,1496.8 2372.4,1475.5 2379.5,1489.4 2386.5,1470.0 2393.6,1459.9 2400.7,1479.4 2407.7,1459.8 2414.8,1475.8 2421.9,1577.7 2428.9,1593.3 2436.0,1528.3 2443.0,1451.9 2450.1,1301.1 2457.2,1291.4 2464.2,1442.1 2471.3,1464.4 2478.3,1434.8 2485.4,1453.8 2492.5,1444.4 2499.5,1516.3 2506.6,1430.0 2513.7,1365.0 2520.7,1453.9 2527.8,1470.9 2534.8,1507.0 2541.9,1468.7 2549.0,1552.4 2556.0,1485.3 2563.1,1425.7 2570.2,1366.9 2577.2,1441.2 2584.3,1437.4 2591.3,1314.6 2598.4,1388.6 2605.5,1350.4 2612.5,1307.3 2619.6,1363.7 2626.7,1368.0 2633.7,1282.7 2640.8,1299.1 2647.8,1360.2 2654.9,1392.4 2662.0,1434.8 2669.0,1434.7 2676.1,1433.2 2683.1,1482.6 2690.2,1278.7 2697.3,1417.4 2704.3,1321.1 2711.4,1399.3 2718.5,1413.9 2725.5,1384.5 2732.6,1447.3 2739.6,1468.3 2746.7,1349.6 2753.8,1364.3 2760.8,1323.6 2767.9,1375.9 2775.0,1482.8 2782.0,1471.1 2789.1,1442.3 2796.1,1385.6 2803.2,1489.1 2810.3,1565.9 2817.3,1560.7 2824.4,1487.1 2831.4,1547.5 2838.5,1596.9 2845.6,1564.4 2852.6,1598.6 2859.7,1585.0 2866.8,1610.7 2873.8,1454.9 2880.9,1569.1 2887.9,1515.9 2895.0,1567.5 2902.1,1486.1" fill="none" stroke="#898989" stroke-width="1.0" stroke-linejoin="round" clip-path="url(#cp2)"/>
<polyline points="331.5,1390.6 338.6,1463.1 345.6,1590.6 352.7,1550.9 359.7,1506.7 366.8,1565.4 373.9,1479.4 380.9,1504.8 388.0,1558.4 395.1,1559.4 402.1,1561.6 409.2,1540.8 416.2,1492.1 423.3,1398.1 430.4,1379.3 437.4,1440.6 444.5,1423.1 451.6,1353.2 458.6,1358.3 465.7,1368.5 472.7,1350.0 479.8,1326.8 486.9,1341.5 493.9,1474.3 501.0,1440.1 508.1,1434.0 515.1,1370.6 522.2,1388.0 529.2,1476.0 536.3,1430.5 543.4,1528.1 550.4,1394.3 557.5,1474.8 564.5,1502.3 571.6,1470.9 578.7,1451.6 585.7,1492.2 592.8,1481.7 599.9,1369.1 606.9,1355.6 614.0,1414.8 621.0,1385.8 628.1,1402.3 635.2,1462.5 642.2,1459.7 649.3,1381.4 656.4,1291.2 663.4,1303.2 670.5,1338.7 677.5,1379.1 684.6,1427.3 691.7,1357.3 698.7,1269.1 705.8,1332.4 712.8,1342.7 719.9,1529.9 727.0,1459.3 734.0,1387.4 741.1,1500.9 748.2,1463.1 755.2,1420.6 762.3,1473.1 769.3,1457.4 776.4,1488.2 783.5,1473.0 790.5,1550.2 797.6,1523.1 804.7,1509.0 811.7,1490.2 818.8,1483.2 825.8,1519.0 832.9,1511.6 840.0,1532.7 847.0,1616.5 854.1,1552.8 861.1,1527.3 868.2,1507.3 875.3,1495.2 882.3,1506.1 889.4,1491.3 896.5,1477.2 903.5,1507.3 910.6,1493.0 917.6,1454.6 924.7,1443.3 931.8,1528.1 938.8,1588.1 945.9,1515.4 953.0,1528.5 960.0,1524.3 967.1,1521.4 974.1,1475.3 981.2,1473.7 988.3,1324.4 995.3,1393.9 1002.4,1444.1 1009.5,1517.3 1016.5,1568.5 1023.6,1435.0 1030.6,1416.1 1037.7,1411.0 1044.8,1363.3 1051.8,1383.0 1058.9,1418.6 1065.9,1433.4 1073.0,1354.2 1080.1,1323.9 1087.1,1351.0 1094.2,1274.3 1101.3,1326.9 1108.3,1326.9 1115.4,1320.2 1122.4,1339.6 1129.5,1412.9 1136.6,1484.7 1143.6,1472.8 1150.7,1375.8 1157.8,1403.6 1164.8,1438.1 1171.9,1439.7 1178.9,1392.5 1186.0,1425.6 1193.1,1444.1 1200.1,1444.4 1207.2,1424.1 1214.2,1469.3 1221.3,1378.5 1228.4,1312.1 1235.4,1272.7 1242.5,1319.2 1249.6,1355.0 1256.6,1435.9 1263.7,1400.8 1270.7,1359.5 1277.8,1366.4 1284.9,1413.0 1291.9,1398.7 1299.0,1381.7 1306.1,1358.9 1313.1,1316.6 1320.2,1353.6 1327.2,1406.4 1334.3,1427.6 1341.4,1434.0 1348.4,1453.0 1355.5,1469.2 1362.6,1438.6 1369.6,1405.7 1376.7,1427.2 1383.7,1371.6 1390.8,1359.2 1397.9,1328.0 1404.9,1343.0 1412.0,1322.9 1419.0,1338.3 1426.1,1399.1 1433.2,1436.8 1440.2,1448.3 1447.3,1469.3 1454.4,1474.7 1461.4,1516.3 1468.5,1424.5 1475.5,1430.2 1482.6,1401.8 1489.7,1373.8 1496.7,1392.4 1503.8,1385.1 1510.9,1426.0 1517.9,1439.7 1525.0,1396.0 1532.0,1386.1 1539.1,1371.6 1546.2,1467.1 1553.2,1467.8 1560.3,1444.3 1567.4,1385.3 1574.4,1415.3 1581.5,1450.8 1588.5,1473.2 1595.6,1375.8 1602.7,1445.3 1609.7,1405.3 1616.8,1377.0 1623.8,1333.7 1630.9,1335.2 1638.0,1352.8 1645.0,1355.2 1652.1,1397.5 1659.2,1390.0 1666.2,1383.4 1673.3,1379.8 1680.3,1372.0 1687.4,1379.3 1694.5,1405.4 1701.5,1431.5 1708.6,1418.4 1715.7,1388.5 1722.7,1413.7 1729.8,1396.4 1736.8,1384.0 1743.9,1377.8 1751.0,1415.8 1758.0,1445.8 1765.1,1440.0 1772.1,1458.3 1779.2,1444.1 1786.3,1433.8 1793.3,1392.8 1800.4,1470.2 1807.5,1470.5 1814.5,1426.3 1821.6,1414.5 1828.6,1406.6 1835.7,1410.6 1842.8,1438.3 1849.8,1434.6 1856.9,1412.8 1864.0,1415.0 1871.0,1396.4 1878.1,1429.3 1885.1,1408.6 1892.2,1407.8 1899.3,1408.0 1906.3,1416.7 1913.4,1428.7 1920.5,1439.1 1927.5,1510.8 1934.6,1424.0 1941.6,1410.4 1948.7,1433.6 1955.8,1412.1 1962.8,1378.7 1969.9,1375.6 1976.9,1413.4 1984.0,1417.6 1991.1,1420.6 1998.1,1428.9 2005.2,1430.3 2012.3,1398.1 2019.3,1416.4 2026.4,1434.6 2033.4,1421.3 2040.5,1422.2 2047.6,1423.3 2054.6,1461.2 2061.7,1483.6 2068.8,1495.7 2075.8,1479.4 2082.9,1417.7 2089.9,1411.0 2097.0,1389.2 2104.1,1379.5 2111.1,1418.2 2118.2,1408.5 2125.2,1424.2 2132.3,1402.5 2139.4,1394.0 2146.4,1392.8 2153.5,1408.8 2160.6,1444.9 2167.6,1480.0 2174.7,1448.1 2181.7,1406.0 2188.8,1454.7 2195.9,1451.4 2202.9,1418.7 2210.0,1380.7 2217.1,1382.3 2224.1,1487.1 2231.2,1474.6 2238.2,1432.4 2245.3,1451.9 2252.4,1453.8 2259.4,1508.8 2266.5,1451.1 2273.6,1408.0 2280.6,1458.4 2287.7,1332.0 2294.7,1326.2 2301.8,1408.2 2308.9,1433.1 2315.9,1478.6 2323.0,1438.8 2330.0,1431.0 2337.1,1508.2 2344.2,1501.2 2351.2,1536.5 2358.3,1450.6 2365.4,1486.5 2372.4,1475.2 2379.5,1505.3 2386.5,1530.0 2393.6,1511.3 2400.7,1482.5 2407.7,1517.6 2414.8,1582.4 2421.9,1526.2 2428.9,1577.0 2436.0,1689.8 2443.0,1684.6 2450.1,1496.7 2457.2,1487.8 2464.2,1512.0 2471.3,1487.9 2478.3,1517.0 2485.4,1521.3 2492.5,1507.2 2499.5,1556.6 2506.6,1524.6 2513.7,1516.7 2520.7,1494.0 2527.8,1409.1 2534.8,1423.6 2541.9,1500.6 2549.0,1436.7 2556.0,1452.4 2563.1,1531.8 2570.2,1558.1 2577.2,1541.5 2584.3,1581.8 2591.3,1468.6 2598.4,1546.1 2605.5,1476.3 2612.5,1425.3 2619.6,1397.4 2626.7,1370.6 2633.7,1373.9 2640.8,1380.6 2647.8,1394.5 2654.9,1410.7 2662.0,1489.2 2669.0,1438.0 2676.1,1424.7 2683.1,1474.9 2690.2,1500.4 2697.3,1409.9 2704.3,1439.6 2711.4,1364.5 2718.5,1553.6 2725.5,1486.0 2732.6,1471.8 2739.6,1397.9 2746.7,1424.5 2753.8,1665.7 2760.8,1626.6 2767.9,1545.9 2775.0,1516.1 2782.0,1618.8 2789.1,1489.6 2796.1,1476.6 2803.2,1547.7 2810.3,1531.0 2817.3,1514.4 2824.4,1488.2 2831.4,1486.7 2838.5,1485.4 2845.6,1555.3 2852.6,1590.8 2859.7,1553.1 2866.8,1624.0 2873.8,1369.2 2880.9,1318.3 2887.9,1356.2 2895.0,1465.8 2902.1,1436.3" fill="none" stroke="#898989" stroke-width="1.0" stroke-linejoin="round" clip-path="url(#cp2)"/>
<polyline points="331.5,1516.6 338.6,1587.3 345.6,1551.4 352.7,1567.4 359.7,1478.5 366.8,1422.5 373.9,1361.7 380.9,1413.9 388.0,1281.5 395.1,1414.3 402.1,1321.2 409.2,1348.5 416.2,1389.6 423.3,1324.6 430.4,1357.8 437.4,1365.0 444.5,1277.9 451.6,1287.1 458.6,1350.6 465.7,1404.1 472.7,1507.0 479.8,1548.9 486.9,1515.2 493.9,1407.5 501.0,1462.1 508.1,1484.3 515.1,1568.1 522.2,1564.5 529.2,1567.4 536.3,1532.3 543.4,1557.1 550.4,1469.0 557.5,1473.1 564.5,1413.5 571.6,1467.2 578.7,1421.0 585.7,1438.6 592.8,1526.7 599.9,1440.5 606.9,1440.7 614.0,1382.2 621.0,1306.5 628.1,1395.4 635.2,1491.9 642.2,1432.6 649.3,1366.0 656.4,1472.5 663.4,1459.4 670.5,1476.3 677.5,1497.5 684.6,1477.0 691.7,1476.8 698.7,1443.9 705.8,1328.5 712.8,1352.8 719.9,1405.8 727.0,1412.8 734.0,1519.6 741.1,1521.5 748.2,1525.2 755.2,1466.3 762.3,1477.5 769.3,1524.1 776.4,1388.6 783.5,1407.2 790.5,1412.6 797.6,1410.2 804.7,1396.2 811.7,1354.2 818.8,1394.3 825.8,1369.9 832.9,1476.0 840.0,1528.8 847.0,1465.2 854.1,1479.1 861.1,1465.3 868.2,1441.7 875.3,1468.8 882.3,1461.6 889.4,1423.3 896.5,1398.8 903.5,1368.6 910.6,1359.6 917.6,1373.1 924.7,1384.0 931.8,1465.5 938.8,1468.3 945.9,1436.1 953.0,1430.9 960.0,1512.0 967.1,1546.7 974.1,1487.0 981.2,1504.2 988.3,1515.8 995.3,1513.3 1002.4,1535.4 1009.5,1535.9 1016.5,1527.1 1023.6,1537.3 1030.6,1486.5 1037.7,1530.7 1044.8,1469.6 1051.8,1381.2 1058.9,1352.6 1065.9,1366.4 1073.0,1368.9 1080.1,1275.6 1087.1,1287.0 1094.2,1406.3 1101.3,1439.9 1108.3,1412.2 1115.4,1404.2 1122.4,1458.0 1129.5,1462.7 1136.6,1499.8 1143.6,1492.1 1150.7,1507.9 1157.8,1411.1 1164.8,1358.8 1171.9,1344.6 1178.9,1396.6 1186.0,1489.7 1193.1,1461.8 1200.1,1516.5 1207.2,1538.4 1214.2,1516.6 1221.3,1465.7 1228.4,1455.4 1235.4,1421.4 1242.5,1373.1 1249.6,1367.7 1256.6,1347.3 1263.7,1334.9 1270.7,1343.8 1277.8,1385.5 1284.9,1433.1 1291.9,1431.1 1299.0,1463.6 1306.1,1435.3 1313.1,1394.6 1320.2,1381.0 1327.2,1383.5 1334.3,1398.2 1341.4,1392.6 1348.4,1406.4 1355.5,1430.2 1362.6,1466.2 1369.6,1454.8 1376.7,1435.4 1383.7,1427.1 1390.8,1403.0 1397.9,1443.0 1404.9,1479.3 1412.0,1495.2 1419.0,1596.3 1426.1,1476.3 1433.2,1408.5 1440.2,1387.8 1447.3,1429.9 1454.4,1418.3 1461.4,1413.3 1468.5,1422.3 1475.5,1392.1 1482.6,1396.9 1489.7,1412.2 1496.7,1418.7 1503.8,1458.5 1510.9,1414.3 1517.9,1425.8 1525.0,1405.7 1532.0,1349.1 1539.1,1401.4 1546.2,1416.6 1553.2,1439.1 1560.3,1400.2 1567.4,1377.7 1574.4,1387.8 1581.5,1434.5 1588.5,1435.0 1595.6,1449.3 1602.7,1432.2 1609.7,1402.1 1616.8,1367.1 1623.8,1384.9 1630.9,1409.3 1638.0,1350.1 1645.0,1362.6 1652.1,1430.0 1659.2,1408.2 1666.2,1386.1 1673.3,1357.8 1680.3,1345.7 1687.4,1353.8 1694.5,1360.1 1701.5,1351.4 1708.6,1378.1 1715.7,1403.9 1722.7,1428.9 1729.8,1435.1 1736.8,1409.1 1743.9,1401.9 1751.0,1418.5 1758.0,1441.3 1765.1,1406.5 1772.1,1358.5 1779.2,1385.6 1786.3,1403.4 1793.3,1445.4 1800.4,1392.5 1807.5,1346.6 1814.5,1381.2 1821.6,1386.4 1828.6,1380.6 1835.7,1372.9 1842.8,1404.4 1849.8,1420.1 1856.9,1421.9 1864.0,1419.0 1871.0,1442.5 1878.1,1409.8 1885.1,1425.1 1892.2,1398.7 1899.3,1345.6 1906.3,1380.3 1913.4,1370.0 1920.5,1417.3 1927.5,1437.7 1934.6,1528.4 1941.6,1471.0 1948.7,1454.6 1955.8,1420.8 1962.8,1437.7 1969.9,1455.4 1976.9,1477.5 1984.0,1437.9 1991.1,1423.2 1998.1,1419.9 2005.2,1439.6 2012.3,1444.0 2019.3,1463.5 2026.4,1473.7 2033.4,1433.8 2040.5,1432.5 2047.6,1400.3 2054.6,1412.2 2061.7,1430.7 2068.8,1383.3 2075.8,1376.8 2082.9,1408.9 2089.9,1403.6 2097.0,1353.2 2104.1,1370.1 2111.1,1430.5 2118.2,1445.1 2125.2,1460.0 2132.3,1451.5 2139.4,1488.2 2146.4,1442.3 2153.5,1424.5 2160.6,1526.0 2167.6,1421.6 2174.7,1428.8 2181.7,1403.0 2188.8,1424.1 2195.9,1452.1 2202.9,1411.6 2210.0,1506.9 2217.1,1583.4 2224.1,1642.3 2231.2,1618.9 2238.2,1544.1 2245.3,1462.3 2252.4,1480.3 2259.4,1467.0 2266.5,1439.8 2273.6,1406.9 2280.6,1444.2 2287.7,1481.8 2294.7,1372.8 2301.8,1362.5 2308.9,1375.9 2315.9,1380.7 2323.0,1439.5 2330.0,1427.0 2337.1,1392.0 2344.2,1473.2 2351.2,1457.3 2358.3,1496.9 2365.4,1506.1 2372.4,1424.2 2379.5,1415.1 2386.5,1362.3 2393.6,1312.0 2400.7,1345.7 2407.7,1299.3 2414.8,1318.7 2421.9,1266.1 2428.9,1326.1 2436.0,1461.6 2443.0,1480.4 2450.1,1469.9 2457.2,1343.8 2464.2,1265.9 2471.3,1369.8 2478.3,1410.8 2485.4,1416.7 2492.5,1406.9 2499.5,1496.9 2506.6,1607.4 2513.7,1502.5 2520.7,1476.7 2527.8,1468.8 2534.8,1579.7 2541.9,1501.0 2549.0,1579.9 2556.0,1539.3 2563.1,1554.3 2570.2,1471.4 2577.2,1554.1 2584.3,1460.9 2591.3,1288.7 2598.4,1264.9 2605.5,1372.1 2612.5,1420.6 2619.6,1421.4 2626.7,1431.1 2633.7,1443.3 2640.8,1431.8 2647.8,1356.7 2654.9,1406.4 2662.0,1383.3 2669.0,1412.3 2676.1,1444.3 2683.1,1502.8 2690.2,1547.5 2697.3,1629.1 2704.3,1587.4 2711.4,1571.4 2718.5,1546.5 2725.5,1449.5 2732.6,1469.3 2739.6,1439.2 2746.7,1438.3 2753.8,1505.5 2760.8,1513.4 2767.9,1307.8 2775.0,1453.1 2782.0,1467.4 2789.1,1695.7 2796.1,1550.8 2803.2,1564.0 2810.3,1592.5 2817.3,1609.1 2824.4,1609.6 2831.4,1568.1 2838.5,1490.9 2845.6,1463.4 2852.6,1543.0 2859.7,1492.2 2866.8,1419.6 2873.8,1462.7 2880.9,1449.9 2887.9,1452.9 2895.0,1371.3 2902.1,1333.3" fill="none" stroke="#898989" stroke-width="1.0" stroke-linejoin="round" clip-path="url(#cp2)"/>
<polyline points="331.5,1490.0 338.6,1593.0 345.6,1583.0 352.7,1514.6 359.7,1553.4 366.8,1499.9 373.9,1382.8 380.9,1396.0 388.0,1458.4 395.1,1452.0 402.1,1411.6 409.2,1265.8 416.2,1367.2 423.3,1339.2 430.4,1196.5 437.4,1247.1 444.5,1381.4 451.6,1323.5 458.6,1409.0 465.7,1399.4 472.7,1266.1 479.8,1286.3 486.9,1377.6 493.9,1384.8 501.0,1317.2 508.1,1338.1 515.1,1403.2 522.2,1380.8 529.2,1310.4 536.3,1392.8 543.4,1414.2 550.4,1594.7 557.5,1569.3 564.5,1413.7 571.6,1400.5 578.7,1316.2 585.7,1409.2 592.8,1439.7 599.9,1353.4 606.9,1407.0 614.0,1390.0 621.0,1390.2 628.1,1430.2 635.2,1511.3 642.2,1469.4 649.3,1502.7 656.4,1482.2 663.4,1475.1 670.5,1442.1 677.5,1482.7 684.6,1445.5 691.7,1422.3 698.7,1377.6 705.8,1439.3 712.8,1414.1 719.9,1536.6 727.0,1566.4 734.0,1529.2 741.1,1352.7 748.2,1385.3 755.2,1403.2 762.3,1407.7 769.3,1356.2 776.4,1357.6 783.5,1320.0 790.5,1394.8 797.6,1414.8 804.7,1348.6 811.7,1440.1 818.8,1593.4 825.8,1569.1 832.9,1519.8 840.0,1355.1 847.0,1415.1 854.1,1358.2 861.1,1394.6 868.2,1479.4 875.3,1491.4 882.3,1456.6 889.4,1414.4 896.5,1443.2 903.5,1495.5 910.6,1440.4 917.6,1476.8 924.7,1467.0 931.8,1459.0 938.8,1409.4 945.9,1365.8 953.0,1367.8 960.0,1447.6 967.1,1471.2 974.1,1456.4 981.2,1430.3 988.3,1446.7 995.3,1396.9 1002.4,1338.5 1009.5,1378.1 1016.5,1451.8 1023.6,1427.9 1030.6,1424.7 1037.7,1388.8 1044.8,1383.8 1051.8,1326.4 1058.9,1356.4 1065.9,1328.4 1073.0,1259.2 1080.1,1324.7 1087.1,1434.6 1094.2,1405.0 1101.3,1371.0 1108.3,1397.1 1115.4,1377.1 1122.4,1387.7 1129.5,1421.9 1136.6,1438.5 1143.6,1428.6 1150.7,1387.4 1157.8,1368.0 1164.8,1411.1 1171.9,1424.1 1178.9,1438.6 1186.0,1393.0 1193.1,1428.3 1200.1,1390.0 1207.2,1568.1 1214.2,1457.7 1221.3,1446.5 1228.4,1378.6 1235.4,1382.5 1242.5,1409.2 1249.6,1420.0 1256.6,1393.7 1263.7,1348.1 1270.7,1352.2 1277.8,1387.4 1284.9,1410.2 1291.9,1393.4 1299.0,1429.2 1306.1,1416.0 1313.1,1412.4 1320.2,1398.5 1327.2,1380.8 1334.3,1409.7 1341.4,1426.5 1348.4,1428.6 1355.5,1420.0 1362.6,1401.6 1369.6,1398.5 1376.7,1335.8 1383.7,1331.7 1390.8,1390.8 1397.9,1415.7 1404.9,1529.1 1412.0,1609.9 1419.0,1415.6 1426.1,1324.6 1433.2,1362.8 1440.2,1390.8 1447.3,1439.3 1454.4,1460.3 1461.4,1440.9 1468.5,1480.3 1475.5,1462.7 1482.6,1484.2 1489.7,1449.8 1496.7,1416.7 1503.8,1424.2 1510.9,1434.3 1517.9,1437.6 1525.0,1401.5 1532.0,1390.3 1539.1,1426.5 1546.2,1356.4 1553.2,1347.1 1560.3,1382.6 1567.4,1379.3 1574.4,1426.8 1581.5,1447.5 1588.5,1481.1 1595.6,1459.9 1602.7,1381.8 1609.7,1401.9 1616.8,1389.7 1623.8,1403.0 1630.9,1340.3 1638.0,1395.0 1645.0,1461.7 1652.1,1472.7 1659.2,1460.1 1666.2,1433.5 1673.3,1454.7 1680.3,1400.8 1687.4,1428.3 1694.5,1416.3 1701.5,1426.1 1708.6,1438.9 1715.7,1420.5 1722.7,1439.2 1729.8,1403.0 1736.8,1398.0 1743.9,1413.0 1751.0,1416.4 1758.0,1395.8 1765.1,1393.4 1772.1,1405.8 1779.2,1378.4 1786.3,1419.7 1793.3,1431.8 1800.4,1442.5 1807.5,1378.1 1814.5,1390.8 1821.6,1396.0 1828.6,1392.3 1835.7,1399.5 1842.8,1395.0 1849.8,1422.6 1856.9,1459.7 1864.0,1451.2 1871.0,1438.4 1878.1,1462.3 1885.1,1431.5 1892.2,1438.6 1899.3,1407.1 1906.3,1370.3 1913.4,1357.7 1920.5,1370.2 1927.5,1416.9 1934.6,1353.5 1941.6,1425.7 1948.7,1461.0 1955.8,1425.4 1962.8,1403.9 1969.9,1444.8 1976.9,1420.8 1984.0,1434.3 1991.1,1392.0 1998.1,1391.1 2005.2,1396.9 2012.3,1423.0 2019.3,1406.5 2026.4,1404.0 2033.4,1385.1 2040.5,1396.6 2047.6,1417.9 2054.6,1410.6 2061.7,1398.7 2068.8,1444.9 2075.8,1440.0 2082.9,1423.2 2089.9,1415.9 2097.0,1418.2 2104.1,1403.0 2111.1,1443.7 2118.2,1439.2 2125.2,1410.2 2132.3,1443.3 2139.4,1451.8 2146.4,1413.6 2153.5,1415.1 2160.6,1482.9 2167.6,1431.3 2174.7,1410.7 2181.7,1362.2 2188.8,1393.0 2195.9,1415.0 2202.9,1401.9 2210.0,1437.0 2217.1,1495.0 2224.1,1511.8 2231.2,1544.8 2238.2,1428.0 2245.3,1444.6 2252.4,1495.9 2259.4,1405.7 2266.5,1423.4 2273.6,1401.2 2280.6,1414.0 2287.7,1351.9 2294.7,1381.9 2301.8,1393.5 2308.9,1426.6 2315.9,1505.0 2323.0,1439.7 2330.0,1483.2 2337.1,1422.9 2344.2,1451.0 2351.2,1430.7 2358.3,1419.1 2365.4,1471.4 2372.4,1502.3 2379.5,1509.9 2386.5,1540.1 2393.6,1491.7 2400.7,1492.4 2407.7,1537.5 2414.8,1471.6 2421.9,1415.3 2428.9,1331.6 2436.0,1431.2 2443.0,1332.2 2450.1,1384.7 2457.2,1430.0 2464.2,1540.0 2471.3,1565.6 2478.3,1543.2 2485.4,1520.5 2492.5,1518.8 2499.5,1621.2 2506.6,1611.8 2513.7,1442.0 2520.7,1395.9 2527.8,1323.7 2534.8,1574.3 2541.9,1503.0 2549.0,1542.0 2556.0,1586.3 2563.1,1631.2 2570.2,1563.5 2577.2,1428.2 2584.3,1437.6 2591.3,1614.8 2598.4,1473.2 2605.5,1508.2 2612.5,1491.8 2619.6,1462.7 2626.7,1530.7 2633.7,1492.2 2640.8,1466.9 2647.8,1437.2 2654.9,1430.6 2662.0,1373.1 2669.0,1344.9 2676.1,1394.9 2683.1,1506.4 2690.2,1488.5 2697.3,1374.5 2704.3,1457.2 2711.4,1386.1 2718.5,1314.0 2725.5,1396.8 2732.6,1481.2 2739.6,1419.8 2746.7,1316.5 2753.8,1371.3 2760.8,1432.1 2767.9,1572.7 2775.0,1470.8 2782.0,1493.9 2789.1,1414.5 2796.1,1408.8 2803.2,1337.7 2810.3,1401.5 2817.3,1340.8 2824.4,1339.4 2831.4,1278.4 2838.5,1267.5 2845.6,1370.3 2852.6,1476.7 2859.7,1535.5 2866.8,1562.4 2873.8,1683.3 2880.9,1552.6 2887.9,1533.0 2895.0,1593.5 2902.1,1524.5" fill="none" stroke="#898989" stroke-width="1.0" stroke-linejoin="round" clip-path="url(#cp2)"/>
<polyline points="331.5,1561.7 338.6,1620.8 345.6,1577.0 352.7,1540.2 359.7,1482.3 366.8,1440.6 373.9,1542.2 380.9,1423.8 388.0,1470.5 395.1,1480.2 402.1,1518.1 409.2,1590.2 416.2,1565.0 423.3,1571.6 430.4,1571.0 437.4,1518.9 444.5,1562.7 451.6,1548.7 458.6,1454.8 465.7,1520.2 472.7,1488.7 479.8,1291.7 486.9,1236.8 493.9,1335.2 501.0,1225.9 508.1,1227.6 515.1,1329.3 522.2,1408.5 529.2,1454.0 536.3,1459.5 543.4,1475.3 550.4,1449.6 557.5,1379.5 564.5,1439.6 571.6,1484.5 578.7,1505.7 585.7,1487.5 592.8,1438.4 599.9,1388.7 606.9,1356.0 614.0,1199.8 621.0,1243.7 628.1,1351.4 635.2,1395.1 642.2,1422.1 649.3,1414.2 656.4,1448.4 663.4,1443.6 670.5,1448.7 677.5,1473.7 684.6,1467.3 691.7,1532.3 698.7,1570.9 705.8,1534.6 712.8,1435.5 719.9,1494.9 727.0,1465.9 734.0,1457.1 741.1,1436.8 748.2,1474.7 755.2,1524.1 762.3,1538.0 769.3,1529.8 776.4,1513.7 783.5,1327.9 790.5,1329.2 797.6,1352.4 804.7,1372.5 811.7,1486.4 818.8,1415.2 825.8,1456.0 832.9,1322.7 840.0,1308.7 847.0,1301.4 854.1,1300.8 861.1,1379.1 868.2,1353.2 875.3,1449.7 882.3,1422.7 889.4,1435.6 896.5,1440.3 903.5,1469.3 910.6,1463.2 917.6,1449.1 924.7,1405.2 931.8,1326.2 938.8,1441.5 945.9,1415.2 953.0,1391.6 960.0,1442.8 967.1,1497.7 974.1,1439.9 981.2,1341.7 988.3,1345.6 995.3,1351.5 1002.4,1413.3 1009.5,1411.7 1016.5,1357.6 1023.6,1361.3 1030.6,1363.5 1037.7,1355.8 1044.8,1368.6 1051.8,1328.4 1058.9,1340.2 1065.9,1391.3 1073.0,1376.7 1080.1,1422.4 1087.1,1594.4 1094.2,1390.4 1101.3,1378.4 1108.3,1374.2 1115.4,1363.5 1122.4,1448.3 1129.5,1411.3 1136.6,1393.3 1143.6,1418.5 1150.7,1459.2 1157.8,1495.1 1164.8,1434.6 1171.9,1399.9 1178.9,1386.7 1186.0,1354.0 1193.1,1380.0 1200.1,1343.2 1207.2,1374.3 1214.2,1542.9 1221.3,1454.5 1228.4,1415.7 1235.4,1340.9 1242.5,1364.9 1249.6,1418.0 1256.6,1440.9 1263.7,1429.6 1270.7,1416.5 1277.8,1453.5 1284.9,1461.7 1291.9,1446.2 1299.0,1470.6 1306.1,1395.0 1313.1,1386.2 1320.2,1351.5 1327.2,1355.9 1334.3,1363.2 1341.4,1401.6 1348.4,1480.1 1355.5,1476.2 1362.6,1473.5 1369.6,1477.1 1376.7,1436.3 1383.7,1380.9 1390.8,1387.0 1397.9,1437.4 1404.9,1418.0 1412.0,1421.4 1419.0,1469.6 1426.1,1573.5 1433.2,1483.9 1440.2,1464.1 1447.3,1461.8 1454.4,1373.2 1461.4,1390.0 1468.5,1482.3 1475.5,1430.7 1482.6,1436.5 1489.7,1426.9 1496.7,1410.0 1503.8,1373.0 1510.9,1417.8 1517.9,1421.5 1525.0,1396.7 1532.0,1440.4 1539.1,1455.1 1546.2,1387.9 1553.2,1440.2 1560.3,1420.9 1567.4,1394.8 1574.4,1413.5 1581.5,1424.0 1588.5,1398.5 1595.6,1478.3 1602.7,1431.7 1609.7,1397.9 1616.8,1395.8 1623.8,1418.3 1630.9,1432.2 1638.0,1403.7 1645.0,1417.8 1652.1,1430.5 1659.2,1447.1 1666.2,1428.9 1673.3,1408.3 1680.3,1392.4 1687.4,1373.6 1694.5,1387.9 1701.5,1393.7 1708.6,1372.7 1715.7,1424.9 1722.7,1438.3 1729.8,1416.2 1736.8,1388.0 1743.9,1393.0 1751.0,1410.1 1758.0,1398.7 1765.1,1387.7 1772.1,1393.3 1779.2,1418.7 1786.3,1423.6 1793.3,1401.0 1800.4,1382.6 1807.5,1444.8 1814.5,1395.6 1821.6,1404.2 1828.6,1375.6 1835.7,1377.0 1842.8,1379.7 1849.8,1415.6 1856.9,1412.6 1864.0,1397.2 1871.0,1368.5 1878.1,1379.0 1885.1,1390.2 1892.2,1348.3 1899.3,1335.0 1906.3,1366.6 1913.4,1394.3 1920.5,1406.4 1927.5,1484.6 1934.6,1504.2 1941.6,1431.9 1948.7,1411.8 1955.8,1394.3 1962.8,1413.2 1969.9,1501.1 1976.9,1458.7 1984.0,1491.7 1991.1,1477.0 1998.1,1432.2 2005.2,1463.4 2012.3,1421.7 2019.3,1464.2 2026.4,1410.4 2033.4,1387.0 2040.5,1376.3 2047.6,1419.2 2054.6,1384.9 2061.7,1411.2 2068.8,1501.2 2075.8,1461.8 2082.9,1463.8 2089.9,1427.9 2097.0,1447.8 2104.1,1428.3 2111.1,1443.2 2118.2,1475.8 2125.2,1465.0 2132.3,1470.6 2139.4,1470.8 2146.4,1402.0 2153.5,1393.7 2160.6,1390.7 2167.6,1303.6 2174.7,1398.4 2181.7,1401.4 2188.8,1377.7 2195.9,1415.5 2202.9,1355.4 2210.0,1368.7 2217.1,1373.8 2224.1,1466.5 2231.2,1429.7 2238.2,1400.1 2245.3,1329.9 2252.4,1284.2 2259.4,1315.9 2266.5,1402.5 2273.6,1372.8 2280.6,1281.8 2287.7,1340.5 2294.7,1351.7 2301.8,1390.6 2308.9,1411.8 2315.9,1320.2 2323.0,1331.1 2330.0,1269.1 2337.1,1349.6 2344.2,1377.4 2351.2,1397.2 2358.3,1414.9 2365.4,1471.3 2372.4,1424.8 2379.5,1458.5 2386.5,1437.3 2393.6,1405.5 2400.7,1412.2 2407.7,1520.4 2414.8,1545.0 2421.9,1597.6 2428.9,1625.0 2436.0,1449.3 2443.0,1439.8 2450.1,1504.9 2457.2,1439.7 2464.2,1317.9 2471.3,1337.3 2478.3,1445.7 2485.4,1450.4 2492.5,1450.2 2499.5,1482.5 2506.6,1445.9 2513.7,1509.7 2520.7,1441.1 2527.8,1366.0 2534.8,1364.6 2541.9,1370.9 2549.0,1339.7 2556.0,1416.0 2563.1,1516.8 2570.2,1535.9 2577.2,1535.7 2584.3,1414.7 2591.3,1616.0 2598.4,1483.2 2605.5,1439.6 2612.5,1399.5 2619.6,1420.3 2626.7,1483.4 2633.7,1525.8 2640.8,1566.8 2647.8,1581.6 2654.9,1446.3 2662.0,1478.9 2669.0,1502.5 2676.1,1463.4 2683.1,1558.1 2690.2,1394.8 2697.3,1477.2 2704.3,1385.2 2711.4,1376.1 2718.5,1342.9 2725.5,1419.5 2732.6,1463.0 2739.6,1456.0 2746.7,1491.9 2753.8,1463.0 2760.8,1376.8 2767.9,1401.5 2775.0,1583.4 2782.0,1490.5 2789.1,1431.0 2796.1,1531.3 2803.2,1431.5 2810.3,1443.3 2817.3,1435.1 2824.4,1429.3 2831.4,1411.0 2838.5,1561.9 2845.6,1531.5 2852.6,1495.5 2859.7,1480.8 2866.8,1540.3 2873.8,1513.5 2880.9,1480.7 2887.9,1520.4 2895.0,1534.3 2902.1,1469.5" fill="none" stroke="#898989" stroke-width="1.0" stroke-linejoin="round" clip-path="url(#cp2)"/>
<polyline points="331.5,1467.0 338.6,1517.0 345.6,1528.7 352.7,1512.0 359.7,1482.0 366.8,1502.0 373.9,1480.3 380.9,1462.0 388.0,1467.0 395.1,1487.0 402.1,1450.3 409.2,1440.3 416.2,1420.3 423.3,1397.0 430.4,1387.0 437.4,1395.3 444.5,1412.0 451.6,1375.3 458.6,1363.7 465.7,1380.3 472.7,1375.3 479.8,1358.7 486.9,1365.3 493.9,1372.0 501.0,1365.3 508.1,1392.0 515.1,1407.0 522.2,1417.0 529.2,1435.3 536.3,1453.7 543.4,1473.7 550.4,1480.3 557.5,1473.7 564.5,1433.7 571.6,1423.7 578.7,1420.3 585.7,1438.7 592.8,1452.0 599.9,1385.3 606.9,1377.0 614.0,1360.3 621.0,1343.7 628.1,1373.7 635.2,1437.0 642.2,1430.3 649.3,1413.7 656.4,1433.7 663.4,1415.3 670.5,1423.7 677.5,1450.3 684.6,1457.0 691.7,1450.3 698.7,1420.3 705.8,1400.3 712.8,1397.0 719.9,1480.3 727.0,1478.7 734.0,1455.3 741.1,1467.0 748.2,1478.7 755.2,1480.3 762.3,1475.3 769.3,1463.7 776.4,1425.3 783.5,1405.3 790.5,1420.3 797.6,1428.7 804.7,1440.3 811.7,1475.3 818.8,1477.0 825.8,1492.0 832.9,1478.7 840.0,1460.3 847.0,1442.0 854.1,1448.7 861.1,1445.3 868.2,1433.7 875.3,1472.0 882.3,1472.0 889.4,1447.0 896.5,1433.7 903.5,1440.3 910.6,1440.3 917.6,1428.7 924.7,1413.7 931.8,1435.3 938.8,1455.3 945.9,1425.3 953.0,1405.3 960.0,1440.3 967.1,1482.0 974.1,1462.0 981.2,1433.7 988.3,1407.0 995.3,1402.0 1002.4,1418.7 1009.5,1450.3 1016.5,1458.7 1023.6,1438.7 1030.6,1422.0 1037.7,1413.7 1044.8,1380.3 1051.8,1370.3 1058.9,1380.3 1065.9,1393.7 1073.0,1382.0 1080.1,1377.0 1087.1,1413.7 1094.2,1410.3 1101.3,1408.7 1108.3,1408.7 1115.4,1385.3 1122.4,1427.0 1129.5,1440.3 1136.6,1440.3 1143.6,1447.0 1150.7,1420.3 1157.8,1418.7 1164.8,1417.0 1171.9,1417.0 1178.9,1412.0 1186.0,1423.7 1193.1,1433.0 1200.1,1432.0 1207.2,1453.7 1214.2,1472.0 1221.3,1427.0 1228.4,1398.7 1235.4,1375.3 1242.5,1385.3 1249.6,1408.7 1256.6,1417.0 1263.7,1390.3 1270.7,1377.0 1277.8,1407.0 1284.9,1440.3 1291.9,1428.7 1299.0,1450.3 1306.1,1407.0 1313.1,1378.7 1320.2,1373.7 1327.2,1378.7 1334.3,1400.3 1341.4,1422.0 1348.4,1442.0 1355.5,1448.7 1362.6,1458.7 1369.6,1435.3 1376.7,1408.7 1383.7,1390.3 1390.8,1387.0 1397.9,1392.0 1404.9,1422.0 1412.0,1447.0 1419.0,1460.3 1426.1,1430.3 1433.2,1403.0 1440.2,1413.7 1447.3,1433.7 1454.4,1417.0 1461.4,1427.0 1468.5,1442.0 1475.5,1420.3 1482.6,1418.7 1489.7,1405.3 1496.7,1402.0 1503.8,1410.3 1510.9,1415.3 1517.9,1425.3 1525.0,1410.3 1532.0,1402.0 1539.1,1407.0 1546.2,1420.3 1553.2,1422.0 1560.3,1400.3 1567.4,1373.7 1574.4,1392.0 1581.5,1435.3 1588.5,1435.3 1595.6,1418.7 1602.7,1402.0 1609.7,1395.3 1616.8,1385.3 1623.8,1392.0 1630.9,1398.7 1638.0,1392.0 1645.0,1400.3 1652.1,1428.7 1659.2,1428.7 1666.2,1413.7 1673.3,1400.3 1680.3,1378.7 1687.4,1388.7 1694.5,1393.7 1701.5,1395.3 1708.6,1405.3 1715.7,1413.7 1722.7,1422.0 1729.8,1403.7 1736.8,1388.7 1743.9,1390.3 1751.0,1403.7 1758.0,1413.7 1765.1,1402.0 1772.1,1400.3 1779.2,1398.7 1786.3,1403.7 1793.3,1413.7 1800.4,1415.3 1807.5,1417.0 1814.5,1417.0 1821.6,1408.7 1828.6,1395.3 1835.7,1390.3 1842.8,1398.7 1849.8,1413.7 1856.9,1413.7 1864.0,1407.0 1871.0,1398.7 1878.1,1408.7 1885.1,1417.0 1892.2,1403.7 1899.3,1383.7 1906.3,1393.7 1913.4,1403.7 1920.5,1404.3 1927.5,1432.0 1934.6,1435.3 1941.6,1423.7 1948.7,1425.3 1955.8,1407.0 1962.8,1397.0 1969.9,1415.3 1976.9,1427.0 1984.0,1428.7 1991.1,1417.0 1998.1,1413.7 2005.2,1428.7 2012.3,1413.7 2019.3,1408.7 2026.4,1408.7 2033.4,1407.0 2040.5,1407.0 2047.6,1413.7 2054.6,1418.7 2061.7,1422.0 2068.8,1432.0 2075.8,1430.3 2082.9,1420.3 2089.9,1412.0 2097.0,1395.3 2104.1,1398.7 2111.1,1433.7 2118.2,1438.7 2125.2,1427.0 2132.3,1425.3 2139.4,1437.0 2146.4,1413.7 2153.5,1413.7 2160.6,1477.0 2167.6,1457.0 2174.7,1440.3 2181.7,1423.7 2188.8,1435.3 2195.9,1448.7 2202.9,1427.0 2210.0,1435.3 2217.1,1480.3 2224.1,1515.3 2231.2,1510.3 2238.2,1457.0 2245.3,1450.3 2252.4,1438.7 2259.4,1432.0 2266.5,1442.0 2273.6,1403.7 2280.6,1415.3 2287.7,1397.0 2294.7,1385.3 2301.8,1417.0 2308.9,1443.7 2315.9,1455.3 2323.0,1447.0 2330.0,1423.7 2337.1,1420.3 2344.2,1435.3 2351.2,1437.0 2358.3,1430.3 2365.4,1473.7 2372.4,1455.3 2379.5,1465.3 2386.5,1462.0 2393.6,1427.0 2400.7,1432.0 2407.7,1445.3 2414.8,1462.0 2421.9,1467.0 2428.9,1467.0 2436.0,1480.3 2443.0,1472.0 2450.1,1420.3 2457.2,1413.7 2464.2,1422.0 2471.3,1445.3 2478.3,1463.7 2485.4,1473.7 2492.5,1470.3 2499.5,1538.7 2506.6,1538.7 2513.7,1490.3 2520.7,1467.0 2527.8,1407.0 2534.8,1472.0 2541.9,1457.0 2549.0,1472.0 2556.0,1480.3 2563.1,1488.7 2570.2,1473.7 2577.2,1458.7 2584.3,1430.3 2591.3,1463.7 2598.4,1457.0 2605.5,1440.3 2612.5,1428.7 2619.6,1425.3 2626.7,1450.3 2633.7,1435.3 2640.8,1423.7 2647.8,1420.3 2654.9,1403.7 2662.0,1422.0 2669.0,1418.7 2676.1,1428.7 2683.1,1497.0 2690.2,1445.3 2697.3,1437.0 2704.3,1417.0 2711.4,1415.3 2718.5,1423.7 2725.5,1433.7 2732.6,1472.0 2739.6,1460.3 2746.7,1430.3 2753.8,1475.3 2760.8,1460.3 2767.9,1445.3 2775.0,1482.0 2782.0,1467.0 2789.1,1462.0 2796.1,1437.0 2803.2,1447.0 2810.3,1490.3 2817.3,1475.3 2824.4,1455.3 2831.4,1445.3 2838.5,1473.7 2845.6,1477.0 2852.6,1518.7 2859.7,1522.0 2866.8,1545.3 2873.8,1502.0 2880.9,1480.3 2887.9,1460.3 2895.0,1492.0 2902.1,1445.3" fill="none" stroke="#000000" stroke-width="4.5" stroke-linejoin="round" clip-path="url(#cp2)"/>
<polyline points="331.5,1533.7 338.6,1622.0 345.6,1605.3 352.7,1575.3 359.7,1577.0 366.8,1607.0 373.9,1575.3 380.9,1525.3 388.0,1567.0 395.1,1537.0 402.1,1542.0 409.2,1563.7 416.2,1507.0 423.3,1485.3 430.4,1508.7 437.4,1493.7 444.5,1515.3 451.6,1490.3 458.6,1428.7 465.7,1467.0 472.7,1475.3 479.8,1472.0 486.9,1455.3 493.9,1483.7 501.0,1467.0 508.1,1478.7 515.1,1507.0 522.2,1493.7 529.2,1532.0 536.3,1537.0 543.4,1557.0 550.4,1575.3 557.5,1547.0 564.5,1473.7 571.6,1490.3 578.7,1490.3 585.7,1482.0 592.8,1497.0 599.9,1433.7 606.9,1452.0 614.0,1450.3 621.0,1413.7 628.1,1443.7 635.2,1505.3 642.2,1475.3 649.3,1473.7 656.4,1513.7 663.4,1495.3 670.5,1473.7 677.5,1497.0 684.6,1472.0 691.7,1517.0 698.7,1520.3 705.8,1493.7 712.8,1488.7 719.9,1560.3 727.0,1540.3 734.0,1520.3 741.1,1560.3 748.2,1552.0 755.2,1552.0 762.3,1543.7 769.3,1535.3 776.4,1485.3 783.5,1482.0 790.5,1500.3 797.6,1497.0 804.7,1517.0 811.7,1567.0 818.8,1547.0 825.8,1563.7 832.9,1560.3 840.0,1562.0 847.0,1545.3 854.1,1548.7 861.1,1507.0 868.2,1498.7 875.3,1493.7 882.3,1530.3 889.4,1498.7 896.5,1465.3 903.5,1505.3 910.6,1497.0 917.6,1488.7 924.7,1453.7 931.8,1520.3 938.8,1528.7 945.9,1473.7 953.0,1472.0 960.0,1513.7 967.1,1530.3 974.1,1478.7 981.2,1473.7 988.3,1528.7 995.3,1462.0 1002.4,1497.0 1009.5,1520.3 1016.5,1538.7 1023.6,1505.3 1030.6,1462.0 1037.7,1477.0 1044.8,1437.0 1051.8,1422.0 1058.9,1433.7 1065.9,1452.0 1073.0,1458.7 1080.1,1463.7 1087.1,1517.0 1094.2,1488.7 1101.3,1467.0 1108.3,1477.0 1115.4,1425.3 1122.4,1480.3 1129.5,1470.3 1136.6,1483.7 1143.6,1477.0 1150.7,1472.0 1157.8,1465.3 1164.8,1447.0 1171.9,1458.7 1178.9,1437.0 1186.0,1470.3 1193.1,1462.0 1200.1,1502.0 1207.2,1537.0 1214.2,1523.7 1221.3,1467.0 1228.4,1450.3 1235.4,1447.0 1242.5,1432.0 1249.6,1452.0 1256.6,1457.0 1263.7,1427.0 1270.7,1407.0 1277.8,1438.7 1284.9,1468.7 1291.9,1457.0 1299.0,1488.7 1306.1,1450.3 1313.1,1420.3 1320.2,1395.3 1327.2,1397.0 1334.3,1425.3 1341.4,1447.0 1348.4,1472.0 1355.5,1468.7 1362.6,1498.7 1369.6,1473.7 1376.7,1450.3 1383.7,1427.0 1390.8,1405.3 1397.9,1440.3 1404.9,1498.7 1412.0,1548.7 1419.0,1552.0 1426.1,1517.0 1433.2,1453.7 1440.2,1450.3 1447.3,1467.0 1454.4,1460.3 1461.4,1473.7 1468.5,1487.0 1475.5,1453.7 1482.6,1457.0 1489.7,1435.3 1496.7,1417.0 1503.8,1452.0 1510.9,1443.7 1517.9,1462.0 1525.0,1435.3 1532.0,1435.3 1539.1,1435.3 1546.2,1465.3 1553.2,1463.7 1560.3,1430.3 1567.4,1390.3 1574.4,1438.7 1581.5,1447.0 1588.5,1467.0 1595.6,1467.0 1602.7,1442.0 1609.7,1417.0 1616.8,1427.0 1623.8,1443.7 1630.9,1450.3 1638.0,1430.3 1645.0,1438.7 1652.1,1453.7 1659.2,1453.7 1666.2,1433.7 1673.3,1432.0 1680.3,1397.0 1687.4,1413.7 1694.5,1413.7 1701.5,1427.0 1708.6,1442.0 1715.7,1433.7 1722.7,1440.3 1729.8,1423.7 1736.8,1405.3 1743.9,1408.7 1751.0,1422.0 1758.0,1437.0 1765.1,1422.0 1772.1,1435.3 1779.2,1425.3 1786.3,1432.0 1793.3,1437.0 1800.4,1450.3 1807.5,1462.0 1814.5,1448.7 1821.6,1437.0 1828.6,1413.7 1835.7,1410.3 1842.8,1430.3 1849.8,1442.0 1856.9,1450.3 1864.0,1438.7 1871.0,1437.0 1878.1,1443.7 1885.1,1452.0 1892.2,1445.3 1899.3,1427.0 1906.3,1427.0 1913.4,1443.7 1920.5,1442.0 1927.5,1493.7 1934.6,1505.3 1941.6,1450.3 1948.7,1458.7 1955.8,1427.0 1962.8,1423.7 1969.9,1480.3 1976.9,1472.0 1984.0,1467.0 1991.1,1458.7 1998.1,1430.3 2005.2,1450.3 2012.3,1432.0 2019.3,1460.3 2026.4,1455.3 2033.4,1435.3 2040.5,1432.0 2047.6,1427.0 2054.6,1447.0 2061.7,1462.0 2068.8,1490.3 2075.8,1467.0 2082.9,1443.7 2089.9,1423.7 2097.0,1445.3 2104.1,1433.7 2111.1,1445.3 2118.2,1463.7 2125.2,1453.7 2132.3,1463.7 2139.4,1475.3 2146.4,1433.7 2153.5,1427.0 2160.6,1530.3 2167.6,1550.3 2174.7,1478.7 2181.7,1478.7 2188.8,1478.7 2195.9,1480.3 2202.9,1482.0 2210.0,1490.3 2217.1,1577.0 2224.1,1592.0 2231.2,1575.3 2238.2,1505.3 2245.3,1520.3 2252.4,1535.3 2259.4,1498.7 2266.5,1468.7 2273.6,1417.0 2280.6,1482.0 2287.7,1460.3 2294.7,1433.7 2301.8,1473.7 2308.9,1515.3 2315.9,1548.7 2323.0,1533.7 2330.0,1503.7 2337.1,1473.7 2344.2,1492.0 2351.2,1493.7 2358.3,1467.0 2365.4,1508.7 2372.4,1488.7 2379.5,1507.0 2386.5,1527.0 2393.6,1502.0 2400.7,1492.0 2407.7,1545.3 2414.8,1560.3 2421.9,1588.7 2428.9,1610.3 2436.0,1603.7 2443.0,1587.0 2450.1,1503.7 2457.2,1493.7 2464.2,1533.7 2471.3,1527.0 2478.3,1515.3 2485.4,1515.3 2492.5,1512.0 2499.5,1588.7 2506.6,1620.3 2513.7,1575.3 2520.7,1515.3 2527.8,1465.3 2534.8,1567.0 2541.9,1515.3 2549.0,1572.0 2556.0,1552.0 2563.1,1613.7 2570.2,1565.3 2577.2,1573.7 2584.3,1537.0 2591.3,1607.0 2598.4,1572.0 2605.5,1502.0 2612.5,1507.0 2619.6,1468.7 2626.7,1522.0 2633.7,1528.7 2640.8,1515.3 2647.8,1505.3 2654.9,1442.0 2662.0,1475.3 2669.0,1470.3 2676.1,1445.3 2683.1,1532.0 2690.2,1538.7 2697.3,1547.0 2704.3,1518.7 2711.4,1492.0 2718.5,1527.0 2725.5,1470.3 2732.6,1488.7 2739.6,1525.3 2746.7,1520.3 2753.8,1583.7 2760.8,1567.0 2767.9,1547.0 2775.0,1548.7 2782.0,1582.0 2789.1,1593.7 2796.1,1542.0 2803.2,1555.3 2810.3,1573.7 2817.3,1580.3 2824.4,1552.0 2831.4,1555.3 2838.5,1590.3 2845.6,1562.0 2852.6,1592.0 2859.7,1565.3 2866.8,1620.3 2873.8,1605.3 2880.9,1570.3 2887.9,1537.0 2895.0,1578.7 2902.1,1510.3" fill="none" stroke="#0000ff" stroke-width="3.2" stroke-linejoin="round" clip-path="url(#cp2)"/>
<polyline points="331.5,1398.7 338.6,1413.7 345.6,1455.3 352.7,1455.3 359.7,1388.7 366.8,1397.0 373.9,1395.3 380.9,1397.0 388.0,1367.0 395.1,1433.7 402.1,1350.3 409.2,1323.7 416.2,1328.7 423.3,1303.7 430.4,1267.0 437.4,1302.0 444.5,1308.7 451.6,1258.7 458.6,1297.0 465.7,1295.3 472.7,1273.7 479.8,1243.7 486.9,1273.7 493.9,1258.7 501.0,1267.0 508.1,1283.7 515.1,1297.0 522.2,1337.0 529.2,1338.7 536.3,1372.0 543.4,1393.7 550.4,1387.0 557.5,1402.0 564.5,1373.7 571.6,1372.0 578.7,1350.3 585.7,1380.3 592.8,1403.7 599.9,1333.7 606.9,1307.0 614.0,1275.3 621.0,1282.0 628.1,1318.7 635.2,1375.3 642.2,1385.3 649.3,1345.3 656.4,1350.3 663.4,1333.7 670.5,1368.7 677.5,1405.3 684.6,1435.3 691.7,1383.7 698.7,1312.0 705.8,1312.0 712.8,1307.0 719.9,1397.0 727.0,1430.3 734.0,1397.0 741.1,1373.7 748.2,1405.3 755.2,1410.3 762.3,1410.3 769.3,1400.3 776.4,1350.3 783.5,1330.3 790.5,1338.7 797.6,1357.0 804.7,1363.7 811.7,1383.7 818.8,1405.3 825.8,1423.7 832.9,1400.3 840.0,1360.3 847.0,1340.3 854.1,1348.7 861.1,1382.0 868.2,1368.7 875.3,1440.3 882.3,1420.3 889.4,1400.3 896.5,1400.3 903.5,1375.3 910.6,1388.7 917.6,1377.0 924.7,1372.0 931.8,1358.7 938.8,1383.7 945.9,1367.0 953.0,1338.7 960.0,1363.7 967.1,1432.0 974.1,1443.7 981.2,1362.0 988.3,1282.0 995.3,1327.0 1002.4,1355.3 1009.5,1378.7 1016.5,1380.3 1023.6,1362.0 1030.6,1375.3 1037.7,1340.3 1044.8,1317.0 1051.8,1317.0 1058.9,1338.7 1065.9,1338.7 1073.0,1302.0 1080.1,1293.7 1087.1,1308.7 1094.2,1325.3 1101.3,1350.3 1108.3,1340.3 1115.4,1343.7 1122.4,1377.0 1129.5,1412.0 1136.6,1397.0 1143.6,1415.3 1150.7,1367.0 1157.8,1373.7 1164.8,1387.0 1171.9,1377.0 1178.9,1387.0 1186.0,1377.0 1193.1,1405.3 1200.1,1360.3 1207.2,1368.7 1214.2,1425.3 1221.3,1398.7 1228.4,1350.3 1235.4,1302.0 1242.5,1337.0 1249.6,1368.7 1256.6,1378.7 1263.7,1348.7 1270.7,1348.7 1277.8,1372.0 1284.9,1410.3 1291.9,1398.7 1299.0,1408.7 1306.1,1347.0 1313.1,1330.3 1320.2,1352.0 1327.2,1358.7 1334.3,1377.0 1341.4,1395.3 1348.4,1413.7 1355.5,1425.3 1362.6,1418.7 1369.6,1395.3 1376.7,1368.7 1383.7,1353.7 1390.8,1368.7 1397.9,1342.0 1404.9,1343.7 1412.0,1350.3 1419.0,1367.0 1426.1,1347.0 1433.2,1352.0 1440.2,1378.7 1447.3,1398.7 1454.4,1375.3 1461.4,1378.7 1468.5,1395.3 1475.5,1383.7 1482.6,1377.0 1489.7,1375.3 1496.7,1387.0 1503.8,1370.3 1510.9,1387.0 1517.9,1388.7 1525.0,1388.7 1532.0,1368.7 1539.1,1375.3 1546.2,1377.0 1553.2,1378.7 1560.3,1367.0 1567.4,1355.3 1574.4,1372.0 1581.5,1423.7 1588.5,1397.0 1595.6,1368.7 1602.7,1360.3 1609.7,1372.0 1616.8,1343.7 1623.8,1340.3 1630.9,1348.7 1638.0,1355.3 1645.0,1360.3 1652.1,1403.7 1659.2,1402.0 1666.2,1387.0 1673.3,1367.0 1680.3,1358.7 1687.4,1362.0 1694.5,1375.3 1701.5,1360.3 1708.6,1372.0 1715.7,1398.7 1722.7,1403.7 1729.8,1383.7 1736.8,1372.0 1743.9,1375.3 1751.0,1383.7 1758.0,1388.7 1765.1,1382.0 1772.1,1363.7 1779.2,1372.0 1786.3,1373.7 1793.3,1388.7 1800.4,1380.3 1807.5,1370.3 1814.5,1383.7 1821.6,1390.3 1828.6,1373.7 1835.7,1367.0 1842.8,1367.0 1849.8,1387.0 1856.9,1377.0 1864.0,1377.0 1871.0,1360.3 1878.1,1375.3 1885.1,1382.0 1892.2,1365.3 1899.3,1340.3 1906.3,1363.7 1913.4,1363.7 1920.5,1367.0 1927.5,1372.0 1934.6,1367.0 1941.6,1395.3 1948.7,1393.7 1955.8,1382.0 1962.8,1372.0 1969.9,1357.0 1976.9,1385.3 1984.0,1390.3 1991.1,1378.7 1998.1,1397.0 2005.2,1405.3 2012.3,1393.7 2019.3,1358.7 2026.4,1362.0 2033.4,1378.7 2040.5,1383.7 2047.6,1405.3 2054.6,1393.7 2061.7,1383.7 2068.8,1375.3 2075.8,1390.3 2082.9,1397.0 2089.9,1405.3 2097.0,1345.3 2104.1,1362.0 2111.1,1423.7 2118.2,1407.0 2125.2,1395.3 2132.3,1387.0 2139.4,1397.0 2146.4,1397.0 2153.5,1400.3 2160.6,1422.0 2167.6,1362.0 2174.7,1407.0 2181.7,1365.3 2188.8,1388.7 2195.9,1420.3 2202.9,1372.0 2210.0,1380.3 2217.1,1400.3 2224.1,1438.7 2231.2,1443.7 2238.2,1403.7 2245.3,1383.7 2252.4,1340.3 2259.4,1363.7 2266.5,1415.3 2273.6,1383.7 2280.6,1347.0 2287.7,1323.7 2294.7,1337.0 2301.8,1373.7 2308.9,1372.0 2315.9,1365.3 2323.0,1358.7 2330.0,1342.0 2337.1,1363.7 2344.2,1378.7 2351.2,1385.3 2358.3,1392.0 2365.4,1440.3 2372.4,1422.0 2379.5,1420.3 2386.5,1393.7 2393.6,1352.0 2400.7,1368.7 2407.7,1340.3 2414.8,1362.0 2421.9,1338.7 2428.9,1320.3 2436.0,1358.7 2443.0,1355.3 2450.1,1338.7 2457.2,1333.7 2464.2,1317.0 2471.3,1362.0 2478.3,1408.7 2485.4,1432.0 2492.5,1425.3 2499.5,1487.0 2506.6,1450.3 2513.7,1413.7 2520.7,1417.0 2527.8,1350.3 2534.8,1377.0 2541.9,1398.7 2549.0,1372.0 2556.0,1408.7 2563.1,1363.7 2570.2,1372.0 2577.2,1343.7 2584.3,1323.7 2591.3,1325.3 2598.4,1340.3 2605.5,1370.3 2612.5,1353.7 2619.6,1380.3 2626.7,1378.7 2633.7,1345.3 2640.8,1335.3 2647.8,1337.0 2654.9,1365.3 2662.0,1368.7 2669.0,1362.0 2676.1,1397.0 2683.1,1462.0 2690.2,1347.0 2697.3,1330.3 2704.3,1313.7 2711.4,1337.0 2718.5,1320.3 2725.5,1390.3 2732.6,1453.7 2739.6,1397.0 2746.7,1340.3 2753.8,1363.7 2760.8,1352.0 2767.9,1342.0 2775.0,1417.0 2782.0,1350.3 2789.1,1332.0 2796.1,1332.0 2803.2,1343.7 2810.3,1407.0 2817.3,1373.7 2824.4,1360.3 2831.4,1335.3 2838.5,1358.7 2845.6,1387.0 2852.6,1445.3 2859.7,1480.3 2866.8,1472.0 2873.8,1395.3 2880.9,1388.7 2887.9,1385.3 2895.0,1403.7 2902.1,1378.7" fill="none" stroke="#ff0000" stroke-width="3.2" stroke-linejoin="round" clip-path="url(#cp2)"/>
<polyline points="331.5,1473.7 338.6,1473.7 345.6,1525.3 352.7,1600.3 359.7,1502.0 366.8,1585.3 373.9,1585.3 380.9,1498.7 388.0,1442.0 395.1,1460.3 402.1,1463.7 409.2,1493.7 416.2,1397.0 423.3,1307.0 430.4,1240.3 437.4,1272.0 444.5,1307.0 451.6,1320.3 458.6,1317.0 465.7,1333.7 472.7,1347.0 479.8,1360.3 486.9,1327.0 493.9,1308.7 501.0,1347.0 508.1,1393.7 515.1,1427.0 522.2,1490.3 529.2,1457.0 536.3,1483.7 543.4,1417.0 550.4,1490.3 557.5,1447.0 564.5,1412.0 571.6,1442.0 578.7,1395.3 585.7,1440.3 592.8,1515.3 599.9,1447.0 606.9,1442.0 614.0,1433.7 621.0,1403.7 628.1,1433.7 635.2,1427.0 642.2,1405.3 649.3,1407.0 656.4,1567.0 663.4,1555.3 670.5,1473.7 677.5,1403.7 684.6,1462.0 691.7,1443.7 698.7,1453.7 705.8,1420.3 712.8,1420.3 719.9,1500.3 727.0,1467.0 734.0,1387.0 741.1,1340.3 748.2,1377.0 755.2,1413.7 762.3,1487.0 769.3,1505.3 776.4,1403.7 783.5,1417.0 790.5,1440.3 797.6,1453.7 804.7,1477.0 811.7,1487.0 818.8,1460.3 825.8,1440.3 832.9,1393.7 840.0,1373.7 847.0,1368.7 854.1,1550.3 861.1,1547.0 868.2,1487.0 875.3,1437.0 882.3,1413.7 889.4,1395.3 896.5,1383.7 903.5,1395.3 910.6,1470.3 917.6,1493.7 924.7,1390.3 931.8,1383.7 938.8,1362.0 945.9,1372.0 953.0,1358.7 960.0,1450.3 967.1,1548.7 974.1,1473.7 981.2,1380.3 988.3,1327.0 995.3,1335.3 1002.4,1407.0 1009.5,1370.3 1016.5,1355.3 1023.6,1367.0 1030.6,1443.7" fill="none" stroke="#ff00ff" stroke-width="3.2" stroke-linejoin="round" clip-path="url(#cp2)"/>
<polyline points="331.5,1994.4 338.6,2009.6 345.6,1976.0 352.7,1986.5 359.7,2022.2 366.8,2048.0 373.9,2060.3 380.9,2039.2 388.0,1993.0 395.1,1994.0 402.1,2000.6 409.2,1997.9 416.2,1970.5 423.3,1966.3 430.4,1932.2 437.4,2022.8 444.5,2011.8 451.6,2032.4 458.6,2024.2 465.7,2019.3 472.7,2011.7 479.8,1989.1 486.9,1972.6 493.9,1991.2 501.0,1967.7 508.1,1941.8 515.1,1938.7 522.2,1952.9 529.2,1979.6 536.3,1993.5 543.4,1993.1 550.4,2003.0 557.5,2056.7 564.5,2025.1 571.6,2001.6 578.7,1976.0 585.7,1987.0 592.8,1971.8 599.9,1989.4 606.9,2003.1 614.0,1966.3 621.0,2048.4 628.1,2063.3 635.2,2004.1 642.2,2004.5 649.3,2011.2 656.4,2010.0 663.4,2026.2 670.5,2057.3 677.5,1992.4 684.6,2005.0 691.7,1996.7 698.7,2012.2 705.8,1991.4 712.8,1943.2 719.9,1917.3 727.0,1940.6 734.0,1973.2 741.1,1968.9 748.2,1978.6 755.2,1992.1 762.3,2004.8 769.3,2010.9 776.4,2004.0 783.5,1964.9 790.5,1977.7 797.6,1936.1 804.7,1973.7 811.7,1982.5 818.8,1983.0 825.8,1945.6 832.9,1943.2 840.0,1954.8 847.0,1962.1 854.1,1959.0 861.1,1971.2 868.2,1961.8 875.3,1968.6 882.3,1967.4 889.4,1978.8 896.5,1949.4 903.5,1927.8 910.6,1962.0 917.6,1943.6 924.7,1923.7 931.8,1938.5 938.8,1941.9 945.9,1955.0 953.0,1938.7 960.0,1934.5 967.1,1952.4 974.1,1963.5 981.2,1964.1 988.3,1979.8 995.3,1945.6 1002.4,1927.9 1009.5,1935.7 1016.5,1947.9 1023.6,1934.9 1030.6,1934.2 1037.7,1965.0 1044.8,1967.0 1051.8,1953.5 1058.9,1955.1 1065.9,1924.2 1073.0,1908.3 1080.1,1904.3 1087.1,1892.4 1094.2,1855.6 1101.3,1899.1 1108.3,1898.0 1115.4,1894.0 1122.4,1906.3 1129.5,1915.6 1136.6,1916.8 1143.6,1924.3 1150.7,1918.4 1157.8,1909.3 1164.8,1890.2 1171.9,1892.5 1178.9,1892.9 1186.0,1877.4 1193.1,1922.6 1200.1,1912.5 1207.2,1914.4 1214.2,1908.7 1221.3,1909.6 1228.4,1918.7 1235.4,1901.6 1242.5,1897.8 1249.6,1892.3 1256.6,1878.1 1263.7,1900.3 1270.7,1913.0 1277.8,1940.4 1284.9,1893.0 1291.9,1927.9 1299.0,1919.9 1306.1,1933.9 1313.1,1910.6 1320.2,1899.7 1327.2,1895.9 1334.3,1903.9 1341.4,1910.2 1348.4,1899.6 1355.5,1890.4 1362.6,1902.0 1369.6,1883.3 1376.7,1875.6 1383.7,1900.3 1390.8,1876.8 1397.9,1858.8 1404.9,1885.3 1412.0,1872.3 1419.0,1892.0 1426.1,1897.5 1433.2,1887.6 1440.2,1846.5 1447.3,1808.6 1454.4,1839.4 1461.4,1843.7 1468.5,1824.0 1475.5,1825.8 1482.6,1840.2 1489.7,1868.1 1496.7,1866.3 1503.8,1861.3 1510.9,1859.3 1517.9,1865.8 1525.0,1873.7 1532.0,1863.7 1539.1,1864.5 1546.2,1867.5 1553.2,1871.8 1560.3,1858.9 1567.4,1851.7 1574.4,1842.8 1581.5,1864.9 1588.5,1844.7 1595.6,1843.3 1602.7,1853.4 1609.7,1846.0 1616.8,1873.4 1623.8,1866.0 1630.9,1833.8 1638.0,1860.9 1645.0,1833.0 1652.1,1833.9 1659.2,1849.7 1666.2,1846.0 1673.3,1848.7 1680.3,1857.5 1687.4,1862.0 1694.5,1868.8 1701.5,1869.9 1708.6,1841.8 1715.7,1851.3 1722.7,1819.4 1729.8,1827.0 1736.8,1832.6 1743.9,1801.7 1751.0,1813.3 1758.0,1807.7 1765.1,1836.3 1772.1,1825.8 1779.2,1815.7 1786.3,1759.9 1793.3,1795.4 1800.4,1840.2 1807.5,1843.1 1814.5,1850.2 1821.6,1851.5 1828.6,1833.4 1835.7,1819.5 1842.8,1841.1 1849.8,1832.2 1856.9,1823.2 1864.0,1807.9 1871.0,1821.2 1878.1,1835.5 1885.1,1808.8 1892.2,1820.4 1899.3,1816.5 1906.3,1802.6 1913.4,1811.4 1920.5,1795.9 1927.5,1792.6 1934.6,1801.2 1941.6,1788.1 1948.7,1803.4 1955.8,1825.4 1962.8,1818.5 1969.9,1822.8 1976.9,1812.3 1984.0,1816.8 1991.1,1802.8 1998.1,1804.5 2005.2,1816.0 2012.3,1830.4 2019.3,1818.3 2026.4,1802.9 2033.4,1810.8 2040.5,1832.5 2047.6,1833.2 2054.6,1821.9 2061.7,1828.6 2068.8,1837.2 2075.8,1844.3 2082.9,1859.4 2089.9,1861.8 2097.0,1846.2 2104.1,1832.4 2111.1,1848.3 2118.2,1841.8 2125.2,1844.6 2132.3,1849.9 2139.4,1855.6 2146.4,1874.9 2153.5,1864.9 2160.6,1842.2 2167.6,1873.8 2174.7,1869.3 2181.7,1877.4 2188.8,1870.9 2195.9,1845.6 2202.9,1854.6 2210.0,1849.0 2217.1,1857.4 2224.1,1853.6 2231.2,1865.4 2238.2,1883.0 2245.3,1904.7 2252.4,1879.5 2259.4,1880.2 2266.5,1840.9 2273.6,1873.9 2280.6,1904.6 2287.7,1876.0 2294.7,1857.6 2301.8,1848.2 2308.9,1848.1 2315.9,1866.9 2323.0,1880.2 2330.0,1898.7 2337.1,1883.7 2344.2,1898.9 2351.2,1905.5 2358.3,1902.6 2365.4,1902.4 2372.4,1869.2 2379.5,1863.6 2386.5,1863.0 2393.6,1892.1 2400.7,1900.7 2407.7,1903.5 2414.8,1920.5 2421.9,1917.6 2428.9,1940.5 2436.0,1927.3 2443.0,1885.6 2450.1,1905.2 2457.2,1947.6 2464.2,1927.4 2471.3,1954.3 2478.3,1969.2 2485.4,1945.7 2492.5,1941.3 2499.5,1920.0 2506.6,1928.8 2513.7,1943.8 2520.7,1917.7 2527.8,1919.8 2534.8,1911.4 2541.9,1914.1 2549.0,1928.6 2556.0,1930.1 2563.1,1936.8 2570.2,1955.7 2577.2,1987.7 2584.3,1996.1 2591.3,1966.3 2598.4,1974.6 2605.5,1985.4 2612.5,1977.3 2619.6,1960.6 2626.7,1931.6 2633.7,1945.1 2640.8,1935.0 2647.8,1955.7 2654.9,1954.5 2662.0,1955.0 2669.0,1930.9 2676.1,1954.3 2683.1,2056.9 2690.2,1895.4 2697.3,1919.6 2704.3,1973.6 2711.4,1968.9 2718.5,1979.1 2725.5,1888.7 2732.6,1923.6 2739.6,1955.5 2746.7,1980.6 2753.8,1990.3 2760.8,1984.6 2767.9,2000.9 2775.0,1978.2 2782.0,1987.6 2789.1,1980.8 2796.1,2042.0 2803.2,1995.4 2810.3,2040.1 2817.3,2079.8 2824.4,2034.8 2831.4,2097.7 2838.5,1953.8 2845.6,1963.5 2852.6,1913.7 2859.7,1959.1 2866.8,1956.9 2873.8,1947.0 2880.9,1966.2 2887.9,1999.5 2895.0,1992.9 2902.1,2000.0" fill="none" stroke="#898989" stroke-width="1.0" stroke-linejoin="round" clip-path="url(#cp3)"/>
<polyline points="331.5,2010.1 338.6,2006.0 345.6,2050.4 352.7,2083.6 359.7,2045.0 366.8,1961.4 373.9,1949.3 380.9,1969.0 388.0,1967.1 395.1,1934.8 402.1,1912.9 409.2,1942.3 416.2,1948.0 423.3,1964.6 430.4,1954.5 437.4,1971.6 444.5,1977.1 451.6,1977.9 458.6,1970.0 465.7,1969.7 472.7,1999.9 479.8,2003.3 486.9,2024.7 493.9,2026.8 501.0,2002.7 508.1,2016.8 515.1,1972.6 522.2,1972.5 529.2,1934.8 536.3,1937.7 543.4,1934.7 550.4,1980.8 557.5,1979.3 564.5,1973.2 571.6,1995.2 578.7,1968.4 585.7,1937.3 592.8,1972.6 599.9,2029.4 606.9,2033.8 614.0,2062.4 621.0,1988.3 628.1,1973.6 635.2,2014.1 642.2,2016.6 649.3,2008.9 656.4,2001.4 663.4,1965.0 670.5,1957.6 677.5,1943.5 684.6,1981.1 691.7,1954.1 698.7,1943.7 705.8,1955.5 712.8,2006.9 719.9,2006.5 727.0,2033.2 734.0,2012.0 741.1,1957.3 748.2,1968.9 755.2,1972.3 762.3,1933.1 769.3,1939.3 776.4,1943.2 783.5,1972.1 790.5,1949.7 797.6,1975.9 804.7,1988.2 811.7,1984.3 818.8,1997.1 825.8,2013.9 832.9,2006.2 840.0,1982.0 847.0,1965.2 854.1,1966.4 861.1,1967.4 868.2,1955.1 875.3,1963.9 882.3,1948.9 889.4,1949.9 896.5,1925.1 903.5,1929.0 910.6,1940.8 917.6,1977.9 924.7,1947.9 931.8,1933.2 938.8,1937.2 945.9,1972.5 953.0,1986.9 960.0,1961.4 967.1,1965.8 974.1,1983.0 981.2,1981.1 988.3,1966.2 995.3,1971.0 1002.4,1968.1 1009.5,1970.6 1016.5,1977.0 1023.6,1963.9 1030.6,1985.9 1037.7,1965.5 1044.8,1964.5 1051.8,1969.3 1058.9,1951.8 1065.9,1957.1 1073.0,1948.3 1080.1,1945.7 1087.1,1931.2 1094.2,1944.4 1101.3,1943.5 1108.3,1928.3 1115.4,1934.4 1122.4,1924.3 1129.5,1904.6 1136.6,1892.9 1143.6,1887.1 1150.7,1882.6 1157.8,1898.2 1164.8,1860.2 1171.9,1881.6 1178.9,1886.3 1186.0,1914.5 1193.1,1926.8 1200.1,1946.0 1207.2,1917.2 1214.2,1934.1 1221.3,1911.9 1228.4,1902.1 1235.4,1895.3 1242.5,1893.6 1249.6,1852.3 1256.6,1859.2 1263.7,1887.4 1270.7,1872.9 1277.8,1800.1 1284.9,1808.9 1291.9,1830.9 1299.0,1854.5 1306.1,1891.6 1313.1,1871.2 1320.2,1865.8 1327.2,1878.2 1334.3,1878.1 1341.4,1898.3 1348.4,1922.2 1355.5,1932.6 1362.6,1914.8 1369.6,1879.1 1376.7,1876.7 1383.7,1841.9 1390.8,1863.1 1397.9,1845.8 1404.9,1827.1 1412.0,1836.0 1419.0,1849.9 1426.1,1884.5 1433.2,1891.2 1440.2,1880.6 1447.3,1858.8 1454.4,1866.3 1461.4,1881.2 1468.5,1874.4 1475.5,1866.9 1482.6,1853.4 1489.7,1865.2 1496.7,1858.9 1503.8,1850.8 1510.9,1845.4 1517.9,1835.0 1525.0,1835.8 1532.0,1809.8 1539.1,1819.2 1546.2,1797.0 1553.2,1809.8 1560.3,1803.9 1567.4,1779.6 1574.4,1749.5 1581.5,1786.8 1588.5,1786.8 1595.6,1812.9 1602.7,1824.9 1609.7,1838.6 1616.8,1825.8 1623.8,1807.0 1630.9,1801.1 1638.0,1800.1 1645.0,1821.0 1652.1,1836.4 1659.2,1830.9 1666.2,1850.5 1673.3,1845.3 1680.3,1849.3 1687.4,1843.9 1694.5,1836.5 1701.5,1835.2 1708.6,1838.1 1715.7,1834.2 1722.7,1815.7 1729.8,1833.7 1736.8,1810.3 1743.9,1811.5 1751.0,1835.7 1758.0,1838.9 1765.1,1848.2 1772.1,1840.7 1779.2,1844.1 1786.3,1839.6 1793.3,1850.1 1800.4,1772.4 1807.5,1771.6 1814.5,1789.2 1821.6,1795.0 1828.6,1808.1 1835.7,1813.8 1842.8,1816.6 1849.8,1812.7 1856.9,1822.6 1864.0,1820.1 1871.0,1813.0 1878.1,1825.4 1885.1,1790.8 1892.2,1798.6 1899.3,1797.3 1906.3,1793.7 1913.4,1822.6 1920.5,1825.1 1927.5,1816.0 1934.6,1815.2 1941.6,1791.2 1948.7,1822.9 1955.8,1826.0 1962.8,1833.6 1969.9,1833.7 1976.9,1819.4 1984.0,1805.0 1991.1,1812.2 1998.1,1800.2 2005.2,1796.5 2012.3,1779.8 2019.3,1815.8 2026.4,1805.4 2033.4,1820.7 2040.5,1829.0 2047.6,1805.4 2054.6,1805.5 2061.7,1829.6 2068.8,1827.6 2075.8,1830.7 2082.9,1842.7 2089.9,1832.5 2097.0,1843.4 2104.1,1870.3 2111.1,1853.8 2118.2,1845.9 2125.2,1846.9 2132.3,1846.3 2139.4,1851.8 2146.4,1863.7 2153.5,1859.7 2160.6,1865.7 2167.6,1860.9 2174.7,1846.2 2181.7,1847.1 2188.8,1849.6 2195.9,1851.7 2202.9,1864.9 2210.0,1861.7 2217.1,1863.2 2224.1,1856.9 2231.2,1838.8 2238.2,1854.1 2245.3,1855.2 2252.4,1870.9 2259.4,1883.9 2266.5,1893.4 2273.6,1887.1 2280.6,1897.1 2287.7,1891.6 2294.7,1869.6 2301.8,1860.7 2308.9,1864.8 2315.9,1850.8 2323.0,1882.4 2330.0,1893.7 2337.1,1905.6 2344.2,1913.7 2351.2,1886.5 2358.3,1858.3 2365.4,1872.5 2372.4,1884.5 2379.5,1914.2 2386.5,1919.5 2393.6,1914.3 2400.7,1932.2 2407.7,1927.1 2414.8,1921.6 2421.9,1925.2 2428.9,1926.8 2436.0,1939.3 2443.0,1921.3 2450.1,1945.6 2457.2,1962.5 2464.2,1929.6 2471.3,1920.0 2478.3,1906.2 2485.4,1935.6 2492.5,1901.6 2499.5,1925.5 2506.6,1912.7 2513.7,1915.8 2520.7,1916.7 2527.8,1943.6 2534.8,1937.8 2541.9,1962.4 2549.0,1964.5 2556.0,1974.2 2563.1,1960.7 2570.2,1950.7 2577.2,1970.2 2584.3,1973.5 2591.3,1942.8 2598.4,1970.0 2605.5,1980.0 2612.5,2001.3 2619.6,1991.9 2626.7,1961.0 2633.7,1977.3 2640.8,1968.6 2647.8,1949.9 2654.9,1935.6 2662.0,1989.6 2669.0,1998.1 2676.1,2001.6 2683.1,1984.2 2690.2,2006.3 2697.3,1998.1 2704.3,2003.8 2711.4,2046.3 2718.5,2045.8 2725.5,2019.5 2732.6,1944.2 2739.6,1982.7 2746.7,1945.1 2753.8,1963.7 2760.8,1981.7 2767.9,1997.0 2775.0,2016.5 2782.0,1992.6 2789.1,1997.2 2796.1,2019.1 2803.2,2011.7 2810.3,2027.3 2817.3,2046.2 2824.4,2044.0 2831.4,2018.2 2838.5,1990.5 2845.6,1963.7 2852.6,2012.4 2859.7,1951.3 2866.8,1913.9 2873.8,1948.5 2880.9,1915.4 2887.9,1936.6 2895.0,1994.0 2902.1,2027.2" fill="none" stroke="#898989" stroke-width="1.0" stroke-linejoin="round" clip-path="url(#cp3)"/>
<polyline points="331.5,1973.7 338.6,1974.0 345.6,1992.0 352.7,2048.5 359.7,1913.9 366.8,2001.7 373.9,2014.3 380.9,1976.7 388.0,1957.9 395.1,1927.7 402.1,1966.1 409.2,1961.2 416.2,2041.1 423.3,1970.8 430.4,1999.4 437.4,1930.4 444.5,1955.8 451.6,1964.5 458.6,1961.2 465.7,1961.2 472.7,1965.2 479.8,1987.6 486.9,1968.3 493.9,1950.9 501.0,1994.2 508.1,1983.3 515.1,2005.8 522.2,2009.9 529.2,1985.8 536.3,2017.6 543.4,2016.9 550.4,2025.9 557.5,2072.8 564.5,2100.7 571.6,2065.5 578.7,2043.9 585.7,2055.3 592.8,2060.6 599.9,2003.5 606.9,2033.9 614.0,2080.5 621.0,2075.8 628.1,2067.6 635.2,2044.1 642.2,2025.5 649.3,2011.2 656.4,1993.1 663.4,1995.0 670.5,1994.4 677.5,1953.5 684.6,1959.8 691.7,1992.8 698.7,1967.3 705.8,1928.5 712.8,1975.7 719.9,2016.6 727.0,1992.7 734.0,1960.2 741.1,1994.0 748.2,1988.8 755.2,2000.4 762.3,1976.6 769.3,1957.7 776.4,1977.9 783.5,1975.4 790.5,1915.7 797.6,1959.4 804.7,1949.2 811.7,1970.6 818.8,1981.0 825.8,1989.5 832.9,1983.9 840.0,1994.6 847.0,1961.9 854.1,1964.0 861.1,1979.4 868.2,1985.7 875.3,1980.8 882.3,1987.3 889.4,1970.0 896.5,1978.9 903.5,2002.3 910.6,1951.0 917.6,1960.0 924.7,1996.7 931.8,1981.4 938.8,1971.6 945.9,1966.1 953.0,1965.0 960.0,1931.3 967.1,1913.6 974.1,1923.9 981.2,1962.9 988.3,1972.4 995.3,1962.0 1002.4,1940.7 1009.5,1931.7 1016.5,1934.1 1023.6,1929.3 1030.6,1935.8 1037.7,1957.7 1044.8,1959.6 1051.8,1922.9 1058.9,1912.3 1065.9,1901.7 1073.0,1898.5 1080.1,1893.1 1087.1,1874.0 1094.2,1882.6 1101.3,1901.1 1108.3,1904.9 1115.4,1902.8 1122.4,1903.6 1129.5,1904.5 1136.6,1892.3 1143.6,1915.0 1150.7,1921.7 1157.8,1924.3 1164.8,1934.5 1171.9,1903.1 1178.9,1914.5 1186.0,1896.4 1193.1,1887.8 1200.1,1887.3 1207.2,1890.8 1214.2,1913.0 1221.3,1935.4 1228.4,1919.7 1235.4,1885.4 1242.5,1849.2 1249.6,1872.6 1256.6,1873.7 1263.7,1876.0 1270.7,1860.2 1277.8,1852.5 1284.9,1912.5 1291.9,1876.6 1299.0,1862.8 1306.1,1888.5 1313.1,1891.5 1320.2,1877.2 1327.2,1894.1 1334.3,1900.6 1341.4,1881.4 1348.4,1864.1 1355.5,1889.0 1362.6,1898.6 1369.6,1887.0 1376.7,1888.8 1383.7,1903.0 1390.8,1902.3 1397.9,1893.6 1404.9,1881.9 1412.0,1875.0 1419.0,1888.0 1426.1,1854.1 1433.2,1881.9 1440.2,1877.5 1447.3,1862.7 1454.4,1872.9 1461.4,1851.9 1468.5,1846.4 1475.5,1835.5 1482.6,1853.6 1489.7,1867.7 1496.7,1867.7 1503.8,1876.2 1510.9,1887.3 1517.9,1876.5 1525.0,1860.4 1532.0,1838.1 1539.1,1835.7 1546.2,1838.1 1553.2,1840.4 1560.3,1846.7 1567.4,1837.1 1574.4,1829.0 1581.5,1837.8 1588.5,1761.0 1595.6,1795.5 1602.7,1808.6 1609.7,1838.2 1616.8,1848.4 1623.8,1828.5 1630.9,1838.6 1638.0,1813.9 1645.0,1830.3 1652.1,1808.4 1659.2,1791.7 1666.2,1786.6 1673.3,1787.7 1680.3,1826.6 1687.4,1823.0 1694.5,1830.0 1701.5,1808.0 1708.6,1803.8 1715.7,1815.8 1722.7,1790.8 1729.8,1801.3 1736.8,1802.1 1743.9,1804.9 1751.0,1787.2 1758.0,1793.6 1765.1,1848.8 1772.1,1845.7 1779.2,1858.5 1786.3,1856.5 1793.3,1857.6 1800.4,1825.6 1807.5,1809.1 1814.5,1777.1 1821.6,1790.2 1828.6,1807.8 1835.7,1796.2 1842.8,1783.7 1849.8,1777.7 1856.9,1774.1 1864.0,1788.4 1871.0,1787.8 1878.1,1804.7 1885.1,1795.6 1892.2,1838.0 1899.3,1831.4 1906.3,1831.3 1913.4,1833.9 1920.5,1839.4 1927.5,1819.3 1934.6,1822.3 1941.6,1812.6 1948.7,1813.9 1955.8,1842.0 1962.8,1836.0 1969.9,1834.8 1976.9,1816.0 1984.0,1801.5 1991.1,1811.7 1998.1,1815.8 2005.2,1831.0 2012.3,1818.7 2019.3,1806.2 2026.4,1833.6 2033.4,1817.3 2040.5,1791.5 2047.6,1810.8 2054.6,1818.8 2061.7,1828.5 2068.8,1841.0 2075.8,1830.6 2082.9,1825.9 2089.9,1822.2 2097.0,1828.1 2104.1,1851.2 2111.1,1859.6 2118.2,1841.5 2125.2,1837.5 2132.3,1848.3 2139.4,1860.6 2146.4,1864.6 2153.5,1880.4 2160.6,1871.7 2167.6,1870.4 2174.7,1860.4 2181.7,1851.2 2188.8,1862.4 2195.9,1861.6 2202.9,1892.3 2210.0,1876.6 2217.1,1868.1 2224.1,1848.8 2231.2,1864.4 2238.2,1872.4 2245.3,1915.4 2252.4,1895.8 2259.4,1884.1 2266.5,1877.9 2273.6,1917.9 2280.6,1914.5 2287.7,1902.2 2294.7,1899.2 2301.8,1919.7 2308.9,1927.8 2315.9,1906.4 2323.0,1941.1 2330.0,1905.2 2337.1,1914.8 2344.2,1915.6 2351.2,1914.1 2358.3,1912.0 2365.4,1865.2 2372.4,1872.3 2379.5,1878.7 2386.5,1890.8 2393.6,1896.0 2400.7,1899.3 2407.7,1919.1 2414.8,1906.4 2421.9,1905.0 2428.9,1937.0 2436.0,1915.9 2443.0,1891.5 2450.1,1915.1 2457.2,1924.6 2464.2,1911.5 2471.3,1917.7 2478.3,1910.6 2485.4,1970.2 2492.5,1986.6 2499.5,1983.2 2506.6,1961.0 2513.7,2006.5 2520.7,2020.5 2527.8,2018.5 2534.8,1997.9 2541.9,2012.2 2549.0,1989.0 2556.0,1994.2 2563.1,2005.3 2570.2,2001.5 2577.2,1989.5 2584.3,1993.4 2591.3,1978.2 2598.4,1997.7 2605.5,2020.6 2612.5,1989.9 2619.6,1965.0 2626.7,1949.2 2633.7,1957.8 2640.8,1949.4 2647.8,1929.3 2654.9,1971.7 2662.0,1998.5 2669.0,1980.1 2676.1,1908.2 2683.1,1906.2 2690.2,1988.5 2697.3,1989.6 2704.3,1916.7 2711.4,1900.8 2718.5,1924.8 2725.5,1977.9 2732.6,2017.5 2739.6,1967.5 2746.7,2001.5 2753.8,2003.3 2760.8,1984.2 2767.9,1979.0 2775.0,1948.1 2782.0,1951.9 2789.1,1962.6 2796.1,1954.8 2803.2,1966.9 2810.3,1962.8 2817.3,1931.1 2824.4,1995.5 2831.4,2091.9 2838.5,2039.6 2845.6,2005.5 2852.6,2008.2 2859.7,1959.0 2866.8,2047.4 2873.8,2068.8 2880.9,2065.8 2887.9,2031.0 2895.0,1972.2 2902.1,1923.5" fill="none" stroke="#898989" stroke-width="1.0" stroke-linejoin="round" clip-path="url(#cp3)"/>
<polyline points="331.5,1976.7 338.6,1977.9 345.6,1961.0 352.7,1979.5 359.7,2029.4 366.8,1945.9 373.9,1941.3 380.9,1935.0 388.0,1954.3 395.1,1914.3 402.1,1917.9 409.2,1900.2 416.2,1923.1 423.3,1908.0 430.4,1921.6 437.4,1963.2 444.5,2001.5 451.6,1977.7 458.6,1988.3 465.7,1987.8 472.7,1977.3 479.8,1989.7 486.9,1999.4 493.9,1980.5 501.0,2032.7 508.1,2013.7 515.1,2010.5 522.2,1952.0 529.2,1899.4 536.3,1947.4 543.4,1952.0 550.4,1981.5 557.5,1987.1 564.5,1997.8 571.6,1935.7 578.7,1935.1 585.7,1953.6 592.8,1978.7 599.9,1996.2 606.9,2007.8 614.0,1975.6 621.0,1984.3 628.1,1998.9 635.2,1954.8 642.2,1988.9 649.3,1982.6 656.4,1966.0 663.4,1938.4 670.5,1989.3 677.5,2044.0 684.6,1975.2 691.7,1956.1 698.7,1978.6 705.8,2012.9 712.8,2022.5 719.9,1979.4 727.0,1980.0 734.0,1976.9 741.1,1962.3 748.2,1956.4 755.2,1956.0 762.3,2005.5 769.3,1984.1 776.4,1962.0 783.5,1974.2 790.5,1959.4 797.6,1971.1 804.7,1984.1 811.7,1979.8 818.8,1980.6 825.8,1988.8 832.9,1988.0 840.0,1965.6 847.0,2024.0 854.1,1995.5 861.1,1959.5 868.2,1968.7 875.3,1974.7 882.3,1988.0 889.4,1970.2 896.5,1979.2 903.5,1988.3 910.6,1985.6 917.6,1989.5 924.7,1988.3 931.8,1989.4 938.8,1978.3 945.9,1990.4 953.0,1985.3 960.0,1990.6 967.1,1959.3 974.1,1954.0 981.2,1966.6 988.3,1931.3 995.3,1927.7 1002.4,1947.9 1009.5,1972.6 1016.5,1974.2 1023.6,1957.9 1030.6,1949.3 1037.7,1968.3 1044.8,1957.5 1051.8,1958.7 1058.9,1941.0 1065.9,1955.5 1073.0,1934.3 1080.1,1914.5 1087.1,1907.5 1094.2,1903.4 1101.3,1911.8 1108.3,1902.8 1115.4,1914.7 1122.4,1911.1 1129.5,1916.2 1136.6,1924.2 1143.6,1910.2 1150.7,1907.0 1157.8,1927.8 1164.8,1936.5 1171.9,1907.8 1178.9,1903.6 1186.0,1916.6 1193.1,1884.8 1200.1,1883.5 1207.2,1898.0 1214.2,1912.9 1221.3,1922.4 1228.4,1931.0 1235.4,1900.1 1242.5,1900.5 1249.6,1924.2 1256.6,1893.2 1263.7,1857.0 1270.7,1903.3 1277.8,1907.4 1284.9,1926.0 1291.9,1877.4 1299.0,1878.7 1306.1,1912.0 1313.1,1873.5 1320.2,1853.0 1327.2,1860.8 1334.3,1861.0 1341.4,1864.0 1348.4,1875.6 1355.5,1880.6 1362.6,1900.9 1369.6,1904.8 1376.7,1885.2 1383.7,1872.8 1390.8,1872.3 1397.9,1882.6 1404.9,1875.9 1412.0,1861.6 1419.0,1878.0 1426.1,1856.6 1433.2,1869.6 1440.2,1853.9 1447.3,1837.7 1454.4,1841.9 1461.4,1834.6 1468.5,1858.7 1475.5,1894.8 1482.6,1900.3 1489.7,1871.3 1496.7,1868.1 1503.8,1869.9 1510.9,1857.3 1517.9,1871.6 1525.0,1848.3 1532.0,1840.2 1539.1,1834.7 1546.2,1857.0 1553.2,1854.4 1560.3,1844.9 1567.4,1804.1 1574.4,1770.7 1581.5,1752.2 1588.5,1866.8 1595.6,1762.0 1602.7,1845.9 1609.7,1852.9 1616.8,1821.3 1623.8,1836.8 1630.9,1817.4 1638.0,1793.3 1645.0,1797.5 1652.1,1789.1 1659.2,1796.0 1666.2,1806.6 1673.3,1818.8 1680.3,1833.7 1687.4,1824.8 1694.5,1821.8 1701.5,1793.4 1708.6,1798.8 1715.7,1778.9 1722.7,1787.6 1729.8,1792.0 1736.8,1810.5 1743.9,1830.7 1751.0,1841.5 1758.0,1844.4 1765.1,1828.8 1772.1,1834.4 1779.2,1831.9 1786.3,1815.4 1793.3,1773.6 1800.4,1809.3 1807.5,1784.9 1814.5,1792.2 1821.6,1805.0 1828.6,1815.9 1835.7,1823.9 1842.8,1840.7 1849.8,1842.6 1856.9,1819.7 1864.0,1827.5 1871.0,1811.8 1878.1,1825.6 1885.1,1826.7 1892.2,1784.4 1899.3,1803.5 1906.3,1812.3 1913.4,1791.1 1920.5,1798.6 1927.5,1826.2 1934.6,1839.9 1941.6,1837.3 1948.7,1837.5 1955.8,1830.3 1962.8,1845.6 1969.9,1838.9 1976.9,1841.7 1984.0,1839.9 1991.1,1854.5 1998.1,1866.8 2005.2,1876.3 2012.3,1845.1 2019.3,1865.0 2026.4,1851.4 2033.4,1852.8 2040.5,1846.1 2047.6,1803.6 2054.6,1825.5 2061.7,1836.9 2068.8,1832.1 2075.8,1830.2 2082.9,1827.2 2089.9,1808.1 2097.0,1856.1 2104.1,1849.9 2111.1,1852.7 2118.2,1851.8 2125.2,1862.0 2132.3,1858.5 2139.4,1866.6 2146.4,1898.1 2153.5,1898.5 2160.6,1912.5 2167.6,1889.7 2174.7,1879.1 2181.7,1873.5 2188.8,1850.9 2195.9,1849.4 2202.9,1857.7 2210.0,1877.6 2217.1,1870.5 2224.1,1882.8 2231.2,1872.5 2238.2,1887.4 2245.3,1871.9 2252.4,1862.2 2259.4,1848.3 2266.5,1862.1 2273.6,1864.6 2280.6,1900.0 2287.7,1901.0 2294.7,1913.4 2301.8,1904.4 2308.9,1902.9 2315.9,1893.4 2323.0,1893.2 2330.0,1906.0 2337.1,1896.7 2344.2,1885.0 2351.2,1915.1 2358.3,1902.6 2365.4,1934.9 2372.4,1937.8 2379.5,1961.0 2386.5,1940.5 2393.6,1942.4 2400.7,1955.2 2407.7,1980.6 2414.8,1980.1 2421.9,1961.3 2428.9,1920.0 2436.0,1917.1 2443.0,1924.2 2450.1,1928.5 2457.2,1921.3 2464.2,1923.5 2471.3,1912.5 2478.3,1939.6 2485.4,1907.0 2492.5,1913.6 2499.5,1945.0 2506.6,1888.7 2513.7,1913.4 2520.7,1914.3 2527.8,1937.2 2534.8,1947.0 2541.9,1961.4 2549.0,1961.3 2556.0,1943.6 2563.1,1987.6 2570.2,1988.6 2577.2,1968.9 2584.3,1979.9 2591.3,1964.6 2598.4,1984.1 2605.5,1974.9 2612.5,1941.1 2619.6,1921.6 2626.7,1923.4 2633.7,1933.7 2640.8,1950.7 2647.8,1956.5 2654.9,1958.3 2662.0,1970.3 2669.0,1927.9 2676.1,1973.5 2683.1,1947.5 2690.2,1980.2 2697.3,2003.6 2704.3,2009.6 2711.4,1955.2 2718.5,1973.3 2725.5,1968.5 2732.6,1951.1 2739.6,2003.7 2746.7,1986.2 2753.8,1984.8 2760.8,2003.8 2767.9,2014.8 2775.0,2003.1 2782.0,2031.5 2789.1,2048.8 2796.1,2021.9 2803.2,2040.6 2810.3,2071.5 2817.3,2079.1 2824.4,2134.2 2831.4,1920.4 2838.5,1979.9 2845.6,2096.9 2852.6,2047.1 2859.7,2071.5 2866.8,2088.3 2873.8,1995.2 2880.9,2016.2 2887.9,1900.4 2895.0,1915.3 2902.1,1928.7" fill="none" stroke="#898989" stroke-width="1.0" stroke-linejoin="round" clip-path="url(#cp3)"/>
<polyline points="331.5,1988.8 338.6,1984.9 345.6,2002.0 352.7,1966.5 359.7,1972.5 366.8,1993.1 373.9,2005.1 380.9,2053.2 388.0,2000.1 395.1,1993.3 402.1,2045.3 409.2,2116.9 416.2,2101.5 423.3,2093.3 430.4,2060.6 437.4,2016.6 444.5,1985.1 451.6,1984.7 458.6,2008.9 465.7,2013.0 472.7,2002.1 479.8,1996.6 486.9,1982.7 493.9,1982.7 501.0,1951.1 508.1,1989.5 515.1,2006.3 522.2,1990.7 529.2,2007.6 536.3,2026.0 543.4,2007.2 550.4,1924.6 557.5,1956.5 564.5,1969.2 571.6,1949.2 578.7,1965.9 585.7,2008.5 592.8,1986.7 599.9,2051.1 606.9,2047.3 614.0,2036.5 621.0,2024.7 628.1,1974.9 635.2,1977.3 642.2,1986.5 649.3,1975.0 656.4,1987.4 663.4,1987.8 670.5,1985.0 677.5,1979.3 684.6,1992.7 691.7,2012.3 698.7,2042.1 705.8,2022.3 712.8,2037.0 719.9,1985.5 727.0,2002.4 734.0,2016.3 741.1,2018.0 748.2,2000.9 755.2,1982.0 762.3,1979.8 769.3,2036.3 776.4,2038.3 783.5,2050.5 790.5,2031.7 797.6,2000.2 804.7,1992.4 811.7,1999.1 818.8,1997.0 825.8,1993.2 832.9,1940.8 840.0,1955.7 847.0,1954.3 854.1,1996.2 861.1,1991.9 868.2,1977.9 875.3,1975.5 882.3,1983.3 889.4,1992.8 896.5,1987.3 903.5,1959.5 910.6,1934.2 917.6,1948.2 924.7,1940.0 931.8,1921.2 938.8,1948.6 945.9,1921.9 953.0,1940.6 960.0,1936.6 967.1,1940.1 974.1,1944.5 981.2,1929.4 988.3,1925.2 995.3,1924.4 1002.4,1930.5 1009.5,1952.7 1016.5,1976.7 1023.6,1970.5 1030.6,1999.5 1037.7,1983.7 1044.8,1977.6 1051.8,1972.7 1058.9,1953.9 1065.9,1961.9 1073.0,1965.9 1080.1,1959.8 1087.1,1943.1 1094.2,1964.4 1101.3,1944.6 1108.3,1942.5 1115.4,1927.2 1122.4,1937.9 1129.5,1955.1 1136.6,1935.9 1143.6,1912.8 1150.7,1933.7 1157.8,1928.2 1164.8,1926.7 1171.9,1930.2 1178.9,1887.1 1186.0,1870.9 1193.1,1875.2 1200.1,1871.3 1207.2,1856.7 1214.2,1879.0 1221.3,1915.5 1228.4,1930.5 1235.4,1934.5 1242.5,1899.6 1249.6,1914.2 1256.6,1925.4 1263.7,1928.6 1270.7,1915.7 1277.8,1887.3 1284.9,1882.1 1291.9,1922.3 1299.0,1888.2 1306.1,1846.6 1313.1,1876.5 1320.2,1862.6 1327.2,1878.8 1334.3,1875.1 1341.4,1897.4 1348.4,1899.2 1355.5,1886.7 1362.6,1875.5 1369.6,1899.3 1376.7,1904.8 1383.7,1898.5 1390.8,1883.1 1397.9,1867.1 1404.9,1867.3 1412.0,1861.9 1419.0,1894.3 1426.1,1893.5 1433.2,1864.1 1440.2,1828.1 1447.3,1815.4 1454.4,1873.6 1461.4,1883.2 1468.5,1884.2 1475.5,1879.2 1482.6,1893.8 1489.7,1873.8 1496.7,1866.0 1503.8,1870.4 1510.9,1879.8 1517.9,1877.0 1525.0,1848.5 1532.0,1830.3 1539.1,1787.2 1546.2,1810.5 1553.2,1846.3 1560.3,1838.2 1567.4,1781.4 1574.4,1760.0 1581.5,1772.5 1588.5,1746.3 1595.6,1852.5 1602.7,1797.5 1609.7,1805.4 1616.8,1829.9 1623.8,1792.0 1630.9,1772.5 1638.0,1799.3 1645.0,1777.3 1652.1,1799.9 1659.2,1813.9 1666.2,1822.8 1673.3,1840.6 1680.3,1837.9 1687.4,1838.6 1694.5,1804.0 1701.5,1812.9 1708.6,1830.3 1715.7,1816.4 1722.7,1857.5 1729.8,1842.8 1736.8,1836.9 1743.9,1817.8 1751.0,1804.5 1758.0,1816.9 1765.1,1810.7 1772.1,1835.5 1779.2,1823.2 1786.3,1801.6 1793.3,1766.3 1800.4,1779.9 1807.5,1784.7 1814.5,1790.7 1821.6,1791.8 1828.6,1812.8 1835.7,1814.5 1842.8,1819.4 1849.8,1819.9 1856.9,1799.9 1864.0,1781.2 1871.0,1794.6 1878.1,1807.9 1885.1,1830.2 1892.2,1824.3 1899.3,1819.2 1906.3,1790.5 1913.4,1785.8 1920.5,1797.5 1927.5,1821.2 1934.6,1830.2 1941.6,1796.8 1948.7,1766.2 1955.8,1788.9 1962.8,1810.1 1969.9,1823.8 1976.9,1826.1 1984.0,1815.9 1991.1,1820.6 1998.1,1820.1 2005.2,1801.4 2012.3,1819.4 2019.3,1811.7 2026.4,1830.2 2033.4,1824.4 2040.5,1828.4 2047.6,1816.3 2054.6,1807.0 2061.7,1841.1 2068.8,1827.7 2075.8,1828.0 2082.9,1839.1 2089.9,1835.8 2097.0,1828.8 2104.1,1856.8 2111.1,1858.6 2118.2,1842.9 2125.2,1836.7 2132.3,1842.7 2139.4,1854.6 2146.4,1859.1 2153.5,1864.0 2160.6,1838.6 2167.6,1870.1 2174.7,1859.1 2181.7,1837.3 2188.8,1847.7 2195.9,1849.1 2202.9,1879.8 2210.0,1876.8 2217.1,1866.9 2224.1,1888.6 2231.2,1896.8 2238.2,1905.7 2245.3,1895.6 2252.4,1925.1 2259.4,1894.5 2266.5,1868.8 2273.6,1858.7 2280.6,1854.1 2287.7,1858.5 2294.7,1844.0 2301.8,1863.9 2308.9,1900.3 2315.9,1884.2 2323.0,1919.4 2330.0,1921.3 2337.1,1914.4 2344.2,1885.6 2351.2,1899.4 2358.3,1906.4 2365.4,1909.0 2372.4,1917.6 2379.5,1931.5 2386.5,1907.1 2393.6,1908.4 2400.7,1931.2 2407.7,1945.9 2414.8,1941.6 2421.9,1952.1 2428.9,1960.7 2436.0,1961.6 2443.0,1959.4 2450.1,1980.9 2457.2,1984.3 2464.2,1987.3 2471.3,1972.7 2478.3,1967.3 2485.4,1971.6 2492.5,1929.9 2499.5,1946.6 2506.6,1957.1 2513.7,1955.8 2520.7,1987.0 2527.8,2019.0 2534.8,2012.1 2541.9,1957.3 2549.0,1993.9 2556.0,1985.2 2563.1,1954.8 2570.2,1954.4 2577.2,1956.8 2584.3,1943.0 2591.3,1967.9 2598.4,1987.1 2605.5,1983.8 2612.5,1947.6 2619.6,1926.0 2626.7,1957.1 2633.7,1973.2 2640.8,2011.5 2647.8,2024.8 2654.9,2026.1 2662.0,1994.9 2669.0,1936.4 2676.1,1961.8 2683.1,1994.2 2690.2,2058.2 2697.3,2049.1 2704.3,2013.0 2711.4,1958.0 2718.5,1886.9 2725.5,1939.8 2732.6,1991.2 2739.6,1992.4 2746.7,1989.7 2753.8,1964.9 2760.8,1991.0 2767.9,2005.1 2775.0,1989.6 2782.0,1988.8 2789.1,1968.4 2796.1,1963.0 2803.2,2001.7 2810.3,1975.3 2817.3,2002.1 2824.4,1940.6 2831.4,2015.7 2838.5,2103.2 2845.6,2076.4 2852.6,2058.6 2859.7,1993.5 2866.8,2025.8 2873.8,2031.1 2880.9,2040.1 2887.9,2046.8 2895.0,2044.8 2902.1,2061.5" fill="none" stroke="#898989" stroke-width="1.0" stroke-linejoin="round" clip-path="url(#cp3)"/>
<polyline points="331.5,1966.3 338.6,1957.6 345.6,1998.5 352.7,1975.4 359.7,2076.9 366.8,2070.0 373.9,2049.8 380.9,1997.0 388.0,1957.7 395.1,1955.8 402.1,1977.1 409.2,1981.6 416.2,1945.8 423.3,1957.0 430.4,1921.7 437.4,1955.3 444.5,1948.7 451.6,1962.8 458.6,1977.4 465.7,1979.1 472.7,1963.8 479.8,1983.6 486.9,1962.4 493.9,1967.9 501.0,1991.6 508.1,1974.8 515.1,1986.1 522.2,2002.1 529.2,2002.8 536.3,1947.7 543.4,1996.1 550.4,2004.1 557.5,1937.5 564.5,1983.9 571.6,1952.8 578.7,1950.7 585.7,1968.3 592.8,1949.7 599.9,1930.5 606.9,1924.0 614.0,1948.6 621.0,1948.5 628.1,1981.7 635.2,1985.6 642.2,1968.0 649.3,1971.1 656.4,1952.1 663.4,1957.6 670.5,1936.4 677.5,1987.3 684.6,2016.1 691.7,1988.0 698.7,2036.2 705.8,2079.4 712.8,2044.8 719.9,2014.6 727.0,1971.0 734.0,2021.4 741.1,2029.6 748.2,2006.4 755.2,1977.2 762.3,2000.3 769.3,1957.7 776.4,1960.6 783.5,1963.0 790.5,1985.9 797.6,1977.2 804.7,1972.3 811.7,1983.7 818.8,1991.4 825.8,1969.0 832.9,2007.9 840.0,2013.3 847.0,1982.5 854.1,1938.9 861.1,1930.6 868.2,1950.7 875.3,1966.5 882.3,1985.1 889.4,1978.3 896.5,1960.1 903.5,1953.0 910.6,1946.3 917.6,1920.8 924.7,1943.4 931.8,1916.3 938.8,1922.4 945.9,1914.2 953.0,1933.5 960.0,1935.7 967.1,1958.8 974.1,1961.1 981.2,1985.8 988.3,1985.1 995.3,1959.3 1002.4,1964.9 1009.5,1986.7 1016.5,1960.1 1023.6,1953.4 1030.6,1955.3 1037.7,1949.9 1044.8,1963.7 1051.8,1952.9 1058.9,1935.9 1065.9,1939.5 1073.0,1944.8 1080.1,1932.6 1087.1,1941.7 1094.2,1959.7 1101.3,1945.9 1108.3,1933.5 1115.4,1921.0 1122.4,1926.8 1129.5,1944.0 1136.6,1927.9 1143.6,1950.6 1150.7,1936.5 1157.8,1942.2 1164.8,1931.8 1171.9,1914.8 1178.9,1905.6 1186.0,1874.2 1193.1,1892.8 1200.1,1879.3 1207.2,1903.0 1214.2,1922.3 1221.3,1945.2 1228.4,1938.0 1235.4,1933.1 1242.5,1919.3 1249.6,1904.4 1256.6,1870.5 1263.7,1856.6 1270.7,1835.0 1277.8,1872.3 1284.9,1897.5 1291.9,1930.9 1299.0,1962.0 1306.1,1917.5 1313.1,1926.7 1320.2,1891.7 1327.2,1882.1 1334.3,1871.2 1341.4,1858.7 1348.4,1853.3 1355.5,1850.8 1362.6,1868.2 1369.6,1886.5 1376.7,1889.0 1383.7,1883.4 1390.8,1892.5 1397.9,1882.1 1404.9,1852.5 1412.0,1879.1 1419.0,1883.8 1426.1,1873.8 1433.2,1891.5 1440.2,1863.4 1447.3,1836.8 1454.4,1836.0 1461.4,1845.5 1468.5,1862.3 1475.5,1867.8 1482.6,1868.7 1489.7,1847.9 1496.7,1859.0 1503.8,1851.3 1510.9,1851.0 1517.9,1854.1 1525.0,1843.2 1532.0,1828.0 1539.1,1818.8 1546.2,1839.8 1553.2,1837.3 1560.3,1827.4 1567.4,1796.0 1574.4,1748.0 1581.5,1765.8 1588.5,1834.3 1595.6,1873.8 1602.7,1849.7 1609.7,1852.9 1616.8,1801.2 1623.8,1799.7 1630.9,1816.7 1638.0,1806.4 1645.0,1794.9 1652.1,1782.2 1659.2,1807.8 1666.2,1817.4 1673.3,1808.9 1680.3,1834.9 1687.4,1827.7 1694.5,1818.9 1701.5,1814.5 1708.6,1801.2 1715.7,1817.4 1722.7,1819.0 1729.8,1829.1 1736.8,1827.6 1743.9,1833.4 1751.0,1811.8 1758.0,1798.6 1765.1,1837.3 1772.1,1827.9 1779.2,1826.5 1786.3,1816.9 1793.3,1826.9 1800.4,1822.6 1807.5,1806.6 1814.5,1780.5 1821.6,1796.5 1828.6,1808.0 1835.7,1806.2 1842.8,1808.5 1849.8,1824.8 1856.9,1814.4 1864.0,1824.8 1871.0,1825.7 1878.1,1826.9 1885.1,1827.9 1892.2,1788.3 1899.3,1792.2 1906.3,1793.5 1913.4,1795.1 1920.5,1813.5 1927.5,1834.7 1934.6,1845.3 1941.6,1844.0 1948.7,1866.2 1955.8,1841.4 1962.8,1830.2 1969.9,1832.0 1976.9,1834.4 1984.0,1826.9 1991.1,1804.2 1998.1,1822.7 2005.2,1832.7 2012.3,1860.6 2019.3,1843.0 2026.4,1830.4 2033.4,1854.0 2040.5,1832.6 2047.6,1836.7 2054.6,1851.3 2061.7,1855.3 2068.8,1860.4 2075.8,1866.3 2082.9,1859.8 2089.9,1849.7 2097.0,1857.4 2104.1,1833.3 2111.1,1826.9 2118.2,1836.1 2125.2,1842.4 2132.3,1854.3 2139.4,1850.8 2146.4,1859.6 2153.5,1842.5 2160.6,1829.3 2167.6,1865.1 2174.7,1865.8 2181.7,1887.4 2188.8,1878.6 2195.9,1862.7 2202.9,1880.7 2210.0,1868.3 2217.1,1859.8 2224.1,1883.2 2231.2,1862.0 2238.2,1863.4 2245.3,1867.3 2252.4,1866.5 2259.4,1858.8 2266.5,1876.9 2273.6,1887.8 2280.6,1869.7 2287.7,1870.7 2294.7,1862.2 2301.8,1877.1 2308.9,1866.3 2315.9,1872.3 2323.0,1883.7 2330.0,1889.1 2337.1,1890.7 2344.2,1867.2 2351.2,1845.3 2358.3,1864.2 2365.4,1886.0 2372.4,1924.7 2379.5,1901.0 2386.5,1905.0 2393.6,1916.8 2400.7,1927.3 2407.7,1933.8 2414.8,1943.9 2421.9,1958.9 2428.9,1961.0 2436.0,1928.8 2443.0,1938.0 2450.1,1944.6 2457.2,1969.7 2464.2,1960.7 2471.3,1952.8 2478.3,1933.0 2485.4,1939.9 2492.5,1957.1 2499.5,1929.6 2506.6,1941.6 2513.7,1954.6 2520.7,1993.8 2527.8,1971.9 2534.8,1983.8 2541.9,1978.6 2549.0,1932.6 2556.0,1938.6 2563.1,1954.8 2570.2,1959.1 2577.2,1967.0 2584.3,1954.0 2591.3,1920.3 2598.4,1946.5 2605.5,1955.3 2612.5,1942.9 2619.6,1954.8 2626.7,1957.8 2633.7,1952.8 2640.8,1950.9 2647.8,1973.8 2654.9,1993.9 2662.0,1991.7 2669.0,1976.6 2676.1,2010.6 2683.1,1984.9 2690.2,1941.5 2697.3,1999.9 2704.3,1933.3 2711.4,1944.8 2718.5,1940.0 2725.5,1975.6 2732.6,1982.4 2739.6,1944.2 2746.7,1966.8 2753.8,1953.0 2760.8,1974.7 2767.9,1993.2 2775.0,1984.5 2782.0,2007.6 2789.1,2016.2 2796.1,1999.2 2803.2,2033.7 2810.3,1989.0 2817.3,1981.7 2824.4,2021.0 2831.4,2026.2 2838.5,2012.9 2845.6,2024.1 2852.6,2010.1 2859.7,2085.5 2866.8,2017.6 2873.8,2089.4 2880.9,2026.2 2887.9,2005.7 2895.0,2010.7 2902.1,2025.1" fill="none" stroke="#898989" stroke-width="1.0" stroke-linejoin="round" clip-path="url(#cp3)"/>
<polyline points="331.5,1985.0 338.6,1985.0 345.6,1996.7 352.7,2006.7 359.7,2010.0 366.8,2003.3 373.9,2003.3 380.9,1995.0 388.0,1971.7 395.1,1953.3 402.1,1970.0 409.2,1983.3 416.2,1988.3 423.3,1976.7 430.4,1965.0 437.4,1976.7 444.5,1980.0 451.6,1983.3 458.6,1988.3 465.7,1988.3 472.7,1986.7 479.8,1991.7 486.9,1985.0 493.9,1983.3 501.0,1990.0 508.1,1986.7 515.1,1986.7 522.2,1980.0 529.2,1968.3 536.3,1978.3 543.4,1983.3 550.4,1986.7 557.5,1998.3 564.5,2008.3 571.6,1983.3 578.7,1973.3 585.7,1985.0 592.8,1986.7 599.9,2000.0 606.9,2008.3 614.0,2011.7 621.0,2011.7 628.1,2010.0 635.2,1996.7 642.2,1998.3 649.3,1993.3 656.4,1985.0 663.4,1978.3 670.5,1986.7 677.5,1983.3 684.6,1988.3 691.7,1983.3 698.7,1996.7 705.8,1998.3 712.8,2005.0 719.9,1986.7 727.0,1986.7 734.0,1993.3 741.1,1988.3 748.2,1983.3 755.2,1980.0 762.3,1983.3 769.3,1981.0 776.4,1981.0 783.5,1983.3 790.5,1970.0 797.6,1970.0 804.7,1976.7 811.7,1983.3 818.8,1988.3 825.8,1983.3 832.9,1978.3 840.0,1977.7 847.0,1975.0 854.1,1970.0 861.1,1966.7 868.2,1966.7 875.3,1971.7 882.3,1976.7 889.4,1973.3 896.5,1963.3 903.5,1960.0 910.6,1953.3 917.6,1956.7 924.7,1956.7 931.8,1946.7 938.8,1950.0 945.9,1953.3 953.0,1958.3 960.0,1948.3 967.1,1948.3 974.1,1955.0 981.2,1965.0 988.3,1960.0 995.3,1948.3 1002.4,1946.7 1009.5,1958.3 1016.5,1961.7 1023.6,1951.7 1030.6,1960.0 1037.7,1965.0 1044.8,1965.0 1051.8,1955.0 1058.9,1941.7 1065.9,1940.0 1073.0,1933.3 1080.1,1925.0 1087.1,1915.0 1094.2,1918.3 1101.3,1924.3 1108.3,1918.3 1115.4,1915.7 1122.4,1918.3 1129.5,1923.3 1136.6,1915.0 1143.6,1916.7 1150.7,1916.7 1157.8,1921.7 1164.8,1913.3 1171.9,1905.0 1178.9,1898.3 1186.0,1891.7 1193.1,1898.3 1200.1,1896.7 1207.2,1896.7 1214.2,1911.7 1221.3,1923.3 1228.4,1923.3 1235.4,1908.3 1242.5,1893.3 1249.6,1893.3 1256.6,1883.3 1263.7,1884.3 1270.7,1883.3 1277.8,1876.7 1284.9,1886.7 1291.9,1894.3 1299.0,1894.3 1306.1,1898.3 1313.1,1891.7 1320.2,1875.0 1327.2,1881.7 1334.3,1881.7 1341.4,1885.0 1348.4,1885.7 1355.5,1888.3 1362.6,1893.3 1369.6,1890.0 1376.7,1886.7 1383.7,1883.3 1390.8,1881.7 1397.9,1871.7 1404.9,1865.0 1412.0,1864.3 1419.0,1881.0 1426.1,1876.7 1433.2,1881.0 1440.2,1858.3 1447.3,1836.7 1454.4,1855.0 1461.4,1856.7 1468.5,1858.3 1475.5,1861.7 1482.6,1868.3 1489.7,1865.7 1496.7,1864.3 1503.8,1863.3 1510.9,1863.3 1517.9,1863.3 1525.0,1851.7 1532.0,1835.0 1539.1,1826.7 1546.2,1835.0 1553.2,1843.3 1560.3,1836.7 1567.4,1808.3 1574.4,1783.3 1581.5,1796.7 1588.5,1806.7 1595.6,1823.3 1602.7,1830.0 1609.7,1839.0 1616.8,1833.3 1623.8,1821.7 1630.9,1813.3 1638.0,1812.3 1645.0,1809.0 1652.1,1808.3 1659.2,1815.0 1666.2,1821.7 1673.3,1825.0 1680.3,1840.0 1687.4,1836.7 1694.5,1830.0 1701.5,1822.3 1708.6,1819.0 1715.7,1819.0 1722.7,1815.0 1729.8,1821.0 1736.8,1820.0 1743.9,1816.7 1751.0,1815.7 1758.0,1816.7 1765.1,1835.0 1772.1,1835.0 1779.2,1833.3 1786.3,1815.0 1793.3,1811.7 1800.4,1808.3 1807.5,1800.0 1814.5,1796.7 1821.6,1805.0 1828.6,1814.3 1835.7,1812.3 1842.8,1818.3 1849.8,1818.3 1856.9,1809.0 1864.0,1808.3 1871.0,1809.0 1878.1,1821.0 1885.1,1813.3 1892.2,1809.0 1899.3,1810.0 1906.3,1804.0 1913.4,1806.7 1920.5,1811.7 1927.5,1818.3 1934.6,1825.7 1941.6,1811.7 1948.7,1818.3 1955.8,1825.7 1962.8,1829.0 1969.9,1831.0 1976.9,1825.0 1984.0,1817.7 1991.1,1817.7 1998.1,1821.7 2005.2,1825.7 2012.3,1825.7 2019.3,1826.7 2026.4,1825.7 2033.4,1830.0 2040.5,1826.7 2047.6,1817.7 2054.6,1821.7 2061.7,1836.7 2068.8,1837.7 2075.8,1838.3 2082.9,1842.3 2089.9,1835.0 2097.0,1843.3 2104.1,1849.0 2111.1,1850.0 2118.2,1843.3 2125.2,1845.0 2132.3,1850.0 2139.4,1856.7 2146.4,1870.0 2153.5,1868.3 2160.6,1860.0 2167.6,1871.7 2174.7,1863.3 2181.7,1862.3 2188.8,1860.0 2195.9,1853.3 2202.9,1871.7 2210.0,1868.3 2217.1,1864.3 2224.1,1869.0 2231.2,1866.7 2238.2,1877.7 2245.3,1885.0 2252.4,1883.3 2259.4,1875.0 2266.5,1870.0 2273.6,1881.7 2280.6,1890.0 2287.7,1883.3 2294.7,1874.3 2301.8,1879.0 2308.9,1885.0 2315.9,1879.0 2323.0,1900.0 2330.0,1902.3 2337.1,1901.0 2344.2,1894.3 2351.2,1894.3 2358.3,1891.0 2365.4,1895.0 2372.4,1901.0 2379.5,1908.3 2386.5,1904.3 2393.6,1911.7 2400.7,1924.3 2407.7,1935.0 2414.8,1935.7 2421.9,1936.7 2428.9,1941.0 2436.0,1931.7 2443.0,1920.0 2450.1,1936.7 2457.2,1951.7 2464.2,1940.0 2471.3,1938.3 2478.3,1937.7 2485.4,1945.0 2492.5,1938.3 2499.5,1941.7 2506.6,1931.7 2513.7,1948.3 2520.7,1958.3 2527.8,1968.3 2534.8,1965.0 2541.9,1964.3 2549.0,1961.7 2556.0,1961.0 2563.1,1966.7 2570.2,1968.3 2577.2,1973.3 2584.3,1973.3 2591.3,1956.7 2598.4,1976.7 2605.5,1983.3 2612.5,1966.7 2619.6,1953.3 2626.7,1946.7 2633.7,1956.7 2640.8,1961.0 2647.8,1965.0 2654.9,1973.3 2662.0,1983.3 2669.0,1958.3 2676.1,1968.3 2683.1,1979.0 2690.2,1978.3 2697.3,1993.3 2704.3,1975.0 2711.4,1962.3 2718.5,1958.3 2725.5,1961.7 2732.6,1968.3 2739.6,1974.3 2746.7,1978.3 2753.8,1976.7 2760.8,1986.7 2767.9,1998.3 2775.0,1986.7 2782.0,1993.3 2789.1,1995.7 2796.1,2000.0 2803.2,2008.3 2810.3,2011.0 2817.3,2020.0 2824.4,2028.3 2831.4,2028.3 2838.5,2013.3 2845.6,2021.7 2852.6,2008.3 2859.7,2003.3 2866.8,2008.3 2873.8,2013.3 2880.9,2005.0 2887.9,1986.7 2895.0,1988.3 2902.1,1994.3" fill="none" stroke="#000000" stroke-width="4.5" stroke-linejoin="round" clip-path="url(#cp3)"/>
<polyline points="331.5,2004.3 338.6,2006.7 345.6,2025.0 352.7,2060.0 359.7,2078.3 366.8,2060.0 373.9,2061.7 380.9,2046.7 388.0,1993.3 395.1,1993.3 402.1,2035.0 409.2,2071.7 416.2,2068.3 423.3,2046.7 430.4,2030.0 437.4,2020.0 444.5,2008.3 451.6,2013.3 458.6,2016.7 465.7,2016.7 472.7,2008.3 479.8,2005.0 486.9,2013.3 493.9,2015.0 501.0,2023.3 508.1,2016.7 515.1,2020.0 522.2,2010.0 529.2,2018.3 536.3,2026.7 543.4,2021.7 550.4,2030.0 557.5,2066.7 564.5,2066.7 571.6,2038.3 578.7,2018.3 585.7,2035.0 592.8,2031.7 599.9,2046.7 606.9,2061.7 614.0,2076.7 621.0,2066.7 628.1,2061.7 635.2,2033.3 642.2,2025.0 649.3,2016.7 656.4,2010.0 663.4,2015.0 670.5,2035.0 677.5,2023.3 684.6,2013.3 691.7,2008.3 698.7,2045.0 705.8,2061.7 712.8,2048.3 719.9,2030.0 727.0,2025.0 734.0,2025.0 741.1,2026.7 748.2,2008.3 755.2,1996.7 762.3,2016.7 769.3,2026.7 776.4,2018.3 783.5,2021.7 790.5,2010.0 797.6,1993.3 804.7,1996.7 811.7,1996.7 818.8,1998.3 825.8,2008.3 832.9,2013.3 840.0,2005.0 847.0,2005.0 854.1,1996.7 861.1,1993.3 868.2,1983.3 875.3,1976.7 882.3,1993.3 889.4,1990.0 896.5,1991.7 903.5,1996.7 910.6,1973.3 917.6,1985.0 924.7,1990.0 931.8,1983.3 938.8,1975.0 945.9,1986.7 953.0,1986.7 960.0,1975.0 967.1,1970.0 974.1,1978.3 981.2,1986.7 988.3,1991.7 995.3,1968.3 1002.4,1966.7 1009.5,1986.7 1016.5,1983.3 1023.6,1971.7 1030.6,1983.3 1037.7,1976.7 1044.8,1973.3 1051.8,1976.7 1058.9,1960.0 1065.9,1968.3 1073.0,1965.0 1080.1,1958.3 1087.1,1948.3 1094.2,1968.3 1101.3,1948.3 1108.3,1938.3 1115.4,1933.3 1122.4,1933.3 1129.5,1948.3 1136.6,1936.7 1143.6,1941.0 1150.7,1940.0 1157.8,1941.7 1164.8,1950.0 1171.9,1925.0 1178.9,1913.3 1186.0,1916.7 1193.1,1923.3 1200.1,1930.0 1207.2,1921.7 1214.2,1935.0 1221.3,1940.0 1228.4,1938.3 1235.4,1930.0 1242.5,1921.7 1249.6,1925.0 1256.6,1910.0 1263.7,1916.7 1270.7,1923.3 1277.8,1931.7 1284.9,1936.7 1291.9,1941.7 1299.0,1942.3 1306.1,1935.0 1313.1,1918.3 1320.2,1896.7 1327.2,1895.0 1334.3,1901.7 1341.4,1908.3 1348.4,1915.7 1355.5,1918.3 1362.6,1913.3 1369.6,1901.7 1376.7,1900.0 1383.7,1910.0 1390.8,1896.7 1397.9,1891.7 1404.9,1890.0 1412.0,1881.7 1419.0,1900.0 1426.1,1898.3 1433.2,1895.7 1440.2,1875.0 1447.3,1861.7 1454.4,1876.7 1461.4,1881.7 1468.5,1883.3 1475.5,1891.7 1482.6,1896.7 1489.7,1876.7 1496.7,1868.3 1503.8,1876.7 1510.9,1883.3 1517.9,1881.7 1525.0,1868.3 1532.0,1856.7 1539.1,1855.0 1546.2,1868.3 1553.2,1868.3 1560.3,1860.0 1567.4,1851.7 1574.4,1831.7 1581.5,1850.0 1588.5,1863.3 1595.6,1873.3 1602.7,1856.7 1609.7,1860.0 1616.8,1863.3 1623.8,1853.3 1630.9,1841.7 1638.0,1841.7 1645.0,1835.0 1652.1,1835.0 1659.2,1843.3 1666.2,1851.7 1673.3,1853.3 1680.3,1853.3 1687.4,1855.0 1694.5,1856.7 1701.5,1853.3 1708.6,1843.3 1715.7,1848.3 1722.7,1844.3 1729.8,1845.0 1736.8,1836.7 1743.9,1831.0 1751.0,1839.0 1758.0,1841.0 1765.1,1851.7 1772.1,1844.3 1779.2,1851.7 1786.3,1853.3 1793.3,1856.7 1800.4,1838.3 1807.5,1828.3 1814.5,1826.7 1821.6,1835.0 1828.6,1828.3 1835.7,1823.3 1842.8,1845.0 1849.8,1845.0 1856.9,1831.7 1864.0,1831.0 1871.0,1826.7 1878.1,1836.7 1885.1,1834.3 1892.2,1834.3 1899.3,1828.3 1906.3,1821.7 1913.4,1826.7 1920.5,1830.0 1927.5,1836.7 1934.6,1845.0 1941.6,1840.0 1948.7,1856.7 1955.8,1849.0 1962.8,1845.0 1969.9,1838.3 1976.9,1838.3 1984.0,1835.0 1991.1,1840.0 1998.1,1847.7 2005.2,1859.0 2012.3,1856.7 2019.3,1851.7 2026.4,1846.7 2033.4,1852.3 2040.5,1850.0 2047.6,1835.0 2054.6,1840.0 2061.7,1849.0 2068.8,1852.3 2075.8,1855.0 2082.9,1858.3 2089.9,1856.7 2097.0,1855.0 2104.1,1865.7 2111.1,1865.0 2118.2,1849.0 2125.2,1856.7 2132.3,1856.7 2139.4,1862.3 2146.4,1888.3 2153.5,1891.7 2160.6,1895.0 2167.6,1881.7 2174.7,1874.3 2181.7,1885.0 2188.8,1875.0 2195.9,1861.7 2202.9,1890.0 2210.0,1881.7 2217.1,1871.0 2224.1,1890.0 2231.2,1889.0 2238.2,1900.0 2245.3,1912.3 2252.4,1911.7 2259.4,1895.7 2266.5,1890.0 2273.6,1906.7 2280.6,1917.7 2287.7,1905.0 2294.7,1905.7 2301.8,1911.7 2308.9,1921.7 2315.9,1901.7 2323.0,1926.7 2330.0,1915.0 2337.1,1915.0 2344.2,1915.7 2351.2,1925.0 2358.3,1918.3 2365.4,1925.0 2372.4,1935.0 2379.5,1950.0 2386.5,1936.7 2393.6,1933.3 2400.7,1950.0 2407.7,1966.7 2414.8,1966.7 2421.9,1965.0 2428.9,1960.0 2436.0,1948.3 2443.0,1953.3 2450.1,1971.7 2457.2,1981.0 2464.2,1971.7 2471.3,1968.3 2478.3,1968.3 2485.4,1973.3 2492.5,1973.3 2499.5,1968.3 2506.6,1963.3 2513.7,1988.3 2520.7,2013.3 2527.8,2020.0 2534.8,2010.0 2541.9,2001.7 2549.0,1993.3 2556.0,1993.3 2563.1,1996.7 2570.2,1991.7 2577.2,1988.3 2584.3,1998.3 2591.3,1981.7 2598.4,1998.3 2605.5,2006.7 2612.5,1996.7 2619.6,1985.0 2626.7,1965.0 2633.7,1976.7 2640.8,1991.7 2647.8,2001.7 2654.9,2011.0 2662.0,2003.3 2669.0,1994.3 2676.1,2011.7 2683.1,2038.3 2690.2,2043.3 2697.3,2041.7 2704.3,2027.7 2711.4,2016.7 2718.5,2021.7 2725.5,2015.0 2732.6,2010.0 2739.6,2001.7 2746.7,2001.7 2753.8,1998.3 2760.8,1998.3 2767.9,2013.3 2775.0,2015.0 2782.0,2023.3 2789.1,2033.3 2796.1,2038.3 2803.2,2040.0 2810.3,2063.3 2817.3,2090.0 2824.4,2103.3 2831.4,2103.3 2838.5,2076.7 2845.6,2086.7 2852.6,2068.3 2859.7,2073.3 2866.8,2081.7 2873.8,2085.0 2880.9,2070.0 2887.9,2053.3 2895.0,2038.3 2902.1,2061.7" fill="none" stroke="#0000ff" stroke-width="3.2" stroke-linejoin="round" clip-path="url(#cp3)"/>
<polyline points="331.5,1966.7 338.6,1960.0 345.6,1953.3 352.7,1947.7 359.7,1941.7 366.8,1946.7 373.9,1945.0 380.9,1941.7 388.0,1946.7 395.1,1913.3 402.1,1916.7 409.2,1898.3 416.2,1906.7 423.3,1901.7 430.4,1900.0 437.4,1935.0 444.5,1950.0 451.6,1953.3 458.6,1960.0 465.7,1961.7 472.7,1960.0 479.8,1988.3 486.9,1958.3 493.9,1955.0 501.0,1956.7 508.1,1951.7 515.1,1955.0 522.2,1951.7 529.2,1918.3 536.3,1935.0 543.4,1945.0 550.4,1948.3 557.5,1938.3 564.5,1950.0 571.6,1925.0 578.7,1930.0 585.7,1935.0 592.8,1941.7 599.9,1950.0 606.9,1956.7 614.0,1946.7 621.0,1956.7 628.1,1958.3 635.2,1960.0 642.2,1975.0 649.3,1971.7 656.4,1958.3 663.4,1941.7 670.5,1938.3 677.5,1940.0 684.6,1965.0 691.7,1953.3 698.7,1951.7 705.8,1936.7 712.8,1956.7 719.9,1942.3 727.0,1951.7 734.0,1963.3 741.1,1955.0 748.2,1963.3 755.2,1960.0 762.3,1951.7 769.3,1940.0 776.4,1936.7 783.5,1943.3 790.5,1918.3 797.6,1943.3 804.7,1960.0 811.7,1975.0 818.8,1980.0 825.8,1953.3 832.9,1943.3 840.0,1950.0 847.0,1944.3 854.1,1944.3 861.1,1944.3 868.2,1951.7 875.3,1961.7 882.3,1956.7 889.4,1956.7 896.5,1936.7 903.5,1925.0 910.6,1930.0 917.6,1926.7 924.7,1921.7 931.8,1910.0 938.8,1925.0 945.9,1916.7 953.0,1930.0 960.0,1920.0 967.1,1925.0 974.1,1931.7 981.2,1940.0 988.3,1931.7 995.3,1923.3 1002.4,1926.7 1009.5,1935.0 1016.5,1941.7 1023.6,1933.3 1030.6,1920.0 1037.7,1950.0 1044.8,1956.7 1051.8,1935.0 1058.9,1921.7 1065.9,1913.3 1073.0,1905.0 1080.1,1898.3 1087.1,1881.7 1094.2,1863.3 1101.3,1895.0 1108.3,1894.3 1115.4,1897.7 1122.4,1901.7 1129.5,1898.3 1136.6,1893.3 1143.6,1892.3 1150.7,1893.3 1157.8,1905.0 1164.8,1876.7 1171.9,1885.0 1178.9,1886.7 1186.0,1868.3 1193.1,1873.3 1200.1,1864.3 1207.2,1870.0 1214.2,1891.7 1221.3,1906.7 1228.4,1908.3 1235.4,1881.7 1242.5,1866.7 1249.6,1861.7 1256.6,1855.0 1263.7,1851.7 1270.7,1846.7 1277.8,1818.3 1284.9,1840.0 1291.9,1848.3 1299.0,1847.7 1306.1,1863.3 1313.1,1865.0 1320.2,1854.3 1327.2,1865.0 1334.3,1861.7 1341.4,1860.0 1348.4,1855.0 1355.5,1856.7 1362.6,1871.7 1369.6,1878.3 1376.7,1875.0 1383.7,1855.0 1390.8,1863.3 1397.9,1850.0 1404.9,1838.3 1412.0,1845.0 1419.0,1861.7 1426.1,1855.0 1433.2,1868.3 1440.2,1828.3 1447.3,1810.0 1454.4,1835.0 1461.4,1833.3 1468.5,1833.3 1475.5,1830.0 1482.6,1840.0 1489.7,1855.0 1496.7,1858.3 1503.8,1851.7 1510.9,1844.3 1517.9,1843.3 1525.0,1836.7 1532.0,1815.0 1539.1,1795.0 1546.2,1805.0 1553.2,1820.0 1560.3,1815.0 1567.4,1781.7 1574.4,1733.3 1581.5,1745.0 1588.5,1748.3 1595.6,1776.7 1602.7,1801.7 1609.7,1818.3 1616.8,1805.0 1623.8,1788.3 1630.9,1785.0 1638.0,1783.3 1645.0,1782.3 1652.1,1781.7 1659.2,1791.7 1666.2,1795.0 1673.3,1796.7 1680.3,1826.7 1687.4,1820.0 1694.5,1805.0 1701.5,1790.0 1708.6,1796.7 1715.7,1791.7 1722.7,1785.0 1729.8,1798.3 1736.8,1803.3 1743.9,1800.0 1751.0,1791.7 1758.0,1791.7 1765.1,1818.3 1772.1,1826.7 1779.2,1815.0 1786.3,1775.0 1793.3,1765.0 1800.4,1775.0 1807.5,1768.3 1814.5,1763.3 1821.6,1780.0 1828.6,1805.0 1835.7,1800.0 1842.8,1794.3 1849.8,1792.3 1856.9,1786.7 1864.0,1785.0 1871.0,1791.7 1878.1,1808.3 1885.1,1793.3 1892.2,1783.3 1899.3,1793.3 1906.3,1785.0 1913.4,1781.7 1920.5,1788.3 1927.5,1803.3 1934.6,1806.7 1941.6,1783.3 1948.7,1777.7 1955.8,1803.3 1962.8,1815.0 1969.9,1823.3 1976.9,1811.7 1984.0,1801.7 1991.1,1795.0 1998.1,1791.7 2005.2,1791.0 2012.3,1791.7 2019.3,1798.3 2026.4,1803.3 2033.4,1808.3 2040.5,1806.7 2047.6,1801.7 2054.6,1801.0 2061.7,1824.3 2068.8,1823.3 2075.8,1820.0 2082.9,1823.3 2089.9,1811.7 2097.0,1825.0 2104.1,1831.7 2111.1,1836.7 2118.2,1836.7 2125.2,1835.0 2132.3,1843.3 2139.4,1848.3 2146.4,1853.3 2153.5,1846.7 2160.6,1823.3 2167.6,1858.3 2174.7,1848.3 2181.7,1838.3 2188.8,1845.0 2195.9,1845.0 2202.9,1855.0 2210.0,1855.0 2217.1,1859.0 2224.1,1848.3 2231.2,1845.0 2238.2,1856.7 2245.3,1856.7 2252.4,1856.0 2259.4,1854.3 2266.5,1848.3 2273.6,1856.7 2280.6,1863.3 2287.7,1863.3 2294.7,1843.3 2301.8,1846.7 2308.9,1851.0 2315.9,1855.0 2323.0,1868.3 2330.0,1888.3 2337.1,1885.0 2344.2,1871.7 2351.2,1863.3 2358.3,1863.3 2365.4,1864.3 2372.4,1866.0 2379.5,1866.7 2386.5,1875.0 2393.6,1891.0 2400.7,1900.0 2407.7,1904.3 2414.8,1905.7 2421.9,1909.0 2428.9,1920.0 2436.0,1908.3 2443.0,1887.7 2450.1,1908.3 2457.2,1921.7 2464.2,1905.0 2471.3,1910.0 2478.3,1905.0 2485.4,1916.7 2492.5,1901.0 2499.5,1914.3 2506.6,1898.3 2513.7,1908.3 2520.7,1901.7 2527.8,1920.0 2534.8,1918.3 2541.9,1926.7 2549.0,1929.0 2556.0,1930.0 2563.1,1937.7 2570.2,1941.7 2577.2,1958.3 2584.3,1948.3 2591.3,1931.7 2598.4,1956.7 2605.5,1956.7 2612.5,1935.0 2619.6,1923.3 2626.7,1928.3 2633.7,1937.7 2640.8,1928.3 2647.8,1925.0 2654.9,1935.0 2662.0,1963.3 2669.0,1923.3 2676.1,1925.0 2683.1,1920.0 2690.2,1912.3 2697.3,1943.3 2704.3,1930.0 2711.4,1905.0 2718.5,1893.3 2725.5,1911.7 2732.6,1928.3 2739.6,1948.3 2746.7,1955.0 2753.8,1953.3 2760.8,1975.0 2767.9,1985.0 2775.0,1960.0 2782.0,1961.7 2789.1,1956.7 2796.1,1956.7 2803.2,1976.7 2810.3,1964.3 2817.3,1951.0 2824.4,1953.3 2831.4,1951.7 2838.5,1952.3 2845.6,1955.0 2852.6,1948.3 2859.7,1931.7 2866.8,1933.3 2873.8,1943.3 2880.9,1941.0 2887.9,1920.0 2895.0,1936.7 2902.1,1929.0" fill="none" stroke="#ff0000" stroke-width="3.2" stroke-linejoin="round" clip-path="url(#cp3)"/>
<polyline points="331.5,1973.3 338.6,2000.0 345.6,2013.3 352.7,2013.3 359.7,2046.7 366.8,1995.0 373.9,1993.3 380.9,2005.0 388.0,1955.0 395.1,1901.7 402.1,1906.7 409.2,1893.3 416.2,1898.3 423.3,1898.3 430.4,1958.3 437.4,1975.0 444.5,1983.3 451.6,1966.7 458.6,1993.3 465.7,1968.3 472.7,1998.3 479.8,1996.7 486.9,1965.0 493.9,2008.3 501.0,2036.7 508.1,2006.7 515.1,2000.0 522.2,1978.3 529.2,1940.0 536.3,1931.7 543.4,1936.7 550.4,1940.0 557.5,1935.0 564.5,1930.0 571.6,1903.3 578.7,1908.3 585.7,1940.0 592.8,1931.7 599.9,1945.0 606.9,1966.7 614.0,1986.7 621.0,1953.3 628.1,1938.3 635.2,1966.7 642.2,1988.3 649.3,1988.3 656.4,1986.7 663.4,2015.0 670.5,2070.0 677.5,2061.7 684.6,2031.7 691.7,1996.7 698.7,2006.7 705.8,2008.3 712.8,2005.0 719.9,1946.7 727.0,1963.3 734.0,1990.0 741.1,2010.0 748.2,1983.3 755.2,1965.0 762.3,1955.0 769.3,1933.3 776.4,1958.3 783.5,1945.0 790.5,1916.7 797.6,1968.3 804.7,2000.0 811.7,2001.7 818.8,2001.7 825.8,2008.3 832.9,2003.3 840.0,2000.0 847.0,2001.7 854.1,1986.7 861.1,1936.7 868.2,1970.0 875.3,1976.7 882.3,1986.7 889.4,1993.3 896.5,2001.7 903.5,1993.3 910.6,1985.0 917.6,1993.3 924.7,2010.0 931.8,1998.3 938.8,1990.0 945.9,2003.3 953.0,2005.0 960.0,1975.0 967.1,1941.7 974.1,1955.0 981.2,1941.7 988.3,1948.3 995.3,1945.0 1002.4,1940.0 1009.5,1955.0 1016.5,1955.0 1023.6,1941.7 1030.6,1921.7" fill="none" stroke="#ff00ff" stroke-width="3.2" stroke-linejoin="round" clip-path="url(#cp3)"/>
<line x1="292.5" y1="233.0" x2="292.5" y2="764.3" stroke="#000" stroke-width="3.2"/>
<line x1="2940.9" y1="233.0" x2="2940.9" y2="764.3" stroke="#000" stroke-width="3.2"/>
<line x1="292.5" y1="764.3" x2="292.5" y2="1228.9" stroke="#808080" stroke-width="3.2"/>
<line x1="2940.9" y1="764.3" x2="2940.9" y2="1228.9" stroke="#808080" stroke-width="3.2"/>
<line x1="292.5" y1="1228.9" x2="292.5" y2="1698.2" stroke="#000" stroke-width="3.2"/>
<line x1="2940.9" y1="1228.9" x2="2940.9" y2="1698.2" stroke="#000" stroke-width="3.2"/>
<line x1="292.5" y1="1698.2" x2="292.5" y2="2165.3" stroke="#808080" stroke-width="3.2"/>
<line x1="2940.9" y1="1698.2" x2="2940.9" y2="2165.3" stroke="#808080" stroke-width="3.2"/>
<line x1="294.5" y1="765.3" x2="2938.9" y2="765.3" stroke="#fbfbfb" stroke-width="3"/>
<line x1="294.5" y1="1229.9" x2="2938.9" y2="1229.9" stroke="#fbfbfb" stroke-width="3"/>
<line x1="294.5" y1="1699.2" x2="2938.9" y2="1699.2" stroke="#fbfbfb" stroke-width="3"/>
<line x1="290.9" y1="233.0" x2="2942.5" y2="233.0" stroke="#262626" stroke-width="3.2"/>
<line x1="290.9" y1="2165.3" x2="2942.5" y2="2165.3" stroke="#262626" stroke-width="3.2"/>
<line x1="292.5" y1="227" x2="292.5" y2="233.0" stroke="#000" stroke-width="3.2"/>
<line x1="294.0" y1="717.7" x2="321.0" y2="717.7" stroke="#000" stroke-width="3.3"/>
<line x1="2939.4" y1="717.7" x2="2912.4" y2="717.7" stroke="#000" stroke-width="3.3"/>
<text x="276.7" y="728.3" font-size="44" fill="#000" stroke="#000" stroke-width="0.7" text-anchor="end">40</text>
<line x1="294.0" y1="601.8" x2="321.0" y2="601.8" stroke="#000" stroke-width="3.3"/>
<line x1="2939.4" y1="601.8" x2="2912.4" y2="601.8" stroke="#000" stroke-width="3.3"/>
<text x="276.7" y="612.4" font-size="44" fill="#000" stroke="#000" stroke-width="0.7" text-anchor="end">60</text>
<line x1="294.0" y1="486.0" x2="321.0" y2="486.0" stroke="#000" stroke-width="3.3"/>
<line x1="2939.4" y1="486.0" x2="2912.4" y2="486.0" stroke="#000" stroke-width="3.3"/>
<text x="276.7" y="496.6" font-size="44" fill="#000" stroke="#000" stroke-width="0.7" text-anchor="end">80</text>
<line x1="294.0" y1="370.2" x2="321.0" y2="370.2" stroke="#000" stroke-width="3.3"/>
<line x1="2939.4" y1="370.2" x2="2912.4" y2="370.2" stroke="#000" stroke-width="3.3"/>
<text x="276.7" y="380.8" font-size="44" fill="#000" stroke="#000" stroke-width="0.7" text-anchor="end">100</text>
<line x1="294.0" y1="254.4" x2="321.0" y2="254.4" stroke="#000" stroke-width="3.3"/>
<line x1="2939.4" y1="254.4" x2="2912.4" y2="254.4" stroke="#000" stroke-width="3.3"/>
<text x="276.7" y="265.0" font-size="44" fill="#000" stroke="#000" stroke-width="0.7" text-anchor="end">120</text>
<line x1="294.0" y1="1212.2" x2="321.0" y2="1212.2" stroke="#808080" stroke-width="3.3"/>
<line x1="2939.4" y1="1212.2" x2="2912.4" y2="1212.2" stroke="#808080" stroke-width="3.3"/>
<text x="2955.3" y="1222.8" font-size="44" fill="#777777" stroke="#777777" stroke-width="0.7" text-anchor="start">0</text>
<line x1="294.0" y1="1095.6" x2="321.0" y2="1095.6" stroke="#808080" stroke-width="3.3"/>
<line x1="2939.4" y1="1095.6" x2="2912.4" y2="1095.6" stroke="#808080" stroke-width="3.3"/>
<text x="2955.3" y="1106.2" font-size="44" fill="#777777" stroke="#777777" stroke-width="0.7" text-anchor="start">100</text>
<line x1="294.0" y1="978.9" x2="321.0" y2="978.9" stroke="#808080" stroke-width="3.3"/>
<line x1="2939.4" y1="978.9" x2="2912.4" y2="978.9" stroke="#808080" stroke-width="3.3"/>
<text x="2955.3" y="989.5" font-size="44" fill="#777777" stroke="#777777" stroke-width="0.7" text-anchor="start">200</text>
<line x1="294.0" y1="862.3" x2="321.0" y2="862.3" stroke="#808080" stroke-width="3.3"/>
<line x1="2939.4" y1="862.3" x2="2912.4" y2="862.3" stroke="#808080" stroke-width="3.3"/>
<text x="2955.3" y="872.9" font-size="44" fill="#777777" stroke="#777777" stroke-width="0.7" text-anchor="start">300</text>
<line x1="294.0" y1="1632.5" x2="321.0" y2="1632.5" stroke="#000" stroke-width="3.3"/>
<line x1="2939.4" y1="1632.5" x2="2912.4" y2="1632.5" stroke="#000" stroke-width="3.3"/>
<text x="276.7" y="1643.1" font-size="44" fill="#000" stroke="#000" stroke-width="0.7" text-anchor="end">990</text>
<line x1="294.0" y1="1550.5" x2="321.0" y2="1550.5" stroke="#000" stroke-width="3.3"/>
<line x1="2939.4" y1="1550.5" x2="2912.4" y2="1550.5" stroke="#000" stroke-width="3.3"/>
<text x="276.7" y="1561.0" font-size="44" fill="#000" stroke="#000" stroke-width="0.7" text-anchor="end">1000</text>
<line x1="294.0" y1="1468.4" x2="321.0" y2="1468.4" stroke="#000" stroke-width="3.3"/>
<line x1="2939.4" y1="1468.4" x2="2912.4" y2="1468.4" stroke="#000" stroke-width="3.3"/>
<text x="276.7" y="1479.0" font-size="44" fill="#000" stroke="#000" stroke-width="0.7" text-anchor="end">1010</text>
<line x1="294.0" y1="1386.3" x2="321.0" y2="1386.3" stroke="#000" stroke-width="3.3"/>
<line x1="2939.4" y1="1386.3" x2="2912.4" y2="1386.3" stroke="#000" stroke-width="3.3"/>
<text x="276.7" y="1396.9" font-size="44" fill="#000" stroke="#000" stroke-width="0.7" text-anchor="end">1020</text>
<line x1="294.0" y1="1304.3" x2="321.0" y2="1304.3" stroke="#000" stroke-width="3.3"/>
<line x1="2939.4" y1="1304.3" x2="2912.4" y2="1304.3" stroke="#000" stroke-width="3.3"/>
<text x="276.7" y="1314.9" font-size="44" fill="#000" stroke="#000" stroke-width="0.7" text-anchor="end">1030</text>
<line x1="294.0" y1="2134.5" x2="321.0" y2="2134.5" stroke="#808080" stroke-width="3.3"/>
<line x1="2939.4" y1="2134.5" x2="2912.4" y2="2134.5" stroke="#808080" stroke-width="3.3"/>
<text x="2955.3" y="2145.1" font-size="44" fill="#777777" stroke="#777777" stroke-width="0.7" text-anchor="start">-10</text>
<line x1="294.0" y1="2013.0" x2="321.0" y2="2013.0" stroke="#808080" stroke-width="3.3"/>
<line x1="2939.4" y1="2013.0" x2="2912.4" y2="2013.0" stroke="#808080" stroke-width="3.3"/>
<text x="2955.3" y="2023.6" font-size="44" fill="#777777" stroke="#777777" stroke-width="0.7" text-anchor="start">0</text>
<line x1="294.0" y1="1891.4" x2="321.0" y2="1891.4" stroke="#808080" stroke-width="3.3"/>
<line x1="2939.4" y1="1891.4" x2="2912.4" y2="1891.4" stroke="#808080" stroke-width="3.3"/>
<text x="2955.3" y="1902.0" font-size="44" fill="#777777" stroke="#777777" stroke-width="0.7" text-anchor="start">10</text>
<line x1="294.0" y1="1769.9" x2="321.0" y2="1769.9" stroke="#808080" stroke-width="3.3"/>
<line x1="2939.4" y1="1769.9" x2="2912.4" y2="1769.9" stroke="#808080" stroke-width="3.3"/>
<text x="2955.3" y="1780.5" font-size="44" fill="#777777" stroke="#777777" stroke-width="0.7" text-anchor="start">20</text>
<line x1="331.3" y1="234.5" x2="331.3" y2="261.5" stroke="#262626" stroke-width="3.3"/>
<line x1="331.3" y1="2163.8" x2="331.3" y2="2136.8" stroke="#262626" stroke-width="3.3"/>
<text x="331.3" y="2217.7" font-size="45" fill="#262626" stroke="#262626" stroke-width="0.7" text-anchor="middle">Jan</text>
<line x1="550.6" y1="234.5" x2="550.6" y2="261.5" stroke="#262626" stroke-width="3.3"/>
<line x1="550.6" y1="2163.8" x2="550.6" y2="2136.8" stroke="#262626" stroke-width="3.3"/>
<text x="550.6" y="2217.7" font-size="45" fill="#262626" stroke="#262626" stroke-width="0.7" text-anchor="middle">Feb</text>
<line x1="748.4" y1="234.5" x2="748.4" y2="261.5" stroke="#262626" stroke-width="3.3"/>
<line x1="748.4" y1="2163.8" x2="748.4" y2="2136.8" stroke="#262626" stroke-width="3.3"/>
<text x="748.4" y="2217.7" font-size="45" fill="#262626" stroke="#262626" stroke-width="0.7" text-anchor="middle">Mar</text>
<line x1="974.6" y1="234.5" x2="974.6" y2="261.5" stroke="#262626" stroke-width="3.3"/>
<line x1="974.6" y1="2163.8" x2="974.6" y2="2136.8" stroke="#262626" stroke-width="3.3"/>
<text x="974.6" y="2217.7" font-size="45" fill="#262626" stroke="#262626" stroke-width="0.7" text-anchor="middle">Apr</text>
<line x1="1186.4" y1="234.5" x2="1186.4" y2="261.5" stroke="#262626" stroke-width="3.3"/>
<line x1="1186.4" y1="2163.8" x2="1186.4" y2="2136.8" stroke="#262626" stroke-width="3.3"/>
<text x="1186.4" y="2217.7" font-size="45" fill="#262626" stroke="#262626" stroke-width="0.7" text-anchor="middle">May</text>
<line x1="1405.2" y1="234.5" x2="1405.2" y2="261.5" stroke="#262626" stroke-width="3.3"/>
<line x1="1405.2" y1="2163.8" x2="1405.2" y2="2136.8" stroke="#262626" stroke-width="3.3"/>
<text x="1405.2" y="2217.7" font-size="45" fill="#262626" stroke="#262626" stroke-width="0.7" text-anchor="middle">Jun</text>
<line x1="1616.8" y1="234.5" x2="1616.8" y2="261.5" stroke="#262626" stroke-width="3.3"/>
<line x1="1616.8" y1="2163.8" x2="1616.8" y2="2136.8" stroke="#262626" stroke-width="3.3"/>
<text x="1616.8" y="2217.7" font-size="45" fill="#262626" stroke="#262626" stroke-width="0.7" text-anchor="middle">Jul</text>
<line x1="1835.7" y1="234.5" x2="1835.7" y2="261.5" stroke="#262626" stroke-width="3.3"/>
<line x1="1835.7" y1="2163.8" x2="1835.7" y2="2136.8" stroke="#262626" stroke-width="3.3"/>
<text x="1835.7" y="2217.7" font-size="45" fill="#262626" stroke="#262626" stroke-width="0.7" text-anchor="middle">Aug</text>
<line x1="2054.6" y1="234.5" x2="2054.6" y2="261.5" stroke="#262626" stroke-width="3.3"/>
<line x1="2054.6" y1="2163.8" x2="2054.6" y2="2136.8" stroke="#262626" stroke-width="3.3"/>
<text x="2054.6" y="2217.7" font-size="45" fill="#262626" stroke="#262626" stroke-width="0.7" text-anchor="middle">Sep</text>
<line x1="2266.5" y1="234.5" x2="2266.5" y2="261.5" stroke="#262626" stroke-width="3.3"/>
<line x1="2266.5" y1="2163.8" x2="2266.5" y2="2136.8" stroke="#262626" stroke-width="3.3"/>
<text x="2266.5" y="2217.7" font-size="45" fill="#262626" stroke="#262626" stroke-width="0.7" text-anchor="middle">Oct</text>
<line x1="2485.4" y1="234.5" x2="2485.4" y2="261.5" stroke="#262626" stroke-width="3.3"/>
<line x1="2485.4" y1="2163.8" x2="2485.4" y2="2136.8" stroke="#262626" stroke-width="3.3"/>
<text x="2485.4" y="2217.7" font-size="45" fill="#262626" stroke="#262626" stroke-width="0.7" text-anchor="middle">Nov</text>
<line x1="2697.4" y1="234.5" x2="2697.4" y2="261.5" stroke="#262626" stroke-width="3.3"/>
<line x1="2697.4" y1="2163.8" x2="2697.4" y2="2136.8" stroke="#262626" stroke-width="3.3"/>
<text x="2697.4" y="2217.7" font-size="45" fill="#262626" stroke="#262626" stroke-width="0.7" text-anchor="middle">Dec</text>
<text x="1150.00" y="94.0" font-size="50" fill="#000" stroke="#000" stroke-width="0.7" textLength="1791.00" lengthAdjust="spacingAndGlyphs">Relative Humidity, Solar Radiation, Absolute Barometric Pressure and Air Temperature</text>
<text x="1310.00" y="149.0" font-size="50" fill="#000" stroke="#000" stroke-width="0.7" textLength="1631.00" lengthAdjust="spacingAndGlyphs">Douglas Channel <tspan font-size="44">&#9679;</tspan> Hartley Bay Shore Station <tspan font-size="44">&#9679;</tspan> 53.4254&#176;N <tspan font-size="44">&#9679;</tspan> 129.2483&#176;W <tspan font-size="44">&#9679;</tspan> -8 m</text>
<text x="1775.99" y="204.3" font-size="50" fill="#000" stroke="#000" stroke-width="0.7" textLength="1165.01" lengthAdjust="spacingAndGlyphs">State of Environment Climate Plot <tspan font-size="44">&#9679;</tspan> Daily Average Data</text>
<text x="1280.00" y="2275.8" font-size="50" fill="#262626" stroke="#262626" stroke-width="0.7" textLength="671.41" lengthAdjust="spacingAndGlyphs">Month of Year (2020-2026, UTC)</text>
<text x="481.99" y="291.9" font-size="36.5" fill="#000" stroke="#000" stroke-width="0.7" textLength="393.21" lengthAdjust="spacingAndGlyphs">Daily averages (2020-2025)</text>
<text x="1048.79" y="291.9" font-size="36.5" fill="#000" stroke="#000" stroke-width="0.7" textLength="449.11" lengthAdjust="spacingAndGlyphs">Overall daily average (6 years)</text>
<text x="1668.46" y="291.9" font-size="36.5" fill="#000" stroke="#000" stroke-width="0.7" textLength="176.09" lengthAdjust="spacingAndGlyphs">-1 Std. dev.</text>
<text x="2015.37" y="291.9" font-size="36.5" fill="#000" stroke="#000" stroke-width="0.7" textLength="190.28" lengthAdjust="spacingAndGlyphs">+1 Std. dev.</text>
<text x="2377.99" y="291.9" font-size="36.5" fill="#000" stroke="#000" stroke-width="0.7" textLength="301.82" lengthAdjust="spacingAndGlyphs">Daily average (2026)</text>
<text x="160.40" y="2318.8" font-size="36.5" fill="#000" stroke="#000" stroke-width="0.7" textLength="2357.60" lengthAdjust="spacingAndGlyphs">Sample period: 1 minute (average). Comments: Acknowledgement: Gitga&#8217;at First Nation (owner); Ocean Networks Canada Society (distributor, owner, custodian). Clean</text>
<text x="161.00" y="2355.8" font-size="36.5" fill="#000" stroke="#000" stroke-width="0.7" textLength="2353.30" lengthAdjust="spacingAndGlyphs">Data (major quality failures (QAQC 3,4,6) excluded): all data plotted pass QAQC. QAQC testing complete, manual QAQC screening may be needed for recent data. See</text>
<text x="160.50" y="2393.7" font-size="36.5" fill="#000" stroke="#000" stroke-width="0.7" textLength="1377.91" lengthAdjust="spacingAndGlyphs">documentation for details. Standard deviations calculated from daily averages. Leap days excluded.</text>
<text x="2565.70" y="2376.8" font-size="36.5" fill="#000" stroke="#000" stroke-width="0.7" font-style="italic" textLength="585.01" lengthAdjust="spacingAndGlyphs">Plot generated 11-Apr-2026 04:10:17 UTC</text>
<text transform="translate(183.9 0) rotate(-90)" x="-728.71" y="0" font-size="49" fill="#000" stroke="#000" stroke-width="0.7" textLength="457.02" lengthAdjust="spacingAndGlyphs">Relative Humidity (%)</text>
<text transform="translate(163.9 0) rotate(-90)" x="-1751.70" y="0" font-size="49" fill="#000" stroke="#000" stroke-width="0.7" textLength="571.01" lengthAdjust="spacingAndGlyphs">Absolute Air Pressure (hPa)</text>
<text transform="translate(3073.0 0) rotate(-90)" x="-1259.41" y="0" font-size="49" fill="#777777" stroke="#777777" stroke-width="0.7" textLength="521.83" lengthAdjust="spacingAndGlyphs">Global Radiation (W/m<tspan dy="-17" font-size="34">2</tspan><tspan dy="17">)</tspan></text>
<text transform="translate(3065.7 0) rotate(-90)" x="-2143.81" y="0" font-size="49" fill="#777777" stroke="#777777" stroke-width="0.7" textLength="420.82" lengthAdjust="spacingAndGlyphs">Air Temperature (C)</text>
<text x="303.94" y="95.0" font-size="45.5" fill="#13a0c5" style="font-family:'DejaVu Sans Mono','Liberation Mono',monospace" font-weight="bold" textLength="154.14" lengthAdjust="spacingAndGlyphs">OCEAN</text>
<text x="474.92" y="95.0" font-size="45.5" fill="#13a0c5" style="font-family:'DejaVu Sans Mono','Liberation Mono',monospace" font-weight="bold" textLength="258.18" lengthAdjust="spacingAndGlyphs">NETWORKS</text>
<text x="745.89" y="95.0" font-size="45.5" fill="#13a0c5" style="font-family:'DejaVu Sans Mono','Liberation Mono',monospace" font-weight="bold" textLength="194.14" lengthAdjust="spacingAndGlyphs">CANADA</text>
<line x1="343.5" y1="282.8" x2="469.4" y2="282.8" stroke="#898989" stroke-width="1.2"/>
<line x1="910.2" y1="282.8" x2="1035.4" y2="282.8" stroke="#000" stroke-width="4.5"/>
<line x1="1531.2" y1="282.8" x2="1657.6" y2="282.8" stroke="#0000ff" stroke-width="3.2"/>
<line x1="1877.3" y1="282.8" x2="2003.4" y2="282.8" stroke="#ff0000" stroke-width="3.2"/>
<line x1="2239.7" y1="282.8" x2="2364.6" y2="282.8" stroke="#ff00ff" stroke-width="3.2"/>
</svg></body></html>
